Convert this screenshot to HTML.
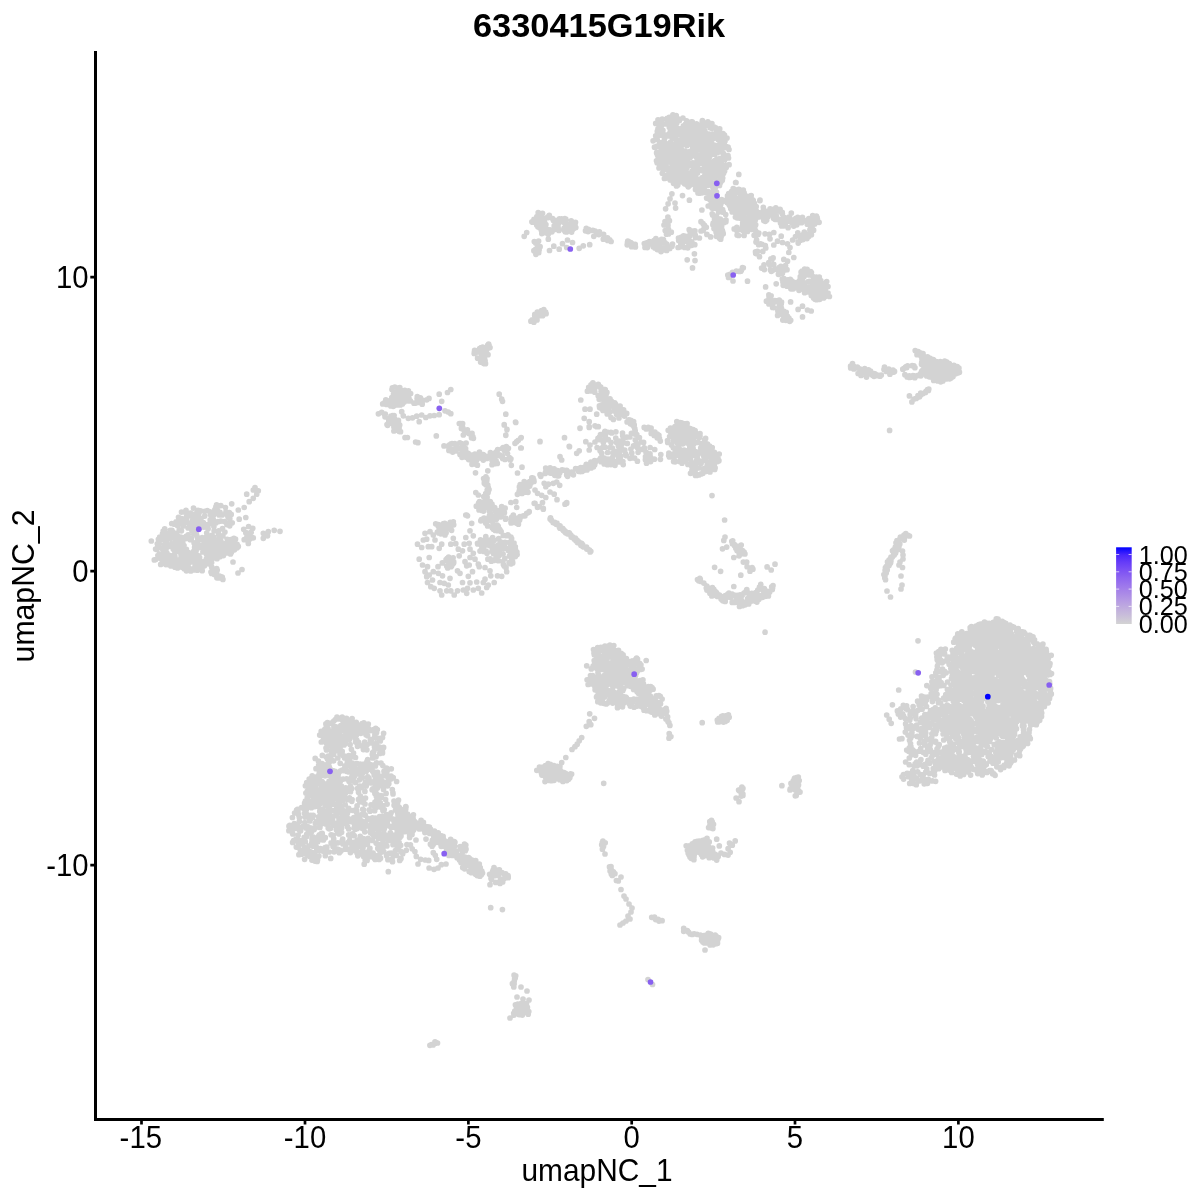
<!DOCTYPE html>
<html><head><meta charset="utf-8"><title>6330415G19Rik</title>
<style>
html,body{margin:0;padding:0;background:#fff;}
svg{display:block;font-family:"Liberation Sans",sans-serif;}
text{filter:grayscale(1);}
.t{font-size:31px;fill:#000;}
.l{font-size:26.7px;fill:#000;}
</style></head><body>
<svg width="1200" height="1200" viewBox="0 0 1200 1200">
<defs><linearGradient id="g" x1="0" y1="1" x2="0" y2="0">
<stop offset="0" stop-color="#D3D3D3"/><stop offset=".1" stop-color="#CAC0D9"/><stop offset=".2" stop-color="#C1AEDE"/><stop offset=".3" stop-color="#B69CE3"/><stop offset=".4" stop-color="#AA89E7"/><stop offset=".5" stop-color="#9D77EC"/><stop offset=".6" stop-color="#8E65F0"/><stop offset=".7" stop-color="#7C51F4"/><stop offset=".8" stop-color="#673DF8"/><stop offset=".9" stop-color="#4926FB"/><stop offset="1" stop-color="#0000FF"/>
</linearGradient></defs>
<rect width="1200" height="1200" fill="#fff"/>
<text transform="translate(599.1 37) scale(1.017 1)" text-anchor="middle" font-size="33.8" font-weight="bold">6330415G19Rik</text>
<path fill="none" stroke="#D3D3D3" stroke-width="5.7" stroke-linecap="round" d="M662.4 156.6h.01M697.6 181.7h.01M673 181.5h.01M708.2 167.8h.01M729 149.5h.01M707.3 184.4h.01M677.4 170.1h.01M666.9 159.8h.01M683.6 174.5h.01M693.2 175.4h.01M656.5 160.8h.01M687.3 166.7h.01M699.1 131.2h.01M665.9 151.3h.01M712.2 173.3h.01M695.7 182h.01M688.4 165.8h.01M718 170.8h.01M703.1 147.2h.01M696.1 146.3h.01M711.7 144.9h.01M688.5 177.5h.01M691.6 141.2h.01M718.6 145h.01M720.1 180.1h.01M686.8 173.8h.01M721.4 162.2h.01M696.1 169.6h.01M706.1 162.6h.01M684.6 127.8h.01M673.9 137.3h.01M678.9 150.7h.01M680.5 162.4h.01M681 135.1h.01M723.4 154.8h.01M721.9 139.1h.01M690.8 129.1h.01M684.6 183.8h.01M689 178.6h.01M687.7 144.3h.01M695.1 129.4h.01M675.9 173.3h.01M710.7 182.9h.01M670 167.8h.01M680.9 167.2h.01M671 153.3h.01M693.3 166.7h.01M673.6 138.5h.01M670.8 117.7h.01M714 173.5h.01M665.8 123.8h.01M676.3 178.6h.01M704.3 165.8h.01M713.7 177.1h.01M678.2 134.2h.01M686 154.4h.01M661.2 150.2h.01M703 123.7h.01M660.9 127h.01M663.2 153.1h.01M663 135.3h.01M715.7 127.9h.01M701.1 147.2h.01M684.3 182.8h.01M724.2 169.9h.01M699.7 179h.01M700.6 169.7h.01M706.2 161.4h.01M729.1 164.7h.01M710 172.2h.01M677.6 118.6h.01M660.4 127.9h.01M674.8 150.8h.01M724.6 171h.01M720.9 146.9h.01M669.9 124.3h.01M716.3 171.5h.01M667.2 135.1h.01M708.2 123.1h.01M659.2 156.7h.01M695.4 185.4h.01M700.3 139h.01M702 151.4h.01M721.6 137.3h.01M712.8 167.1h.01M666.5 175.4h.01M672.7 152.6h.01M721.4 150.8h.01M672.1 126.9h.01M667.3 176.1h.01M697.3 155.9h.01M689.1 181.8h.01M680.3 177.9h.01M717.4 152.7h.01M676.2 115.5h.01M662.2 119h.01M676.5 161.5h.01M712.4 163.1h.01M716.6 159.7h.01M666 162.5h.01M690.5 126.3h.01M701.2 182.8h.01M660.7 159.2h.01M710.8 146.9h.01M672 144.2h.01M694.7 171.5h.01M657.9 133.6h.01M653.1 140.8h.01M690.2 157.4h.01M711.8 149.9h.01M661.2 142.6h.01M675.4 179.8h.01M663 151.5h.01M704.8 156h.01M663.2 124h.01M673.2 116.4h.01M660.3 152.3h.01M679.2 162.9h.01M672.9 114.8h.01M712.6 134.1h.01M683.3 177.5h.01M686 164.2h.01M709 153.2h.01M658 119.9h.01M726.3 165h.01M687.8 160.9h.01M711.1 170.8h.01M717.5 147.6h.01M715 189.3h.01M728.1 147.1h.01M712.7 152.8h.01M686.9 145.4h.01M685.6 124h.01M696.7 170.2h.01M716.6 131.9h.01M669 136h.01M674.8 178h.01M680.7 140h.01M702.7 128.1h.01M712.7 137.6h.01M683.2 162.1h.01M670.6 142.1h.01M700.4 163.1h.01M662.3 173.3h.01M670.6 129.3h.01M693 164.1h.01M708.2 141.1h.01M685.8 129.7h.01M724.6 167.1h.01M657.2 139.5h.01M702.4 120.6h.01M725 141h.01M706 159.4h.01M671.2 162.6h.01M703 156.9h.01M707.4 182.4h.01M715.2 151.2h.01M683.1 138.9h.01M709 155.5h.01M675.9 136.2h.01M728 155.7h.01M692.2 155.7h.01M662.1 147.3h.01M719.2 166.1h.01M710.5 161.9h.01M665.7 152.8h.01M694.6 145h.01M691.6 137.6h.01M704.4 126.9h.01M690.7 152.3h.01M716.6 136.8h.01M709.7 140.9h.01M699.8 192.3h.01M717 158.9h.01M681.1 142.3h.01M722.9 165.9h.01M693 129.3h.01M692.9 137.1h.01M659.9 123h.01M716.5 192h.01M698.2 148.6h.01M705 137h.01M682.8 152.1h.01M682.4 155.8h.01M722.8 170.3h.01M662.9 130.4h.01M656.6 152.9h.01M676 121.3h.01M717.3 181.8h.01M696.5 123.8h.01M702.1 149.1h.01M721.7 145.8h.01M692.2 121.8h.01M713.6 175.4h.01M709.7 148.7h.01M684.1 179.6h.01M664.1 167.4h.01M709.6 156.7h.01M722.5 152.6h.01M688.3 136.6h.01M664.9 143.8h.01M674.9 164.2h.01M722.2 168.6h.01M674 179.5h.01M687 124.7h.01M695.4 176.5h.01M687.9 178.7h.01M698.1 189h.01M715.3 187.4h.01M665.9 135h.01M676.6 163.2h.01M702 192.8h.01M665.6 143.3h.01M717.9 159.6h.01M692.3 177.9h.01M698.2 162.9h.01M683.6 165.2h.01M723.6 173.2h.01M688.8 182.6h.01M673 122.9h.01M718.9 137.7h.01M720.3 164.8h.01M674.7 123h.01M723.6 153.6h.01M659.8 155.2h.01M683.5 167.5h.01M726 146.5h.01M695.9 139.7h.01M666.7 119.2h.01M708.2 191.5h.01M679.4 120.5h.01M710.3 123.8h.01M676.8 122.9h.01M699.5 170.2h.01M711 169h.01M659.7 158.2h.01M683.7 159.4h.01M709.6 193.3h.01M711 142.1h.01M714.3 127.2h.01M687.9 157.3h.01M706.9 146h.01M684 143.6h.01M690.7 136.3h.01M686.2 137.4h.01M719.5 185.5h.01M701.2 190.3h.01M679.5 160.1h.01M686.5 168.4h.01M716 167.1h.01M722.3 140.2h.01M708.7 134.8h.01M692 171.1h.01M717.1 169.7h.01M676.3 169.1h.01M697.6 165.5h.01M686.8 131.4h.01M710.2 152.2h.01M711.8 143.5h.01M701.5 192h.01M714 134.6h.01M707.8 144.8h.01M676.3 154.3h.01M693.8 172.2h.01M702.8 170.8h.01M681.5 170.7h.01M678.3 164.7h.01M667.8 145.4h.01M724.2 142.7h.01M659.6 143.3h.01M690.8 122.1h.01M672.4 173.8h.01M697.9 149.5h.01M673.5 183.3h.01M711.9 123.5h.01M700.6 187.6h.01M703.4 131.1h.01M680.4 166h.01M727 138.1h.01M686.5 181.2h.01M668.9 169.2h.01M705.7 152.2h.01M665.2 146.9h.01M711.8 128.3h.01M656.9 152.1h.01M716.4 182.9h.01M703.6 128.1h.01M718.3 175.1h.01M711.9 172.5h.01M705.7 156.8h.01M677.7 140.3h.01M662.4 154.6h.01M680.3 148.5h.01M720.7 171.1h.01M667.6 156h.01M657.1 146h.01M712.8 187.1h.01M692 181.2h.01M686.3 142.6h.01M691.7 128.8h.01M675.1 138.4h.01M720.8 168.1h.01M685.2 129h.01M658.3 120.9h.01M709.7 124.6h.01M695.7 125.7h.01M677.7 128.3h.01M709.3 134.2h.01M714.7 154.3h.01M694.2 151.6h.01M690.8 132.2h.01M658 128.8h.01M720.8 172.6h.01M675.8 145.9h.01M684.7 178.9h.01M655.7 135.9h.01M706 168h.01M664.5 138.7h.01M673 177.5h.01M678.6 142.7h.01M702.4 187h.01M720.7 166.1h.01M680 181h.01M707 151.1h.01M688.4 174.2h.01M669.2 117.4h.01M666.1 147.9h.01M676.3 143.4h.01M694.1 150h.01M671.8 159h.01M718.4 139.8h.01M674.4 168.9h.01M721.2 181.2h.01M690.3 185h.01M688 134.8h.01M689.7 141h.01M713.6 184.1h.01M661.2 126.2h.01M681.5 152.1h.01M706.1 135.4h.01M719.1 135.9h.01M656 139.3h.01M696.2 131.2h.01M722.7 178h.01M681.1 140.6h.01M654.5 147.2h.01M673.4 145.3h.01M677.2 144.6h.01M701.2 155.1h.01M692.4 151.7h.01M709.1 177.2h.01M720.5 182.4h.01M709.8 125.5h.01M707.9 134h.01M671 122.3h.01M704.4 176.9h.01M703.1 184.7h.01M671.8 152h.01M663.8 158.7h.01M678.2 168.8h.01M670 173.3h.01M710.9 174.6h.01M697.7 135.5h.01M685.7 156.8h.01M692.7 133.4h.01M671.6 143.5h.01M714.8 149.9h.01M694.4 143h.01M684.4 144.3h.01M663.4 169.4h.01M714.9 177.9h.01M668.6 156.6h.01M687 184.9h.01M671.9 137.1h.01M703.8 125.2h.01M719.7 128.9h.01M719.6 134h.01M657.1 162.8h.01M689.5 179.8h.01M688.2 155.1h.01M690.2 151.4h.01M683.4 125.9h.01M674.1 134.9h.01M670.2 179.9h.01M658.9 129.7h.01M675.6 132.7h.01M680.6 155.5h.01M685.4 151.1h.01M684.2 132.6h.01M666.5 169.4h.01M698.8 136.1h.01M658 146.1h.01M701.3 142.4h.01M678.5 119.4h.01M722.1 169.6h.01M668.8 161.1h.01M667.7 151.7h.01M699 160.1h.01M707.5 138.5h.01M681.5 132.8h.01M673.8 127.1h.01M679.5 172.1h.01M678 162.1h.01M710.8 182h.01M708.9 196.8h.01M693.1 130.5h.01M711.1 140.8h.01M688.1 184.4h.01M679.3 181.8h.01M714.9 152.6h.01M724.5 145.3h.01M677.1 158.1h.01M700.1 158.5h.01M728.5 158h.01M718.1 149.5h.01M709.1 183.7h.01M718.3 172.2h.01M722.5 142.7h.01M683.7 140.9h.01M677.1 121.3h.01M713.5 149h.01M697 136.6h.01M679.6 177.3h.01M688.7 163.7h.01M684.8 160.3h.01M724.5 135.1h.01M669.9 177.9h.01M717.7 166.7h.01M693.6 176.4h.01M726.2 167.6h.01M699.8 145.6h.01M697.2 160.1h.01M711.1 192.1h.01M674.2 152.5h.01M673.8 154.3h.01M720.7 135.3h.01M718.3 133.1h.01M674.8 160h.01M704.1 188.3h.01M723 133.6h.01M702.6 145.4h.01M660.1 126.3h.01M713.4 138.4h.01M698.4 155.1h.01M711.5 124.5h.01M691.4 143.8h.01M686.7 127.2h.01M662.9 144.9h.01M707.7 168.5h.01M702.5 189.9h.01M673.2 157.6h.01M691.8 180.3h.01M675.5 184.1h.01M669.3 127.3h.01M697.5 173h.01M714.2 145.2h.01M668.8 154.7h.01M696.6 157.2h.01M707.4 166.3h.01M677.5 119.9h.01M705.9 125.6h.01M700 142.8h.01M655.7 123.4h.01M671.4 178.4h.01M692.1 130.1h.01M666.9 146.8h.01M696.2 143.2h.01M676.5 185.9h.01M715.2 169.9h.01M667 149h.01M659 168h.01M664.4 178.5h.01M704.8 175.6h.01M700.2 129.1h.01M707.9 121.9h.01M686.9 121.8h.01M680.4 145.7h.01M666.8 157.2h.01M698 193h.01M678.4 174.9h.01M718.5 168.4h.01M673.6 166h.01M707.3 122.8h.01M707.1 141h.01M702.6 155.5h.01M720.6 176.4h.01M719.3 162.1h.01M697.6 158h.01M704.8 130.7h.01M686.6 120.8h.01M688.3 186.8h.01M702.3 144.4h.01M661.9 166.3h.01M690 141.9h.01M671 172.3h.01M671.1 177.3h.01M680.8 153.4h.01M677.8 184.9h.01M704.6 184.1h.01M694.9 175.6h.01M669.7 161.8h.01M712.4 154.1h.01M708.3 172.9h.01M719.8 158.5h.01M672.4 127.8h.01M665.9 161.7h.01M672.8 132.9h.01M689.8 164.2h.01M713.4 151h.01M668.2 159.1h.01M707.7 153.8h.01M678.9 133.4h.01M674.2 116.2h.01M710.3 180.4h.01M683.3 163.6h.01M667.9 169.9h.01M708.7 175.7h.01M658.2 157.9h.01M665.3 178.3h.01M681.4 128.5h.01M706.9 173h.01M700.6 134.7h.01M677.9 182h.01M657.4 154.8h.01M714.7 160.5h.01M721 144.9h.01M710.9 137.2h.01M684.9 167.1h.01M667.9 155.2h.01M676.9 132.4h.01M708.4 183.2h.01M671.4 118.7h.01M688.5 126.6h.01M701.9 147.9h.01M694 127h.01M693.9 138h.01M678.1 172.4h.01M714.7 184.4h.01M701 185.4h.01M704.6 192.4h.01M671.8 145.7h.01M670.5 127.2h.01M660.8 135.2h.01M680.9 174.4h.01M706.6 176.8h.01M686.5 179.3h.01M662.2 132.5h.01M699.3 193.2h.01M666.2 163.5h.01M724.7 147.5h.01M722.3 180.3h.01M682.1 136.7h.01M722.6 145h.01M686.9 161.1h.01M671.7 134.5h.01M664 150.4h.01M683.6 160.8h.01M695.5 189.4h.01M695.4 170.8h.01M708 181.2h.01M716.9 130.7h.01M719.1 161.3h.01M705.4 185.9h.01M681.2 157.8h.01M689.5 135.3h.01M677.7 156.5h.01M665.7 164.6h.01M682.6 181.9h.01M705.2 174.6h.01M708.5 164.5h.01M684.5 142.8h.01M690.4 131.2h.01M685.2 156h.01M673.2 167h.01M717.4 165.3h.01M705 165.2h.01M670.8 144.6h.01M700.3 182.8h.01M699.1 190.5h.01M669.8 150.5h.01M708.8 181.7h.01M702.3 177.6h.01M702 191.2h.01M685.3 173.1h.01M669.8 169.9h.01M707.5 158.8h.01M667.2 118.3h.01M692.9 162.8h.01M701.5 134.9h.01M717.8 129.3h.01M684.6 131h.01M721.4 165.7h.01M702.2 139.2h.01M664.3 164.8h.01M673.4 156.4h.01M721.4 179.1h.01M658.2 135.5h.01M681.1 148.6h.01M683.1 128.6h.01M705.7 140h.01M701.9 182.3h.01M713.2 194.7h.01M670.1 132.2h.01M692.8 152.4h.01M700.1 179.8h.01M689.6 165.2h.01M676.3 150h.01M686.8 159.5h.01M689.3 173.3h.01M676.9 119.3h.01M675.7 122.3h.01M699.3 185.3h.01M699.6 125.1h.01M683.4 135h.01M687.8 123.6h.01M717.7 133.9h.01M665.3 157.5h.01M698.2 188.2h.01M658.7 122.5h.01M708.9 174.4h.01M704.9 159.9h.01M671.2 149.3h.01M719.2 169.3h.01M686.7 135.6h.01M716.8 169h.01M724.7 159.7h.01M708.8 185.1h.01M680.5 152.6h.01M725.7 147.6h.01M684.7 141.2h.01M672.6 130.4h.01M685.5 125.9h.01M674.8 129.1h.01M670 171.8h.01M696.9 132.3h.01M677.3 152.1h.01M725.6 158.6h.01M719.7 167.5h.01M696.5 154.4h.01M706.4 154.6h.01M710.2 127.7h.01M712.8 169.7h.01M686.4 183.2h.01M662 162.9h.01M692.5 146.3h.01M672.1 132.6h.01M658 160h.01M709.1 167.5h.01M704.7 181.8h.01M682.6 150.6h.01M702.2 121.5h.01M657.3 131.4h.01M671.2 124.6h.01M692.8 150.2h.01M681.2 178.6h.01M708.8 160.7h.01M701.4 162.4h.01M706.1 192.5h.01M687.2 179.8h.01M674 164.6h.01M682.9 118h.01M676.1 145h.01M716.5 160.5h.01M723.4 221.3h.01M716.1 232.3h.01M712.2 213.8h.01M716.4 216h.01M713.2 207.4h.01M720.5 203.2h.01M714.5 227.9h.01M722.4 212.1h.01M719 208.3h.01M724.2 222.6h.01M712.6 215.1h.01M714.4 202.5h.01M726 220h.01M710.2 198.1h.01M715 198.3h.01M716.5 228.4h.01M712.4 201.7h.01M713.6 201.6h.01M722.6 209.6h.01M722.3 230.4h.01M720.3 209.1h.01M719.9 211.1h.01M712.9 224.7h.01M721.1 236.9h.01M725.7 214.5h.01M721.4 202.4h.01M717.3 223.7h.01M722.3 220.8h.01M714 228.6h.01M716 231.2h.01M717.3 218.1h.01M717.8 227.3h.01M720.9 235.5h.01M709.8 199.6h.01M706.6 198.1h.01M720.3 219.2h.01M722.8 232.1h.01M723.3 212h.01M715 216.9h.01M721.6 226.4h.01M721.5 223.4h.01M717.1 230.2h.01M714.4 206.2h.01M722.1 201.7h.01M721.3 211.6h.01M716.4 236.3h.01M718.2 222.7h.01M718.2 221.9h.01M719.2 233.3h.01M712 208.1h.01M717.7 219.4h.01M711.5 203.2h.01M713.2 223.1h.01M714.6 194.6h.01M714.8 229.1h.01M720.6 205.1h.01M712.8 203.8h.01M719.1 206.7h.01M714.5 219.1h.01M712.7 205.6h.01M715 216h.01M711.3 201.8h.01M719.6 238.3h.01M725.9 221.7h.01M720.7 239.2h.01M721.7 199.7h.01M711 196.9h.01M719.4 201.2h.01M714.3 208.2h.01M723.2 233.7h.01M718.3 225.8h.01M711.7 200.3h.01M718.5 212h.01M718.7 231.1h.01M716.6 202.2h.01M721.5 233.2h.01M708.2 206h.01M744 209.4h.01M728.7 193.7h.01M741.2 199.7h.01M739.8 218.1h.01M735.4 217h.01M754.5 229.5h.01M732.7 200h.01M739.6 209.8h.01M751.6 206.9h.01M729.5 200.2h.01M744.5 198.6h.01M738.8 189.4h.01M748.8 205.5h.01M741.3 197.7h.01M733.2 188.7h.01M734.6 193.7h.01M742.5 209.4h.01M742.7 222.8h.01M739.3 205h.01M742.5 215.1h.01M747.9 227.8h.01M746.6 198.7h.01M733.7 191.8h.01M747.2 218.1h.01M744.9 204h.01M740.1 198.2h.01M735.4 212.7h.01M740.6 203.4h.01M727 199.3h.01M747.5 219.6h.01M753.9 223.7h.01M733.4 195.6h.01M731.7 191.4h.01M732.8 196.6h.01M746.9 197.9h.01M732.2 212h.01M730.7 208.5h.01M753.2 200.3h.01M742.1 206.5h.01M752.4 202h.01M747.3 205.3h.01M740.7 211.6h.01M736.8 208.2h.01M744.1 192.8h.01M742.7 218.3h.01M748.8 196.6h.01M739.3 200h.01M737.6 203h.01M727.5 195.8h.01M752.3 229.5h.01M745.3 227.8h.01M736.7 205.1h.01M755.7 208.9h.01M740.4 206.5h.01M729.2 196h.01M734.2 189.1h.01M752.4 208.8h.01M744.6 227.2h.01M734.7 197h.01M732.6 198.9h.01M729 204.4h.01M737.1 217.8h.01M751.3 200.5h.01M738.2 192.2h.01M754 203.5h.01M747.7 196.7h.01M740.2 194.8h.01M739.8 216h.01M752.9 218.9h.01M735.9 208.7h.01M746.9 225h.01M747.2 209.5h.01M734.1 205h.01M750.8 204.9h.01M752.4 204.6h.01M749 208h.01M746.3 197.3h.01M727.6 201h.01M753.3 225.6h.01M743.3 190.2h.01M739 212.9h.01M733.4 205.8h.01M736.9 190.2h.01M728.8 201h.01M754.8 228.3h.01M749.9 198h.01M752.7 224.1h.01M735.5 192.2h.01M729.4 205.2h.01M739 202.6h.01M746.3 201.2h.01M746 224.3h.01M751.8 225.4h.01M734.5 199h.01M729 198.1h.01M750.7 221.8h.01M744.4 217.9h.01M743.3 210.9h.01M727.1 202.4h.01M742.8 197.8h.01M730.8 206.9h.01M738.3 198.7h.01M732.7 201.8h.01M743.2 207.8h.01M735.1 199.6h.01M731.4 205.8h.01M744 212.6h.01M737.3 211.4h.01M737.9 190h.01M753.5 218.2h.01M734.1 192.5h.01M734.9 201.3h.01M738.6 235.5h.01M736.8 230.6h.01M734.2 228.9h.01M743.4 230.7h.01M744.4 231.6h.01M736.8 227.4h.01M739.1 229.7h.01M744.1 235.4h.01M746.1 228.6h.01M743.3 229.8h.01M743.2 228.4h.01M737.1 235.1h.01M738.8 174.4h.01M735.6 182.5h.01M760 200h.01M627.8 241.1h.01M629.8 243h.01M635.2 244.3h.01M633.3 246.3h.01M635.4 246.9h.01M629.2 241.8h.01M633.2 244.5h.01M630.8 242.7h.01M627.5 242.4h.01M630 244.3h.01M631.6 246.7h.01M632.4 243.8h.01M627.2 244.8h.01M666.7 244.1h.01M666.9 248.7h.01M653.8 244.4h.01M653.2 246.8h.01M666.7 250.5h.01M663.4 248.2h.01M660.2 243.4h.01M645.1 245.6h.01M661.6 249.8h.01M652.1 242.8h.01M656.9 240h.01M665.3 247.8h.01M649.2 244h.01M654 240.7h.01M659.1 246.5h.01M655.7 242.1h.01M669.8 248.4h.01M647.3 247.6h.01M660 248.8h.01M664.9 242.6h.01M649.4 241.6h.01M672 246.2h.01M667.1 246.2h.01M654.9 248h.01M661.5 239.3h.01M661 251.6h.01M658.1 244.3h.01M663.1 242.3h.01M646.8 242.8h.01M655.9 238.5h.01M657.3 249.6h.01M644.3 243.6h.01M672.5 244.1h.01M645 247.4h.01M663.8 250h.01M663.4 239.6h.01M668 225.4h.01M667.9 217h.01M665.2 230.6h.01M665 221.5h.01M669.4 220.7h.01M668.5 229.4h.01M664 225h.01M668.5 233.9h.01M671.3 232.2h.01M666.5 234.2h.01M665.6 208.8h.01M668.1 203.8h.01M670 198.8h.01M671.9 193.8h.01M675 203.1h.01M675.6 208.1h.01M682.5 195.6h.01M689.4 200.2h.01M701.9 210h.01M694.4 253.8h.01M687.2 259.8h.01M695 260.6h.01M692.5 267.9h.01M706.9 234.4h.01M710.6 236.9h.01M736 182.5h.01M759.8 200.6h.01M678.1 247.5h.01M691.7 245.3h.01M699.4 238h.01M690.2 233.3h.01M689.8 235.9h.01M695.5 237.6h.01M684.2 241.5h.01M692.9 231.2h.01M691.7 241.8h.01M680.8 244.7h.01M689.2 229.7h.01M681.4 237.1h.01M683.5 235.9h.01M694.8 244.7h.01M688.9 245.1h.01M678.5 238.1h.01M695.2 235.1h.01M688.7 239.6h.01M682.7 243.1h.01M689.5 242.3h.01M678.7 240.5h.01M684.6 247.5h.01M679.8 247h.01M694.9 230.9h.01M687.8 247.8h.01M685.6 236.4h.01M704.5 225.3h.01M704.2 227.1h.01M703.2 230.3h.01M701 231h.01M706.3 227.3h.01M701 221.7h.01M703 223.5h.01M809.9 229.9h.01M804.9 234.9h.01M798.6 218.9h.01M789 217.1h.01M784.5 217.5h.01M776.9 218.3h.01M763.4 215.9h.01M775.3 210.1h.01M809.9 223.2h.01M808.8 218.7h.01M799.5 235.9h.01M791.7 222.3h.01M769.8 212.9h.01M788.1 227.7h.01M784.1 225.8h.01M799.6 219.6h.01M774.9 219.3h.01M802.9 239.6h.01M791.1 219.7h.01M785.9 219.3h.01M780.5 223.1h.01M797.8 232.8h.01M782.2 212.3h.01M768.3 212.8h.01M801.6 239.8h.01M803.4 234.4h.01M780.1 209.3h.01M800.7 218.3h.01M809.4 224.7h.01M776.3 216.1h.01M780 220.5h.01M771.9 214.7h.01M802.3 219.1h.01M817.1 217.6h.01M760.3 216.4h.01M791.3 213.1h.01M801.6 235.7h.01M765.5 211.2h.01M767.8 212h.01M761 214.6h.01M810.7 224.3h.01M798.2 243.1h.01M800.1 221.4h.01M801.4 221.6h.01M805.5 221h.01M807 238.6h.01M787.2 221.4h.01M797.6 222h.01M799.1 222.4h.01M813.6 230.2h.01M801.5 222.7h.01M798.2 241.9h.01M808.3 221.2h.01M802.4 217.3h.01M796.1 222.5h.01M813.5 223.2h.01M789.6 217.6h.01M819.1 222.3h.01M807.5 220.2h.01M783.4 221.4h.01M773.5 218.3h.01M777.2 219.3h.01M775.1 213h.01M781.6 221.1h.01M758.4 212.7h.01M811.3 220.6h.01M784.3 222.1h.01M795.5 236.6h.01M800.6 240.2h.01M763.3 207.3h.01M813.8 221.2h.01M764.6 211.1h.01M816.4 216.1h.01M797.7 217.3h.01M791.9 223.1h.01M775.9 211.6h.01M811.4 234.7h.01M804.3 232.2h.01M811.2 219.5h.01M759.5 216.8h.01M765.3 221.3h.01M784.6 218.5h.01M807.3 224.2h.01M815.4 219.6h.01M766.7 220h.01M813.1 220.2h.01M809.8 233.1h.01M774 213.7h.01M816.2 221.8h.01M775.8 207.8h.01M808.9 236.2h.01M793.7 226.1h.01M814.3 219.7h.01M785.6 223.2h.01M812.7 215.7h.01M812 227.1h.01M763.8 220.5h.01M780.7 219.4h.01M805.7 235.9h.01M767.8 216.8h.01M761.8 214.1h.01M815 218.5h.01M795.8 218.4h.01M782.7 220.6h.01M771.1 209.1h.01M782.4 214.1h.01M796.8 224.8h.01M780.5 211.7h.01M813.4 218.9h.01M771.7 213.5h.01M773.8 215.5h.01M790.8 220.7h.01M817.4 219.3h.01M803.5 238.1h.01M792.6 240h.01M781.6 226h.01M787.3 218.4h.01M770.1 208.8h.01M814.7 223.9h.01M763 211.3h.01M790.1 219.5h.01M794.4 223.4h.01M766 216.3h.01M812.6 218.5h.01M802.6 236.8h.01M743.1 195h.01M752.9 214h.01M753 219.9h.01M754.7 210.4h.01M750.7 200.7h.01M741.4 190.5h.01M747.4 212.4h.01M749 204.3h.01M751.7 207h.01M756.1 210.3h.01M746.6 218.1h.01M747.5 231.4h.01M756.2 206.6h.01M746.8 224.7h.01M741.6 195h.01M750.7 214.2h.01M750.7 222.5h.01M746.1 226.1h.01M744.6 227.2h.01M753.3 226h.01M753.4 211.1h.01M744.9 195.3h.01M742.5 225.9h.01M754.4 214.3h.01M755.2 220.2h.01M740.2 213.1h.01M755.7 224.8h.01M749.6 214h.01M741.2 196h.01M747.2 223.1h.01M743.1 222.9h.01M751.1 227.3h.01M746.4 207.1h.01M741.1 212h.01M754.5 211.8h.01M749.8 228.9h.01M754.4 203.4h.01M745.6 199h.01M752.7 211.5h.01M751.2 195.5h.01M754.4 226.6h.01M747.9 202.9h.01M742.3 213h.01M748.2 201.9h.01M749.7 218.4h.01M746.9 203.1h.01M756.2 218h.01M745.7 196.6h.01M747.2 229.9h.01M744.1 204.6h.01M745.6 197.9h.01M752.8 206h.01M740.1 199.3h.01M752 217.1h.01M752.2 223.2h.01M752.2 204.6h.01M751.9 205.9h.01M753.3 202.6h.01M752.6 199.9h.01M741.3 191.6h.01M751.2 203.7h.01M748.2 227h.01M753.9 229.5h.01M743.5 206.2h.01M756.6 212.1h.01M760 200.6h.01M765 233.8h.01M769.4 234.4h.01M773.8 232.5h.01M781.2 236.2h.01M770 238.8h.01M773.8 245h.01M777.5 241.2h.01M782.5 242.5h.01M787.5 243.8h.01M790 247.5h.01M788.8 252.5h.01M793.8 257.5h.01M783.8 259.4h.01M787.5 261.2h.01M742.5 267.5h.01M740 271.2h.01M776.2 283.8h.01M765.6 286.9h.01M747.5 281.2h.01M755.5 251.8h.01M762.8 251.4h.01M756.9 234.7h.01M758.1 234.6h.01M757.5 251.4h.01M756 242.1h.01M760.7 243.9h.01M754.1 235.3h.01M758.8 233.1h.01M754.5 227.9h.01M755.7 253.6h.01M762 244.3h.01M759.5 256.7h.01M756.6 240.1h.01M765.8 248h.01M758.6 244.7h.01M755.7 231.1h.01M765.3 245.6h.01M776.8 269.6h.01M778.4 274.3h.01M782.4 273.3h.01M779.1 267.6h.01M761.6 268.1h.01M780.8 266.3h.01M770.5 269.9h.01M771.3 271.3h.01M780.9 272h.01M770.9 258.9h.01M779.8 269h.01M768.8 262.6h.01M764 264.9h.01M764.4 269.6h.01M775.1 269h.01M778 269.2h.01M773.7 264.4h.01M773.1 257.9h.01M787 269.7h.01M771.9 259h.01M780.5 270h.01M785 270h.01M772.4 270.5h.01M785.5 265.6h.01M769.8 265h.01M782.9 270.8h.01M790.5 282.7h.01M796.1 287.5h.01M782.9 282.1h.01M791.6 283.7h.01M783.9 278.6h.01M790.3 287h.01M790.3 279.3h.01M785 281.6h.01M787 286.2h.01M790.9 288.8h.01M792 281h.01M787.8 279.9h.01M794.1 282.4h.01M796.6 285h.01M782.3 278.9h.01M789.7 284.7h.01M783.2 285.3h.01M792.6 285.1h.01M793.3 288.8h.01M815.5 281.7h.01M820.8 291.1h.01M811.4 272.6h.01M803.2 282.3h.01M802.7 286h.01M818.6 282.6h.01M817.1 297h.01M808 291.9h.01M817.7 279.5h.01M813.7 278h.01M799 290.3h.01M814.4 290.9h.01M808.4 288.5h.01M828 286.5h.01M815.3 287.9h.01M803 277.5h.01M822.2 286.3h.01M811.2 274.3h.01M801.6 284.6h.01M815.1 299.2h.01M813 276.5h.01M810.7 271.7h.01M812.1 282.7h.01M817 296h.01M798 287h.01M809.6 289h.01M802.5 278.2h.01M815.6 296.1h.01M822.8 285.6h.01M803.2 283.9h.01M829.4 296.5h.01M805.2 286.6h.01M808 289.3h.01M816.5 299.7h.01M816.3 277.1h.01M805.1 288.4h.01M798.8 285.6h.01M822.7 284.3h.01M826.2 287.4h.01M808.9 287.4h.01M824.9 295.8h.01M819.6 279.8h.01M820.8 284.5h.01M814.5 295.4h.01M804.7 289.2h.01M801.1 272.2h.01M820.9 286.6h.01M808.2 274.8h.01M809.6 274.8h.01M823.6 297.9h.01M818.2 291.1h.01M804.1 285.5h.01M808.7 272h.01M824.6 290.3h.01M799.7 280.5h.01M797.5 284.5h.01M799.5 283.7h.01M825.2 286.4h.01M827.2 293.4h.01M825.4 290.4h.01M809.4 281.4h.01M800.3 276.7h.01M804.6 292.7h.01M819.7 299.3h.01M819.4 292.9h.01M801.4 274.7h.01M802.1 271h.01M812.9 285.8h.01M819.3 277.2h.01M815.2 283.7h.01M821.8 283h.01M811.9 291.7h.01M815.9 280.6h.01M820 287.8h.01M815.9 297.2h.01M812.1 286.4h.01M811.1 292.7h.01M800.2 278.9h.01M799.7 289.4h.01M822.4 289.2h.01M811.3 295.6h.01M808.2 281.7h.01M820.8 280.6h.01M824.7 296.7h.01M812.9 293.7h.01M813.2 289.3h.01M826.6 295.8h.01M798.4 281.8h.01M815.2 278.1h.01M802 274.2h.01M820.3 289h.01M804.6 269.1h.01M828 293h.01M803.3 284.7h.01M804 276.4h.01M806.5 272.7h.01M805.1 290.9h.01M822.3 295.6h.01M807.1 269.3h.01M825.4 291.6h.01M815.3 298.2h.01M825.3 293.8h.01M812 294h.01M816 284.1h.01M805.5 269.6h.01M826.7 281.6h.01M813.6 297.9h.01M821.8 293.8h.01M788.9 318h.01M786.2 312.3h.01M773.6 307.6h.01M781.4 308h.01M777.9 310.9h.01M786.9 317.7h.01M788.1 320.2h.01M772.6 307.4h.01M779.1 306.9h.01M781.2 303.9h.01M787.5 316.4h.01M785.5 316.3h.01M785.8 320.3h.01M778.5 302.3h.01M777.6 315.4h.01M768.9 294.9h.01M783.5 313.7h.01M781.5 302.2h.01M766.4 301.2h.01M775 301.6h.01M789.7 321.3h.01M770.4 297.6h.01M784 311.3h.01M778.2 300.5h.01M782.4 310.7h.01M779.2 300h.01M769 296.6h.01M790.7 320.3h.01M778.1 311.8h.01M785.9 314.7h.01M785.4 318.7h.01M772.9 303.4h.01M771.2 302.9h.01M770.5 302.4h.01M782.7 315h.01M774.8 300.6h.01M771.1 295.8h.01M782.8 320.1h.01M768.9 304h.01M790.6 301.9h.01M798.1 309.4h.01M802.5 306.2h.01M807.5 310h.01M811.2 311h.01M802.5 316.9h.01M741.3 270.5h.01M731.6 274h.01M732.5 272.4h.01M740.8 271.2h.01M729.7 276.2h.01M736.3 271.2h.01M739.4 271.5h.01M728.5 277.4h.01M743.3 267.8h.01M729.2 274.7h.01M728.5 276.6h.01M727.8 275.1h.01M733 281h.01M747.5 281h.01M537.9 216.4h.01M557.7 226.6h.01M549.3 231.3h.01M567.5 225.2h.01M539.3 218.8h.01M537.3 220.2h.01M568.9 226.3h.01M566.5 231.9h.01M544.8 218.7h.01M555.9 220.5h.01M565.3 231.7h.01M567.8 228.2h.01M532.5 222.2h.01M537.9 226.7h.01M541.8 233.6h.01M544.9 230h.01M572.7 224.3h.01M575 224.7h.01M543.1 223.7h.01M541.5 230.8h.01M556.8 220.9h.01M542.2 224h.01M541.8 218.1h.01M555.9 226.6h.01M546.7 229h.01M548.2 234.3h.01M559.4 218.9h.01M535.9 218.5h.01M539.6 227.8h.01M569.4 230.8h.01M555.4 223.5h.01M536.7 222.7h.01M558.9 230.4h.01M543.8 221.5h.01M564.5 230.4h.01M568.7 229.1h.01M575.8 227.5h.01M570.7 229.5h.01M549.8 229.9h.01M551.9 231.8h.01M542.5 213.3h.01M547.9 216.8h.01M542.7 218.7h.01M549.3 215.4h.01M555.1 229.3h.01M540.9 217.2h.01M571.3 228.5h.01M553 219.6h.01M574 228.2h.01M544.5 232.6h.01M541 219.8h.01M572.5 223h.01M571.6 232.1h.01M566.7 223.9h.01M553.1 229.9h.01M535.4 222.3h.01M552.6 218.5h.01M558.7 223.2h.01M564.6 223.1h.01M548.3 217.6h.01M561.5 218.9h.01M558 224.6h.01M553.8 229.6h.01M536.9 216.6h.01M534 219.4h.01M531.9 221.8h.01M545.9 224.5h.01M543.8 226.7h.01M544.8 231.4h.01M543.7 231.9h.01M542.7 232.2h.01M538.2 212.7h.01M543.4 227.9h.01M572.4 229.7h.01M561.9 221.5h.01M565.8 219.2h.01M554.2 225.9h.01M563.8 222.1h.01M536.7 225.1h.01M544.7 222.9h.01M558.1 227.5h.01M572.6 225.3h.01M564 228.4h.01M571.2 220.9h.01M564.8 218.7h.01M540.9 223.2h.01M575.5 222.3h.01M553.5 220.6h.01M597.1 232h.01M604.2 237.1h.01M585.5 230.8h.01M595.2 231.1h.01M598.8 234.6h.01M609.7 239.9h.01M599.4 231.8h.01M603.6 234.4h.01M588.5 229.3h.01M586.3 228.3h.01M590.3 230.5h.01M611.1 241.5h.01M607.5 237.9h.01M607.7 240.4h.01M588.1 231.6h.01M592.8 230.4h.01M536.4 251.4h.01M538.7 252.7h.01M535.7 243.1h.01M533.9 250.7h.01M540.1 246.7h.01M539.1 249.9h.01M537.5 245.5h.01M535.6 249.3h.01M535.9 254.3h.01M538.6 241h.01M534.3 241.6h.01M526.7 232.5h.01M524.2 236.3h.01M548.3 239.2h.01M553.8 246.2h.01M549.5 250.5h.01M559.2 249.2h.01M562.5 243.7h.01M567.5 240h.01M572.5 242.5h.01M566.7 247.5h.01M579.2 248.3h.01M583.3 245.8h.01M589.7 244.7h.01M593.8 236.3h.01M603.3 239.2h.01M535 318.6h.01M534.8 314.3h.01M533.9 322.2h.01M538.3 313.1h.01M542.6 315.7h.01M541.5 310.6h.01M534.7 315.6h.01M536.2 316.5h.01M539.4 315.7h.01M543.4 314.5h.01M545.6 312.1h.01M546.1 313.7h.01M532.2 319.9h.01M530.9 321.2h.01M541.5 313.1h.01M537.3 312.1h.01M536.3 318.8h.01M537 320h.01M544.4 311.5h.01M543.8 309.7h.01M474.2 353.5h.01M485.3 349.1h.01M476.5 350.9h.01M484 352.8h.01M479.6 348.7h.01M482.9 351.3h.01M483.6 363.2h.01M490 347.6h.01M484.5 363.7h.01M481.9 349.9h.01M484.1 361.1h.01M481.2 353.3h.01M489 345h.01M482 357.4h.01M485.1 360.9h.01M478.9 351.8h.01M477.6 358.2h.01M482.7 347.1h.01M484.6 358.8h.01M481.1 347.6h.01M485.5 363.7h.01M478.3 351h.01M474.6 350.3h.01M488 354.7h.01M480.6 362.1h.01M483.7 354.6h.01M484.1 362.1h.01M487.3 354h.01M486.9 349.5h.01M475.7 352.6h.01M482.8 352.3h.01M474.4 352.1h.01M485.7 351.3h.01M486.1 348.3h.01M483.3 359.6h.01M487.8 345.2h.01M488.6 344h.01M397.6 399.9h.01M386.5 404.5h.01M404.4 393.4h.01M422.7 400.4h.01M417.3 396.6h.01M406.1 392.3h.01M429 398.4h.01M388.6 401.5h.01M404.6 398.1h.01M404.8 390.3h.01M392 389.5h.01M392.4 387.9h.01M409 398.6h.01M410.6 393.6h.01M406.7 397.1h.01M400.9 390.2h.01M420.4 397.9h.01M394.8 401.8h.01M422.2 404.2h.01M408 400h.01M408.4 390.8h.01M404.2 402h.01M394.1 393.3h.01M398.1 401.7h.01M394.9 400.2h.01M389 403.6h.01M396.8 399.6h.01M383.9 403h.01M382.7 403.9h.01M400.3 404.9h.01M393.1 401.6h.01M395.6 392.5h.01M387.2 400.6h.01M406 393.6h.01M395.3 399.1h.01M419.1 402.4h.01M393.4 402.5h.01M397.7 394.9h.01M396.5 400.3h.01M415.7 403.1h.01M401.8 391.7h.01M398 388.6h.01M397.5 388h.01M420.9 399.2h.01M393.2 406.3h.01M393.5 394.3h.01M391.8 399.8h.01M400.3 401.9h.01M401.2 396.4h.01M397.9 404.9h.01M394.3 405.4h.01M385.8 399.9h.01M402.4 404h.01M408.8 401h.01M396.9 397.1h.01M414 403.2h.01M398.2 391.7h.01M404.9 391.9h.01M402.3 395h.01M398.9 394h.01M402.7 400.2h.01M417.1 398.6h.01M410.3 400.8h.01M395.7 401.8h.01M399.8 387.5h.01M394.8 387h.01M390.8 405.9h.01M426.7 399.8h.01M393.5 399.4h.01M391.8 397.7h.01M394.2 395.4h.01M417.4 401.7h.01M394.6 418.8h.01M391 422h.01M393.1 421.2h.01M388.7 422.2h.01M399.3 431.5h.01M390.4 420.1h.01M392.4 415.6h.01M415.6 442h.01M417.9 442.7h.01M398.4 422.2h.01M384.8 414.9h.01M389.1 418.7h.01M393.7 423h.01M387.6 425.3h.01M390.9 416.2h.01M397.3 421.6h.01M393.9 431h.01M393.9 426.9h.01M390.6 423.2h.01M391.7 416.3h.01M392.3 417.8h.01M385 416.8h.01M399.7 425h.01M387 424.6h.01M388.7 419.5h.01M395.5 425.8h.01M405 437.6h.01M381.7 412.3h.01M398 424.5h.01M407.4 437.5h.01M385.3 414.1h.01M397.6 430.3h.01M378.4 413.8h.01M398.9 426.5h.01M400.5 431.7h.01M394.1 415.6h.01M397.2 420.3h.01M399.1 428h.01M398.4 420.4h.01M401.7 411.7h.01M403.3 415.8h.01M408.3 418.3h.01M412.5 417.8h.01M416.7 416.2h.01M421.7 415h.01M425.8 417.5h.01M430 415.8h.01M434.2 415.5h.01M439.2 414.7h.01M419.2 421.7h.01M439.2 394.2h.01M447.5 392.5h.01M450.8 389.5h.01M441.7 401.3h.01M445 410.8h.01M448.3 412h.01M450.8 413.7h.01M436.3 435.8h.01M471.5 437.8h.01M459.3 423.5h.01M469 433.4h.01M461.4 428.4h.01M466.5 432.5h.01M462.3 425.7h.01M462.8 427.9h.01M460.9 423.5h.01M472.8 436.5h.01M472 433.3h.01M462.6 423.5h.01M463.6 429.4h.01M471.3 435.6h.01M467.4 429.9h.01M473.4 438.3h.01M464.6 431.5h.01M463.3 435h.01M499.2 394.2h.01M501.7 399.2h.01M502.5 401.3h.01M505.8 414.2h.01M515.5 422h.01M504.2 425h.01M507 429.3h.01M505.8 435h.01M520.8 438h.01M516.7 441.7h.01M520.8 448h.01M540 441.3h.01M564.5 437.7h.01M569.2 446.3h.01M460 454.6h.01M483.3 454.7h.01M447.8 446h.01M475.1 461h.01M471.9 456.6h.01M457.9 449h.01M467 456.4h.01M495.1 453.1h.01M456.2 447.9h.01M478.7 454.5h.01M496.2 455.5h.01M449.7 449.6h.01M483.3 460.1h.01M476.2 460.5h.01M449.6 444.9h.01M448.9 450.4h.01M483.9 458.6h.01M470.8 455.2h.01M502.7 458.5h.01M456.4 447h.01M450.4 450.7h.01M452 443.7h.01M486.8 458.5h.01M507.6 453.5h.01M499.6 454.8h.01M509.4 457.7h.01M502.4 456.2h.01M480.9 458.1h.01M492.1 460.5h.01M472 464.3h.01M462.4 451.7h.01M454.8 443.7h.01M496.1 460.9h.01M476.8 459.7h.01M502.2 448.5h.01M494.8 463.7h.01M504.6 450.8h.01M463.5 446h.01M460.8 448.3h.01M497.1 451.1h.01M451.1 443.8h.01M510.9 458.8h.01M475.2 464.1h.01M482.8 455.4h.01M497.7 449.6h.01M486.6 456.3h.01M496 452.2h.01M452.7 452.1h.01M444 445.9h.01M477.4 465.2h.01M494.9 455.4h.01M452.3 449.3h.01M497.3 463.4h.01M467.8 455.9h.01M462.3 453.7h.01M506.3 446.7h.01M461.6 443.7h.01M504.9 459.5h.01M510.2 459.9h.01M469 455.6h.01M489.3 456.5h.01M464.7 456.3h.01M459.8 442.8h.01M462 457.3h.01M500.4 456h.01M483.2 456.9h.01M473.1 462.1h.01M463.6 457h.01M465.6 448.7h.01M478.4 457.7h.01M506.6 451.6h.01M493.3 458.9h.01M474.9 454.1h.01M503.1 447.7h.01M455.7 450.9h.01M479.5 452h.01M491.4 456.8h.01M468.8 458h.01M468.7 459.6h.01M467 457.4h.01M485.1 456.9h.01M508.4 448.3h.01M472.8 454.9h.01M466 451.8h.01M476.8 458.2h.01M492.9 455.9h.01M466.1 443h.01M498.2 454.8h.01M490.4 452.6h.01M468.2 453.3h.01M515 443.3h.01M518.3 440.3h.01M521.2 437.5h.01M521.2 448h.01M511.3 465.3h.01M492 464.7h.01M487.8 470.8h.01M475.5 472.8h.01M436.3 436h.01M515.8 422.5h.01M540 441.7h.01M504.2 424.7h.01M507 429.7h.01M505.8 435.3h.01M475.8 492.5h.01M478.3 495h.01M466.7 515h.01M471.7 523.3h.01M480.8 520.8h.01M501.7 506.7h.01M505 508.3h.01M510.8 502.5h.01M515.8 501.7h.01M516.7 507.5h.01M513.3 515h.01M520 518.3h.01M525 515.8h.01M528.3 512.5h.01M517.5 473h.01M522 467.2h.01M524.2 481.7h.01M487.8 485.2h.01M484.4 481.2h.01M489 489.5h.01M485.5 498.7h.01M485.7 493.5h.01M484.9 479.8h.01M488.1 492.4h.01M485.5 495.4h.01M487 478.6h.01M485.5 497h.01M487.2 490.1h.01M483.6 478.5h.01M487.1 497.2h.01M488.3 487.8h.01M485.9 484.8h.01M486.8 480.4h.01M484.3 483.2h.01M485.9 476.8h.01M486.5 482.3h.01M483.7 496.6h.01M531.8 477.9h.01M526.6 482.8h.01M533.1 478.2h.01M523.8 485.6h.01M533.8 480h.01M526.9 489.4h.01M518.2 493.6h.01M534 481.5h.01M527 487.1h.01M519.4 486.9h.01M520.2 484.6h.01M531 483.1h.01M519.6 487.7h.01M529.6 481.6h.01M524.3 489.1h.01M525.2 492.1h.01M522 493.4h.01M521.2 491.1h.01M519.2 491.2h.01M528 492.3h.01M529.7 486.1h.01M524.7 485h.01M517.4 494.3h.01M540 474.5h.01M554.8 475.3h.01M580.7 467.7h.01M583.4 470.4h.01M602 457.7h.01M607.1 463.2h.01M554.9 473.4h.01M578.5 471.3h.01M592.2 465.5h.01M610.5 461.7h.01M584.9 466.8h.01M583.5 468.1h.01M593.2 463.5h.01M572.8 473.1h.01M551.5 471.5h.01M605.5 461.7h.01M575.6 468.7h.01M581.9 468.6h.01M566.7 474.9h.01M611.6 463.9h.01M573.4 474.8h.01M595.2 462.6h.01M600.9 461.7h.01M590.9 462.2h.01M558.7 475.8h.01M550.1 467.8h.01M566.7 470.3h.01M585.5 469h.01M591.1 468h.01M562.1 469.9h.01M550.3 473.1h.01M590.9 466.4h.01M605.8 463.1h.01M540.8 476.3h.01M557.5 470.5h.01M607.9 459.1h.01M548.3 470.4h.01M600.8 460.2h.01M604.2 464h.01M578.5 468.5h.01M560.4 471h.01M571.7 472h.01M559.8 472.7h.01M557.4 475.8h.01M608.1 460.5h.01M545.7 468.1h.01M594.6 460.7h.01M564.4 470.3h.01M545.6 472.1h.01M554.1 468.8h.01M604.3 458.2h.01M607.4 464.7h.01M553.3 473.5h.01M579.4 470.2h.01M569.5 472.4h.01M569.5 473.8h.01M587 470h.01M549 471.9h.01M586.3 464.3h.01M581.9 471.5h.01M593.5 466.8h.01M592 464.2h.01M554.5 471.2h.01M600.7 458h.01M545.2 473.4h.01M606.6 460.2h.01M594.7 464.8h.01M586 465.9h.01M580.4 471.6h.01M598.9 460h.01M567.6 476.3h.01M610.3 464.1h.01M588.6 465.1h.01M604.3 461h.01M571 473h.01M560 456.7h.01M561.7 460h.01M569.5 446.7h.01M564.5 437.5h.01M579.2 450.8h.01M576.7 453.3h.01M585.8 441.7h.01M590 445h.01M589.2 450h.01M580 428h.01M589.2 426.7h.01M596.7 426.7h.01M605 431.3h.01M611.7 433h.01M600 436.7h.01M608.3 439.7h.01M603.3 442.5h.01M602.5 447.5h.01M610 447.5h.01M616.7 452.5h.01M601.7 453.3h.01M618.3 445.8h.01M544.2 483.3h.01M548.3 484.2h.01M553.3 483.3h.01M556.7 482h.01M559.7 485.3h.01M545.8 486.7h.01M535 490h.01M537.5 493.3h.01M541.7 495.3h.01M545.8 497.5h.01M550 492h.01M554.2 494.2h.01M557 499.7h.01M535 503.3h.01M539.2 506.7h.01M543.3 508.3h.01M542.5 502.5h.01M566.7 502.5h.01M565 504.2h.01M490.4 508h.01M496.3 519.3h.01M491.9 504h.01M488.6 520.6h.01M484.4 502.6h.01M502.5 511.4h.01M498.3 510.6h.01M506 518.4h.01M518.4 524.2h.01M481.4 505.3h.01M486.2 505.5h.01M489.3 516h.01M483 519.6h.01M488.1 505.5h.01M489.7 506.7h.01M513.5 522.4h.01M497.6 515h.01M510.9 521.9h.01M483.5 511.1h.01M500.3 517h.01M493.6 525.6h.01M497.3 528.8h.01M479.5 501.5h.01M488.5 502h.01M489.4 511.6h.01M478.6 503.1h.01M485.9 506.7h.01M511.7 521.5h.01M494.6 519.6h.01M486.5 521.4h.01M482.3 502.4h.01M491.6 520.7h.01M481.9 510.5h.01M517.7 520.3h.01M493.4 507.9h.01M480.4 507.1h.01M490.4 516h.01M497.7 512.3h.01M493.5 529.2h.01M480.7 505.9h.01M511.4 520.2h.01M479 510h.01M511.8 517.2h.01M490.2 512.4h.01M501.7 515.4h.01M492.2 527.7h.01M485.7 522.9h.01M517 523.3h.01M497.2 525.1h.01M488.8 508.5h.01M503 510.2h.01M505.5 519.2h.01M484.1 518.2h.01M519.6 520.1h.01M487.3 519.5h.01M497.4 526.9h.01M476.3 506.2h.01M499.3 510.5h.01M505.1 508.2h.01M498.3 526.4h.01M495.8 512.1h.01M494.6 515.9h.01M481.4 519.5h.01M498.1 513.5h.01M492.3 516.6h.01M490.2 501.6h.01M504.4 512.7h.01M482.1 509.1h.01M493.1 524.2h.01M487.6 525.9h.01M490.6 508.9h.01M494.7 507.5h.01M511 523h.01M487.6 521.1h.01M495.7 518h.01M516.7 518.3h.01M520 516.7h.01M523.3 515.8h.01M526.7 513.3h.01M529.2 511.7h.01M504.8 558.6h.01M515.2 550.6h.01M481.1 545h.01M493.8 560.5h.01M480.9 550.3h.01M486.3 542h.01M498.2 545h.01M509.4 556.1h.01M491.3 561.2h.01M484.3 542.7h.01M488.5 545.1h.01M514.9 552h.01M481.7 545.6h.01M510.4 554h.01M509.1 562.5h.01M510.7 563.9h.01M487.6 544.9h.01M512.5 561.5h.01M498.5 547.9h.01M516.9 552.1h.01M480.5 539.8h.01M511.2 557.7h.01M502.9 561.6h.01M496.9 559.8h.01M511.6 561.7h.01M515.3 556.6h.01M509.3 542.4h.01M490.8 539.9h.01M507.9 534.8h.01M493.4 553.5h.01M511.6 538.7h.01M488.2 540h.01M490.2 558.9h.01M500.1 541.8h.01M510.8 543.7h.01M504.2 566.1h.01M492.9 544.7h.01M506.4 548.6h.01M514 543.1h.01M490.1 545.7h.01M512.5 544.4h.01M499.2 551.4h.01M485.8 536.7h.01M488.5 543.9h.01M512.7 562.9h.01M512.5 548.5h.01M513.2 546h.01M485 543.8h.01M503.3 548.4h.01M502.3 542.7h.01M515.5 549.8h.01M482.6 549.3h.01M487.9 559.2h.01M495.6 554.2h.01M512.6 550.2h.01M487.5 543.5h.01M480 551.1h.01M508.4 550.6h.01M482 547.5h.01M498.3 560.7h.01M506 567.7h.01M510.9 537.2h.01M503.1 554.1h.01M486.1 551.1h.01M510.8 542h.01M483.9 544.4h.01M513.9 549.9h.01M515.3 546.8h.01M493.4 550.9h.01M481.4 540.4h.01M502.7 545.9h.01M492.4 548.7h.01M511.7 546.3h.01M498.7 538.7h.01M497 548.9h.01M491.9 551.3h.01M483.8 551.5h.01M495.9 557.9h.01M510.7 556.2h.01M477.7 544h.01M503.4 564.5h.01M504.2 544.9h.01M496.7 554.3h.01M517.1 554.5h.01M499.1 555.6h.01M492.6 537.5h.01M487 553.3h.01M483.7 549.3h.01M513.5 548.8h.01M505 542.4h.01M510.3 545.2h.01M506.5 535.7h.01M494.2 540.3h.01M500.2 530.4h.01M495.3 530.4h.01M499.6 529.3h.01M503.3 535.4h.01M501.1 531.5h.01M497.6 530.7h.01M448.5 528.1h.01M437.4 532.1h.01M438.8 533h.01M451.9 524.6h.01M438.5 531.4h.01M444.9 527.7h.01M451.1 523.2h.01M452.6 522.8h.01M440.8 533.8h.01M453.7 524.8h.01M438.3 526.2h.01M453.3 521.8h.01M438.4 524.7h.01M435.7 523.8h.01M450.3 522.4h.01M446.1 527.1h.01M452 523.4h.01M444.3 529.6h.01M441 529.1h.01M443.4 530.6h.01M445.7 532h.01M443.5 523.6h.01M441.8 526.7h.01M445.1 526h.01M445 534.9h.01M447.5 528.5h.01M444.9 528.6h.01M450.5 527.6h.01M439.5 527h.01M444.7 523.4h.01M448.4 524.3h.01M446.1 532.8h.01M451.6 530.3h.01M439.6 532.2h.01M442.5 524.5h.01M417.5 544.2h.01M421.7 547.5h.01M423.3 540h.01M425 533.3h.01M430 531.7h.01M433.3 535h.01M435 540h.01M426.7 539.2h.01M428.3 546.7h.01M431.7 546.7h.01M439.2 548.3h.01M441.7 544.2h.01M419.2 559.2h.01M422.5 565h.01M427.5 566.7h.01M425 571.7h.01M429.2 575h.01M433.3 571.7h.01M438.3 573.3h.01M442.5 575.8h.01M426.7 576.7h.01M432.5 580h.01M427.5 582.5h.01M430.8 586.7h.01M434.2 588.3h.01M440 582.5h.01M444.2 583.3h.01M448.3 585h.01M440 590.8h.01M441.7 595h.01M446.7 590.8h.01M450.8 590.8h.01M454.2 595h.01M457.5 590.8h.01M463.3 590h.01M466.7 593.3h.01M467.5 588.3h.01M473.3 590h.01M478.3 588.3h.01M481.7 593h.01M486.7 587.5h.01M488.3 585h.01M494.2 582.5h.01M483.3 582.5h.01M485 579.2h.01M490.8 575.8h.01M497.5 575.8h.01M501.7 576.3h.01M506.7 571.7h.01M446.1 559.6h.01M448.1 566.9h.01M448.5 561.2h.01M450.9 566.7h.01M453.1 557.8h.01M453.7 562.8h.01M446.7 560.3h.01M449.8 565.4h.01M447.3 558.4h.01M446.7 565.9h.01M442.3 562.9h.01M450.2 560.2h.01M453 563.8h.01M452.3 561.7h.01M447.7 567.9h.01M451.6 566h.01M452.4 563h.01M448.6 557.1h.01M453.7 561.9h.01M429.2 557.5h.01M438 566.7h.01M453.3 538.3h.01M450.8 544.2h.01M455.8 543.7h.01M458.3 549.2h.01M462.5 550.8h.01M459.2 555.8h.01M464.2 544.2h.01M465.8 537.5h.01M470 530.8h.01M473.3 535.8h.01M469.2 543.3h.01M470 549.2h.01M473.3 553.3h.01M470 557.5h.01M475 559.2h.01M465 561.7h.01M466.7 565.8h.01M469.2 565h.01M478.3 564.2h.01M479.2 566.7h.01M485 567.5h.01M490 570.8h.01M472.5 571.7h.01M457.5 570.8h.01M460 573.3h.01M468.3 576.3h.01M450 578.3h.01M462.5 582.5h.01M470 582.8h.01M476.7 582h.01M477.5 543.3h.01M465.8 515h.01M467.5 515.8h.01M471.7 523.3h.01M567.5 533.8h.01M560 528.2h.01M582.6 544.6h.01M579.9 543.3h.01M564.5 530.8h.01M556.9 523h.01M590.1 551.9h.01M550.5 517.9h.01M562.6 528.3h.01M570.7 534.9h.01M588.1 549.3h.01M563.6 529.5h.01M560 525.8h.01M577 540.2h.01M565.6 532.8h.01M580.9 545.2h.01M576 540.8h.01M581.3 544h.01M586.6 547.9h.01M562.1 528.9h.01M574.2 538.9h.01M575.3 538h.01M583.7 547h.01M589.5 550.1h.01M559.5 527.5h.01M554.8 522.4h.01M590.8 551.3h.01M571.2 535.8h.01M564.6 531.5h.01M573 537.1h.01M565.1 531h.01M569.2 532.9h.01M577.5 542.6h.01M571.2 537.1h.01M586.5 547.2h.01M563.4 530.4h.01M581.6 543.3h.01M578.8 541.8h.01M581.7 545.4h.01M555.4 523.5h.01M586.8 549.1h.01M568.4 532.8h.01M556.3 524.3h.01M589.9 551.3h.01M582.6 546.2h.01M553.1 522.6h.01M560.6 528h.01M550.8 519.2h.01M555.3 522.9h.01M576 540h.01M551.4 520.2h.01M550.1 518.9h.01M582.6 545.4h.01M573.6 537.6h.01M565.5 532.1h.01M534.2 503.3h.01M537.5 507.5h.01M543.3 509.2h.01M542.5 502.5h.01M566.7 503.3h.01M601.1 389h.01M635.2 430.8h.01M613.4 419.5h.01M591 384.9h.01M607.2 413.9h.01M588.7 387.3h.01M615.5 404.1h.01M604.3 389.7h.01M592.9 382.9h.01M605 399.8h.01M627.1 421.9h.01M607.9 411.6h.01M603.1 395.9h.01M594.6 389.5h.01M591 391h.01M609.1 407.4h.01M617.9 410.7h.01M614.2 410.9h.01M611 417.6h.01M602.8 408.4h.01M619 418h.01M609.7 412.1h.01M587.4 391.2h.01M611.4 404.5h.01M624.5 416.1h.01M606.1 394.4h.01M603.9 404.6h.01M593.2 386.8h.01M591.7 385.5h.01M606.9 392.4h.01M620.1 406.1h.01M605.2 389.6h.01M630.1 422.3h.01M633.6 421.7h.01M630.4 423.8h.01M603.4 406h.01M607.2 404.9h.01M609.8 405.5h.01M623.6 409.9h.01M622.7 414.7h.01M603.7 399.9h.01M620.8 411.3h.01M591.7 387.7h.01M601 398.4h.01M605.7 397.5h.01M601.8 404.8h.01M635 434.1h.01M614.5 407.6h.01M604.2 403.4h.01M602.1 393.3h.01M611.6 403.7h.01M614.7 402.9h.01M634.8 428.7h.01M593.3 383.8h.01M601.5 394.2h.01M609.8 401h.01M623.3 410.7h.01M633.9 426.4h.01M598.2 395.8h.01M603 410.5h.01M597.7 385.3h.01M634.4 432.7h.01M626.7 413.4h.01M604.1 401.4h.01M599.5 386.4h.01M601.1 391.6h.01M634.2 424.9h.01M598.3 384.3h.01M632.7 425h.01M630.8 420.3h.01M633.4 423.6h.01M611.3 401h.01M628.3 421.7h.01M620.7 414.8h.01M616.8 411.5h.01M619.8 410.6h.01M601.8 408.8h.01M601.4 406.4h.01M612.3 404.2h.01M600.7 387h.01M610 398.9h.01M599.2 399.3h.01M605.2 407.7h.01M616.6 414.6h.01M612.1 405.3h.01M628.9 419.9h.01M594.8 392.2h.01M599.4 405.9h.01M599.6 407.4h.01M606.3 409.6h.01M618 406.9h.01M580.8 400h.01M585 409.2h.01M590 409.2h.01M584.2 418.3h.01M589.2 421.7h.01M580 428.3h.01M589.2 427.5h.01M595 425.8h.01M598.3 426.7h.01M596.7 414.2h.01M676.8 421.6h.01M695.5 475.4h.01M680.9 442.2h.01M682.8 459.4h.01M692 469.8h.01M701.1 463.2h.01M712 449.9h.01M705.9 451.8h.01M694.8 466.6h.01M714.2 465.2h.01M690.5 459.2h.01M691.6 466.1h.01M682.8 443.8h.01M705.6 471.5h.01M672.7 431.8h.01M681.5 426.1h.01M667.5 440.6h.01M707.2 465.4h.01M674.6 436.8h.01M695.1 430.6h.01M682.7 442.2h.01M684.9 425.2h.01M681.6 422.9h.01M696.7 475.5h.01M691.5 472.4h.01M697.2 457.2h.01M718.9 460.7h.01M681.8 434.4h.01M691.3 433h.01M680.1 449.5h.01M684.1 450h.01M714.7 469.5h.01M700 433.6h.01M688.8 453.4h.01M709.6 446h.01M707.5 463.4h.01M685.2 451.6h.01M674.9 448.9h.01M716.6 458.6h.01M715.1 467.9h.01M717.9 458.3h.01M708 447h.01M673.3 440.8h.01M704.9 451.7h.01M676.6 454.5h.01M693.2 429.7h.01M717.4 455.6h.01M677.1 424.2h.01M717.2 457.1h.01M703.4 455.5h.01M692.8 465.1h.01M676.5 455.4h.01M686.4 458.1h.01M686.6 432.7h.01M704.7 453h.01M713.8 463.8h.01M673.3 447.8h.01M707.1 457.2h.01M685.1 433.3h.01M691.7 443.7h.01M705.6 444h.01M668.7 455.6h.01M678.3 447.1h.01M694.6 468.6h.01M711.8 456h.01M684 454.3h.01M681.8 423.8h.01M709.9 463.7h.01M677.2 442.9h.01M706.9 447h.01M701.6 444.8h.01M710.3 465.5h.01M693 453.6h.01M698.9 475h.01M707.4 462.6h.01M699.3 467.8h.01M682.9 429.2h.01M680.2 434.8h.01M685.7 435.9h.01M673.8 453.9h.01M698.8 437.7h.01M668.9 453.1h.01M676.5 431.1h.01M684.8 441.3h.01M689.7 446.7h.01M700 436.1h.01M696.1 451.8h.01M695.7 469.3h.01M714.4 452.3h.01M682 463.2h.01M670.5 428.1h.01M673.4 429.4h.01M681.2 429.9h.01M689.2 432.9h.01M702.9 473.3h.01M679.9 432.1h.01M710 471.9h.01M679.8 437.6h.01M692.2 448.4h.01M693.1 448.6h.01M687.1 423.5h.01M712.5 462.9h.01M712.2 447.5h.01M689.1 454.3h.01M713.9 457.2h.01M692.2 429.5h.01M708.8 466.4h.01M700.7 448h.01M689.6 455.7h.01M677.9 438h.01M717.5 461.6h.01M693.1 445.1h.01M701.1 443.5h.01M680.2 424.7h.01M669.4 457h.01M687.9 464.5h.01M705.6 438.4h.01M672 432.2h.01M678.7 453.8h.01M707.7 464.8h.01M710.8 450h.01M680.1 456.4h.01M688.5 443.5h.01M700 461.1h.01M695.6 436.3h.01M694 443.6h.01M693.3 439.9h.01M707.5 469.5h.01M704.8 460.3h.01M679.6 461.4h.01M700.2 452.8h.01M719.2 454.1h.01M677.6 439.9h.01M677.6 455h.01M686.1 442.7h.01M685.1 430.1h.01M693.1 441.7h.01M704.7 440h.01M675 426.7h.01M674.6 460.5h.01M680 439.1h.01M680.8 453.2h.01M690.3 428.7h.01M671.5 444.9h.01M690.5 473.3h.01M678.8 447.8h.01M703.6 471.1h.01M676.9 435.6h.01M678.9 433.4h.01M689.4 434.1h.01M711.7 460.2h.01M703.9 444.8h.01M694.7 469.5h.01M669.6 436.5h.01M683.7 423.7h.01M711.1 454.8h.01M670.7 432.3h.01M691.9 462.5h.01M709.4 462.5h.01M680 422.5h.01M694.6 473.4h.01M713.3 454.1h.01M703.9 468.6h.01M673.6 461.6h.01M713 467.6h.01M706.8 454.3h.01M680.3 430.9h.01M678.2 442.8h.01M703.2 472.3h.01M672.2 456.6h.01M693.4 451.5h.01M699.7 437.3h.01M677.3 451.6h.01M670.6 454.3h.01M696.3 474h.01M701.1 473.9h.01M690.1 439.5h.01M674.8 439.9h.01M668.2 430.3h.01M674.5 428.8h.01M678.7 454.8h.01M692.8 455.3h.01M701.9 461.2h.01M675.1 461.8h.01M705.1 449.4h.01M692.1 438.7h.01M687.5 434h.01M677.7 433.7h.01M696.4 462.7h.01M679.6 424.1h.01M684.2 436.7h.01M683.1 456.3h.01M675.9 440.8h.01M696.6 460.1h.01M667.7 442.5h.01M704.8 454.9h.01M702.4 444.5h.01M675.1 431.7h.01M695.7 433.1h.01M682.2 424.7h.01M707.5 444h.01M687.7 437.9h.01M685.8 461.1h.01M688.9 429.8h.01M688 427.8h.01M714.5 461.9h.01M677 425.9h.01M696.3 467.7h.01M690.3 433.3h.01M672.2 435.6h.01M685.5 457.5h.01M672.3 434.2h.01M681.9 450.5h.01M688.7 450.1h.01M698 442.4h.01M704.9 456.7h.01M646.2 428.9h.01M660.3 441.1h.01M654.9 432h.01M651.2 433.5h.01M657.3 434.2h.01M658.9 435.3h.01M654.2 435.4h.01M648.3 427.3h.01M659.4 438.3h.01M657.2 437.8h.01M644.2 427.4h.01M651.1 428.1h.01M649.2 428.8h.01M595 442h.01M646 452.2h.01M630 458.3h.01M612.3 457.8h.01M605.3 435.7h.01M627.3 443.4h.01M606.8 439.7h.01M639.4 437.6h.01M644.3 447.9h.01M612.3 460.8h.01M610.9 464.6h.01M634.6 458.1h.01M643.6 442.4h.01M600.5 434.6h.01M607.1 432h.01M623.1 442.4h.01M618.5 458.4h.01M615.8 438.2h.01M617.4 454.1h.01M620.1 459.8h.01M626.4 455.7h.01M620.8 456.3h.01M637.8 445.5h.01M641.1 442h.01M631.8 453.1h.01M616.5 461.7h.01M600.1 450.7h.01M623.2 464.6h.01M646.5 463.2h.01M616.6 442.6h.01M654.4 459.2h.01M612.9 453.1h.01M626.9 437.1h.01M645.5 456.7h.01M605 447.2h.01M622.9 461.5h.01M650 453.9h.01M635.3 439.9h.01M619.9 441.1h.01M625.6 453.8h.01M598 438.4h.01M604.2 440.1h.01M650.1 447.5h.01M645.4 459.7h.01M597.1 447.5h.01M642.1 449.4h.01M615 465.3h.01M636.5 443.8h.01M613.3 455.3h.01M623.7 438.1h.01M602.3 460.9h.01M631.4 433.3h.01M619 461.9h.01M636.8 434.5h.01M619.1 445.9h.01M620 451.5h.01M612.3 448.1h.01M611 442.4h.01M660.4 459.3h.01M621.9 449.4h.01M630.9 449h.01M654.7 449.5h.01M660.8 454.6h.01M617 451.1h.01M615.9 431.8h.01M599.4 437h.01M621.7 444.5h.01M599.6 439.7h.01M637.4 447.6h.01M632 457.9h.01M650.6 457.4h.01M637.4 461.2h.01M607.6 452.5h.01M604.5 432.4h.01M629.9 437h.01M638.1 452.3h.01M633.5 445.9h.01M610.9 432.4h.01M622.5 433h.01M606.9 460.6h.01M650.6 461.6h.01M624.8 450.1h.01M601.8 458.6h.01M622.7 435.8h.01M712 495.6h.01M724.6 520h.01M187.2 559.6h.01M223.4 555.6h.01M171 556.3h.01M196.5 565.9h.01M178 541.1h.01M194.7 570h.01M183.9 566.4h.01M173.7 558.5h.01M210.8 563.1h.01M168.3 558.1h.01M164.1 537.8h.01M159.7 558.1h.01M203 562.3h.01M166.7 563h.01M233.9 538.4h.01M197.2 541.5h.01M162.9 558.7h.01M179.4 560.6h.01M215.1 545.6h.01M209 555.8h.01M199.2 545.4h.01M159.2 543.6h.01M167.9 539.2h.01M197.3 570.2h.01M208.6 552h.01M198.7 555.9h.01M219.7 548h.01M206.8 563.5h.01M181.4 544.3h.01M228.7 546.8h.01M199.6 557.7h.01M191.4 561.9h.01M162.5 533.9h.01M237.1 547.8h.01M158.4 539.3h.01M177.4 542.2h.01M228.6 542.4h.01M195.7 564.6h.01M194.6 550.1h.01M193.6 551.4h.01M177.7 544.3h.01M229.9 539.9h.01M165.9 564.6h.01M166 549.2h.01M195.3 554.4h.01M213.4 555.4h.01M181.1 555.8h.01M202.4 539.7h.01M186.4 570.8h.01M194.1 543h.01M210.9 545.2h.01M209.8 560.8h.01M214.8 542.6h.01M218.7 539.2h.01M183.5 562.9h.01M195.4 550.8h.01M151.3 541h.01M188.1 534.9h.01M222.9 545.6h.01M208.6 542.6h.01M207.5 558.1h.01M173.6 536.4h.01M157.2 548.2h.01M219.1 542.2h.01M227.2 539.3h.01M173.7 545.7h.01M175.5 545.3h.01M206.5 554.5h.01M184.2 568.7h.01M169 544.9h.01M174.5 538.6h.01M180.4 548.7h.01M170 538.8h.01M218.6 544.9h.01M224.6 548.9h.01M234.9 548.7h.01M207.5 547.7h.01M197.9 538.7h.01M156.8 549.4h.01M192.3 556.3h.01M172.7 532.1h.01M166.9 553h.01M198.1 540h.01M175 567.2h.01M212.7 538.1h.01M168.2 556.7h.01M179.1 566.2h.01M174.9 556.6h.01M197 564.6h.01M180.1 541.7h.01M174 563.3h.01M193.3 552.1h.01M211.8 554.4h.01M185.6 556.1h.01M160.4 538.4h.01M179.8 540.9h.01M205.2 548.5h.01M205.3 564.1h.01M158.6 546.4h.01M207.6 546.2h.01M221 543.8h.01M185.4 552h.01M161 555.3h.01M219.3 556.1h.01M188.9 567.8h.01M214.4 545h.01M160.7 564.4h.01M155.6 549.1h.01M186.7 558.2h.01M199.4 568.9h.01M188.3 555.7h.01M173.2 549.1h.01M164.7 528.9h.01M220.1 541.9h.01M162.6 560.3h.01M189.5 556.5h.01M226.4 553h.01M157.3 543.8h.01M214.3 546.1h.01M233.9 542.7h.01M183.9 537.7h.01M204.3 546.4h.01M225.5 543.6h.01M177.5 568h.01M191.3 538.6h.01M175.8 539.5h.01M184.5 557.4h.01M185.7 538.6h.01M195.7 560.2h.01M155.6 559.5h.01M215 548.7h.01M195.7 561.1h.01M176.9 565.6h.01M186.4 549.4h.01M219.8 556.7h.01M170.2 559h.01M213 557.2h.01M180.7 558.9h.01M187.4 537.2h.01M221 545.7h.01M209 538.8h.01M203.9 561.5h.01M168 533.3h.01M157.9 555.6h.01M161.4 559h.01M193.7 568.5h.01M163.4 563.3h.01M201.4 569.6h.01M226.7 550.6h.01M234.4 549.8h.01M223.2 553.7h.01M163.2 533.3h.01M180.8 537h.01M196 556.2h.01M188.1 537.7h.01M206.8 560.8h.01M198.7 567.3h.01M173.7 559.5h.01M182.8 543.1h.01M180 552.2h.01M202.2 570.7h.01M198.2 547.8h.01M165.5 555h.01M193.6 534h.01M173.1 547.4h.01M211.6 562.5h.01M170.3 530.3h.01M163.2 531.1h.01M235.5 539.2h.01M203.3 550.9h.01M164.2 555.6h.01M162.5 553.4h.01M196.3 549.9h.01M200 545.3h.01M173.8 549.6h.01M224.6 552h.01M207 549.6h.01M181.5 546.8h.01M185.6 553.2h.01M235.7 545h.01M197.9 561.4h.01M167.7 555.1h.01M200 563.6h.01M214.2 557.9h.01M204.4 565.7h.01M232.2 542h.01M227.6 550.8h.01M161.4 557.7h.01M163.5 557.7h.01M176.7 549.6h.01M215.1 540.1h.01M230.6 545.1h.01M159.7 537h.01M194.1 553.2h.01M178.4 565.3h.01M174.6 554.1h.01M215.6 556.5h.01M206.3 559h.01M168.5 546.5h.01M212.3 546.2h.01M184 545.6h.01M192.4 558.1h.01M194.6 547.4h.01M181.5 567.1h.01M171.9 530.3h.01M163 539.2h.01M215.2 541.7h.01M238.3 546.4h.01M195.5 546.4h.01M208.9 563.8h.01M206.4 543.3h.01M187.8 559.1h.01M182.3 561.3h.01M162.2 548.5h.01M209.5 557.1h.01M170.4 546h.01M214.6 555h.01M220.5 556.1h.01M201.3 538.1h.01M209.4 536.6h.01M158.3 545.2h.01M170.2 561.2h.01M213 553.8h.01M211.1 538h.01M163.6 560.3h.01M219.8 551.2h.01M167.6 546.1h.01M172.4 560.8h.01M202.2 567.6h.01M218.2 548h.01M201.6 565.1h.01M196.1 548.3h.01M202.9 551.9h.01M166.2 533.6h.01M210.2 545.7h.01M171.6 534.8h.01M176.5 534.4h.01M204.2 541.6h.01M227.6 544.7h.01M177.7 536.2h.01M191.5 569.9h.01M230.5 553.9h.01M216.4 552.6h.01M188.5 552.6h.01M170.2 555.6h.01M206.2 537.2h.01M180.7 545.4h.01M195.9 553.7h.01M185.9 561h.01M181.6 551.5h.01M177.4 560.1h.01M188.3 563.7h.01M164.3 546h.01M160.5 557.9h.01M223.3 546.6h.01M231.7 547.7h.01M179.2 559.8h.01M230.8 543h.01M213.8 542.8h.01M168.9 564.7h.01M237.1 544.4h.01M159.3 554h.01M213.5 540.6h.01M164.5 544.4h.01M196.9 536.2h.01M209.2 547.1h.01M208.2 538.9h.01M203.2 549h.01M231.7 539.4h.01M195 566.5h.01M154.3 559.9h.01M209.7 540.5h.01M183.8 547.8h.01M174 556.4h.01M209.2 545.2h.01M170.7 531.5h.01M211.5 541h.01M232 540.5h.01M176.8 533.1h.01M186.1 565.5h.01M187.1 538.5h.01M176.5 566.7h.01M170.9 565.9h.01M217 558.7h.01M207.1 553.3h.01M190.8 571h.01M208.7 554h.01M231.4 552.3h.01M228.5 548.5h.01M170.1 533.7h.01M182.4 553.7h.01M224.4 546.4h.01M232.6 539.2h.01M166.4 540.6h.01M230.7 541.1h.01M167.9 536.8h.01M186.2 536.3h.01M172.3 543.8h.01M211 550.1h.01M218.5 556.6h.01M220.9 554.6h.01M220.9 541.1h.01M202.2 537.7h.01M190.3 539.7h.01M204.9 549.3h.01M209.2 542h.01M213.2 519.4h.01M204.5 511.3h.01M199.3 524.9h.01M214.9 509.5h.01M196 522.2h.01M188.5 523.2h.01M226.9 514.2h.01M197.2 516.2h.01M225.4 507.5h.01M185.6 521.6h.01M190.4 513h.01M211.8 535.4h.01M200.6 510.9h.01M188.1 528h.01M208.4 536h.01M217.9 521.7h.01M216.6 504.9h.01M197.8 521h.01M183.2 525.9h.01M229.7 525.8h.01M183.6 519.9h.01M231.2 514.4h.01M215.6 513.1h.01M181.7 518.5h.01M215.9 506.9h.01M199.6 527.9h.01M181 523.9h.01M193.5 508.1h.01M210.4 514.5h.01M176.1 521.8h.01M203.3 522.6h.01M190.7 526.8h.01M184.3 512h.01M222.9 535.9h.01M220.8 505.6h.01M186.5 516.9h.01M181.4 530.8h.01M210.2 519.8h.01M224.4 521.5h.01M226.9 524.6h.01M224.9 532h.01M201 518.6h.01M229.1 515h.01M198 510.4h.01M226 511.9h.01M220 512.4h.01M193.5 514.3h.01M178.5 517.3h.01M207.3 510.6h.01M213.9 526.6h.01M228 516.9h.01M171.7 523.5h.01M204.7 516.1h.01M208.1 528.8h.01M186.3 519.1h.01M188.1 513.6h.01M222.1 514.9h.01M218.7 530.8h.01M173.8 524.1h.01M212.9 522.6h.01M186 510.3h.01M193.1 524.8h.01M191.9 530.6h.01M179.4 520.7h.01M181.5 512.1h.01M213.5 536.8h.01M212.6 513.1h.01M190.8 516.1h.01M228.7 522.9h.01M206.7 533.1h.01M179.3 529.8h.01M206.3 527h.01M196.8 524.5h.01M213.5 515.3h.01M217 509.4h.01M208.5 524.5h.01M220.8 521.1h.01M177.5 525.5h.01M210.3 522h.01M203.8 527.1h.01M218.8 534.7h.01M196.4 532.5h.01M232.2 522.8h.01M222.5 528.6h.01M229.3 512.5h.01M196.7 513.2h.01M214.1 530.9h.01M210 511.8h.01M195.8 529.4h.01M229.8 518.8h.01M206.4 524.8h.01M198.7 514.4h.01M192.3 520.5h.01M219.1 515h.01M215.7 523.1h.01M194.6 518.8h.01M231.7 503.8h.01M238.3 510h.01M244.2 507.5h.01M246.7 494.2h.01M249.2 501.7h.01M253.3 498.3h.01M256.7 494.2h.01M258.3 490.8h.01M255 487.5h.01M253.3 490h.01M239.2 519.2h.01M245.8 517.5h.01M263.3 533.3h.01M268.3 531.7h.01M274.2 530.3h.01M280 531.3h.01M263.3 538.3h.01M267.5 535.8h.01M233 562h.01M238 573h.01M242 569.5h.01M247.2 539.2h.01M245.8 532.7h.01M248.3 543.4h.01M244.2 539.7h.01M247.1 536.2h.01M251 537h.01M249.7 538.9h.01M253.3 537.9h.01M248.2 533.5h.01M248.6 526.5h.01M252.8 528.3h.01M251.2 532.2h.01M243.7 529.3h.01M216.9 577.8h.01M211 572h.01M216.8 571.2h.01M214.4 574.4h.01M212.4 573.2h.01M212.2 568.2h.01M213.4 569.1h.01M217.2 570.1h.01M216.4 570h.01M222.2 577h.01M211.6 573.5h.01M218.6 578h.01M221.4 577.3h.01M211.7 567.2h.01M220.9 576.6h.01M222.9 579.4h.01M216.7 568.7h.01M219.6 576.2h.01M329.4 806.9h.01M384.4 835.5h.01M351.8 801.3h.01M359.3 825.3h.01M340.6 821.6h.01M378.5 832.4h.01M376.7 855.9h.01M353.5 850.1h.01M350.4 757.5h.01M393.9 854.8h.01M298.9 854.7h.01M330.5 761.3h.01M378.8 801.2h.01M345.3 739h.01M326.5 805h.01M342.9 844h.01M315.2 758.4h.01M337.3 849.1h.01M358.6 742.4h.01M388.6 817.8h.01M319.9 827.4h.01M365.1 731.5h.01M388.8 781.3h.01M355.4 763.9h.01M346.7 720.4h.01M340.4 828h.01M375.7 772.3h.01M354.7 843.9h.01M356.4 850.3h.01M323.8 811.2h.01M339 820.4h.01M350.4 735.3h.01M327.2 772.6h.01M376.1 843h.01M304.9 822.5h.01M355.6 742h.01M378.5 838.4h.01M399.5 807.5h.01M346.7 815.5h.01M371.6 743h.01M340.6 770.9h.01M362.3 838.4h.01M364.9 791.4h.01M317.9 800.5h.01M361.6 764.9h.01M362.3 768.9h.01M355.2 850.8h.01M337.7 775.2h.01M338.2 751.1h.01M326.4 800.9h.01M372.3 754.4h.01M360.2 836.4h.01M345.4 720.7h.01M368.3 724h.01M356.7 774h.01M341.6 832.3h.01M355.7 849h.01M344.9 765.9h.01M312.3 778.3h.01M329.1 775.2h.01M310.3 829.1h.01M344.8 756.1h.01M321.3 833.7h.01M344.4 820.7h.01M357.8 855.8h.01M319.7 820h.01M363.5 809.9h.01M294.3 823.5h.01M369.3 809.9h.01M319.8 811.4h.01M327.3 764.3h.01M330.7 858.4h.01M325.2 793h.01M377.8 844.6h.01M387.2 770.8h.01M376.6 762.9h.01M377.8 848.4h.01M386.2 823.6h.01M377.6 829.5h.01M315 861.1h.01M389.6 818.8h.01M309.8 821h.01M331.1 834.8h.01M383.1 840.7h.01M392.3 789.5h.01M328.8 791.5h.01M312.2 840.5h.01M316.8 849.4h.01M343.2 755.6h.01M405.8 828.6h.01M384 771.3h.01M385.8 845.6h.01M334.6 797.8h.01M328.1 735h.01M328.4 743.5h.01M301.6 844h.01M342.8 817h.01M325.2 792h.01M396.6 781.5h.01M289 826.2h.01M340.4 826.9h.01M318.3 805h.01M384.2 828.9h.01M367.7 759.6h.01M324.4 731.1h.01M351.8 788.5h.01M316 768.7h.01M338.9 810.4h.01M359.8 786.1h.01M379.5 806.8h.01M373.4 729.7h.01M357.5 746.3h.01M347.1 771.4h.01M334.1 726.6h.01M411.9 829.8h.01M349.8 835.6h.01M385.9 785.6h.01M342.2 751.4h.01M288.9 830.7h.01M382.5 737.6h.01M360.2 764.1h.01M321.1 835.4h.01M291.3 828.7h.01M328.1 756.2h.01M326.9 847.2h.01M341.1 737.4h.01M355.2 737.9h.01M312.8 836.9h.01M328.2 828h.01M346.5 718.4h.01M377.3 794.5h.01M351.2 835.3h.01M393.1 819.1h.01M304.2 837.4h.01M325.1 847.6h.01M339.9 850h.01M387.8 835.4h.01M330.6 759h.01M325.9 852.5h.01M371.1 831.5h.01M329.3 804.2h.01M351.7 721.5h.01M367.9 727.4h.01M314.3 843.6h.01M316.2 793.6h.01M310.3 856.8h.01M359.4 779.8h.01M354.6 844.8h.01M375.6 786.4h.01M374.9 730.3h.01M340.2 763.3h.01M325.7 851.1h.01M321.1 783.6h.01M395.4 850.7h.01M371.4 767.1h.01M377.3 834.2h.01M363.9 828.3h.01M379.5 747h.01M383.5 789.4h.01M345.2 804.9h.01M354.6 842.1h.01M298.4 814.6h.01M363.2 723.6h.01M314.7 782.1h.01M386.7 773.1h.01M349.6 840.4h.01M325.3 855.7h.01M393 793.9h.01M348.1 726.9h.01M333.8 825.1h.01M376.4 818.5h.01M358.8 772.1h.01M358.7 789.6h.01M299.3 817.6h.01M333.5 760.9h.01M354.4 824.1h.01M331.9 810.5h.01M334.4 844.3h.01M377.1 774.6h.01M322.1 763.6h.01M357.5 724.9h.01M392.7 835.1h.01M366 734.7h.01M395.9 838.2h.01M394.3 822.4h.01M304.9 817.1h.01M327.5 759.1h.01M315 789.8h.01M381.4 836h.01M317.7 838.5h.01M361.2 776.6h.01M336.1 798.5h.01M360.2 839.3h.01M329.1 730.6h.01M335.1 746.2h.01M324.8 796.9h.01M328.1 788.6h.01M380.1 845.1h.01M360.3 840.1h.01M374.4 835.2h.01M383.8 832.8h.01M323.5 734.9h.01M397.6 812.9h.01M365.6 858.4h.01M327.4 722.6h.01M383 805.6h.01M366.2 785.9h.01M313.5 783h.01M380.3 741h.01M347.3 821.2h.01M395.2 854.8h.01M372.1 789.8h.01M308 828.4h.01M363 847.8h.01M351.3 779.7h.01M398 816h.01M316.2 846.9h.01M333 778.6h.01M333.8 721h.01M353.5 753.2h.01M383.7 851.7h.01M376.8 800.1h.01M394.1 805.2h.01M374.6 822.3h.01M373.1 853h.01M367 761.4h.01M318.2 836.6h.01M307 836.3h.01M370.4 782.3h.01M362.4 773.4h.01M311.8 842.8h.01M356.1 809.5h.01M298.5 846.9h.01M351.5 777.4h.01M329.1 852h.01M319.4 850.6h.01M378 820.4h.01M318.9 856h.01M372.5 771h.01M317.1 802.6h.01M374.6 807h.01M326.5 749.9h.01M386.3 782h.01M352.6 833.8h.01M388.7 825.8h.01M320.6 821.3h.01M345.5 792.9h.01M391.3 768.8h.01M393.2 777.6h.01M386.6 774.3h.01M331.8 735h.01M367.8 768.6h.01M322.3 839.8h.01M366.7 732.5h.01M377.4 778.8h.01M336 726.9h.01M349 781.3h.01M369.9 848.4h.01M362.1 799.8h.01M328.8 772.4h.01M313 805.7h.01M360.1 819.5h.01M390.3 832.8h.01M337.6 795.1h.01M338.4 727.9h.01M382.4 751.2h.01M333.9 751.8h.01M339 778.6h.01M311.7 831.6h.01M343.9 814.4h.01M346.5 765.9h.01M363.2 851.6h.01M319.5 823.9h.01M375.4 784.5h.01M315.1 828.1h.01M335.4 788.9h.01M359.1 852.9h.01M344.6 720.3h.01M363.7 728.2h.01M380.8 820.5h.01M346.6 734.6h.01M330.2 822.5h.01M356.3 735.2h.01M346.5 849.2h.01M296.2 840.9h.01M364.1 814.1h.01M343.8 821.6h.01M408.7 818.8h.01M385.9 838.1h.01M375.7 792.2h.01M355.5 782.6h.01M345 729.9h.01M313 860.2h.01M358.5 799.4h.01M332.4 774.6h.01M396.6 808.1h.01M317.3 798.6h.01M368.3 769.3h.01M336.4 829.8h.01M298 812.2h.01M303 826.4h.01M339.6 826.6h.01M370.3 764.5h.01M348.7 834.9h.01M373.8 751.7h.01M307.2 807.3h.01M367 852.4h.01M303.5 808.3h.01M313.1 846.2h.01M334.2 823h.01M363.9 748.1h.01M351.4 749.3h.01M356.6 812.5h.01M296 839.2h.01M365.5 765.5h.01M372.5 840.4h.01M411.2 828.5h.01M402.1 823.7h.01M370 811.2h.01M339.5 729.8h.01M337.9 758h.01M405.7 809.3h.01M358.9 744.1h.01M321 764.9h.01M306.2 806.3h.01M357.6 788.4h.01M332.4 754.8h.01M332.6 816.7h.01M321.8 792.9h.01M340.9 851h.01M329.2 828.8h.01M348.8 755.5h.01M348.8 772h.01M305.3 841.9h.01M362.5 828.4h.01M384.1 820.3h.01M345.1 849.2h.01M341.6 827.9h.01M323.4 840h.01M326.3 757.1h.01M320.3 782.7h.01M329.3 790.2h.01M355.3 829.3h.01M300.4 843.9h.01M364 729.3h.01M310.7 806.8h.01M363.7 802.8h.01M377 781.2h.01M341 812.4h.01M381.2 785.6h.01M320.4 848.5h.01M310.3 804.4h.01M328.4 813h.01M321 799.5h.01M320 817h.01M344.6 757.9h.01M337.8 842.8h.01M382.7 838.9h.01M330.6 828.2h.01M362.7 764.3h.01M311.5 793.1h.01M356.3 818.2h.01M377.3 729.5h.01M306 828h.01M336.7 806.7h.01M306.2 810h.01M348.8 818.8h.01M320.2 776.6h.01M382.9 826.6h.01M335.2 771.4h.01M368.2 838.4h.01M289.7 825.4h.01M362.3 770.2h.01M391.2 827.6h.01M376.2 745.8h.01M313.7 797.3h.01M372.5 831.5h.01M387.1 804.1h.01M321.9 812.3h.01M325.1 775.8h.01M302.4 843.9h.01M319.4 834.8h.01M379.2 847.4h.01M306.7 834.4h.01M301.5 807.6h.01M380.1 751.2h.01M375 802h.01M392.9 792.8h.01M319.1 774h.01M402 822.4h.01M403 821.5h.01M331.6 750.6h.01M298.1 835.2h.01M338.8 794.9h.01M387.6 785.8h.01M363.6 856.5h.01M326 748h.01M301.3 851.9h.01M300.3 850.2h.01M375.1 818.2h.01M373.8 836.4h.01M352.1 718.6h.01M395.4 819.5h.01M349.5 797.9h.01M375.9 827.6h.01M326.6 742.4h.01M327.5 737h.01M391.2 778.8h.01M338.2 718.5h.01M377.1 835.4h.01M354.6 733.9h.01M363.8 722.8h.01M381 828.2h.01M324.5 789.3h.01M365.2 860.8h.01M394.9 827.3h.01M372.8 788.8h.01M375.6 807.8h.01M358 841.5h.01M383.6 733.3h.01M350.1 744.6h.01M356.7 810.9h.01M397.5 824.1h.01M300.6 830.8h.01M345.7 845.7h.01M366.9 749.8h.01M401.3 821.5h.01M400.8 814.3h.01M387.9 859.7h.01M314.1 829.4h.01M333.2 747.3h.01M306.3 815h.01M367.8 761.7h.01M375.4 766h.01M323 816.4h.01M323.8 771.6h.01M322.2 833.4h.01M330.9 745.9h.01M399.1 842.7h.01M413.4 829h.01M353.1 810.5h.01M337.1 825.8h.01M364 838.9h.01M308.1 832.6h.01M338.7 812.9h.01M398.4 806.7h.01M393 844.7h.01M409.4 834h.01M368.1 782.6h.01M307.3 850.9h.01M383.8 824.2h.01M315.5 786.2h.01M398.8 841.9h.01M352.1 799.6h.01M352 845.4h.01M308.1 807h.01M311.3 828h.01M351.1 842.5h.01M323 766.4h.01M328 811.1h.01M330.2 784.1h.01M301 853.5h.01M391.1 812.8h.01M333 736.1h.01M376.2 805.3h.01M343.4 740.1h.01M371.2 853.3h.01M389.2 853.3h.01M339.9 753.5h.01M343.5 819.1h.01M343.2 779.1h.01M361.8 847h.01M361.7 787.5h.01M315.3 823.3h.01M331.7 742.5h.01M344.8 725.2h.01M312.6 817.6h.01M358.2 846.2h.01M297.5 809.4h.01M324 774.5h.01M362.7 809.3h.01M357.9 725.7h.01M347.5 813.1h.01M313 789.7h.01M375.9 836h.01M386.6 817.8h.01M366.4 765.2h.01M305.7 853.8h.01M336.8 775h.01M320.8 771h.01M296.3 828.3h.01M307.7 783.5h.01M320 809.8h.01M379.5 779.4h.01M360.5 824.9h.01M367.9 776.9h.01M310.7 789.4h.01M378.8 823.4h.01M318.4 761.1h.01M348.8 810.4h.01M376.5 743.1h.01M367 825.8h.01M366.9 842h.01M292.6 842.4h.01M374.4 737.7h.01M345.4 797.8h.01M344.1 745h.01M393.1 853.9h.01M317.5 860h.01M308.9 851.3h.01M372.5 817.9h.01M358.3 816.1h.01M334.3 733.7h.01M379.8 753.5h.01M397.7 802.2h.01M314.4 845.5h.01M364.6 824.2h.01M379.3 850h.01M318.6 765.4h.01M355.9 826.5h.01M377.5 748.3h.01M350.5 786.2h.01M344.1 810.8h.01M325.1 783.9h.01M364.7 742.2h.01M358.7 730.6h.01M329.3 767.1h.01M371.7 769.8h.01M376 756.8h.01M397.2 830.4h.01M388.2 777.2h.01M353.8 817.5h.01M330.9 723.2h.01M367.2 777.6h.01M328 800.1h.01M337.9 810.1h.01M326.1 819.2h.01M367.7 818.4h.01M367.6 735.7h.01M320.7 803.2h.01M333.2 835.3h.01M331.1 842.9h.01M372.7 752.7h.01M375.4 778.9h.01M354.2 835.7h.01M386.6 768.1h.01M381.3 823.9h.01M326.2 770.3h.01M382.8 765.6h.01M395.5 810.1h.01M348.7 808.3h.01M376.3 796.2h.01M404.2 831.7h.01M356 769h.01M315.9 784.9h.01M341.4 790.4h.01M308.1 826.8h.01M357.2 763.7h.01M372.8 757.9h.01M337.5 730.3h.01M341.4 786h.01M325.7 802.1h.01M331.7 788.4h.01M366.6 844.5h.01M354 820.7h.01M321 793.6h.01M390.5 814.1h.01M293.6 840.5h.01M319.3 793.5h.01M351.4 819.9h.01M346.1 789.2h.01M364.7 843h.01M343.6 823.3h.01M374.2 775h.01M404.9 825.2h.01M362.7 821.3h.01M362.1 723.6h.01M325.3 837.7h.01M377.6 772.4h.01M313.4 852.9h.01M388.8 783.8h.01M346.5 757h.01M299.4 821.4h.01M397.6 810.5h.01M401.7 820.5h.01M321.5 766.5h.01M364.2 785h.01M323.1 790.3h.01M358.7 852h.01M388.7 840.6h.01M321.2 791.2h.01M361.5 842.7h.01M332.8 742.7h.01M317.4 840.6h.01M299.5 829.9h.01M381.5 821.9h.01M382.9 810.6h.01M332.9 733.8h.01M391.1 776.2h.01M382.1 776.2h.01M365.2 782.8h.01M353.9 725.9h.01M357.9 821h.01M365 804h.01M335 794.5h.01M316.4 789.4h.01M375.2 859.4h.01M375.5 788.6h.01M354 723.4h.01M378.6 738.3h.01M352.7 768.2h.01M303.9 807.2h.01M321 839.4h.01M390.4 777.5h.01M370.3 855.7h.01M357.2 828.6h.01M370.9 824.8h.01M386.9 846h.01M338.3 773.9h.01M399.6 845h.01M312.1 804.2h.01M351.7 767.4h.01M375.3 789.4h.01M350.5 791.7h.01M304.9 840.7h.01M372.3 782.2h.01M333.5 745h.01M413.6 820.8h.01M407.5 831.1h.01M292.4 833h.01M381.8 807.1h.01M292.7 826.5h.01M309.2 779h.01M364.8 831.8h.01M304.6 859.3h.01M373.3 819.7h.01M374.9 734.7h.01M392.6 839.8h.01M362.3 777.9h.01M350.2 731.8h.01M340.1 851.4h.01M371 783h.01M360.4 796.1h.01M322.3 755.4h.01M382.5 753h.01M361.7 851.7h.01M350.4 852.6h.01M338.6 748h.01M340.4 789.7h.01M311.9 803h.01M365.2 763.9h.01M331.8 776.9h.01M378.8 820.7h.01M394 801.1h.01M347.9 799.7h.01M385.1 839h.01M397.9 835.3h.01M389.2 839.6h.01M385.6 799.6h.01M308.7 855.7h.01M365.3 823.3h.01M342.2 717h.01M304.4 813h.01M340.1 749.1h.01M338.3 739.3h.01M293.4 828.4h.01M305.4 785.8h.01M381.9 816.3h.01M310.6 851.8h.01M298 846.1h.01M363.6 725.6h.01M317.2 783h.01M314.8 806.6h.01M374.1 857.4h.01M340.8 725.7h.01M314.9 854.1h.01M297.6 826h.01M325 769.1h.01M325.9 824h.01M374.2 825.7h.01M366.2 771.4h.01M401.2 824.2h.01M369 778.3h.01M374.9 793.6h.01M317.7 841.7h.01M373.3 772h.01M325.7 804.9h.01M335.1 815.7h.01M297.1 811h.01M357.2 840.4h.01M374.9 820.8h.01M337.1 805.6h.01M370.8 730.6h.01M339.2 834h.01M322.4 800.2h.01M335.1 744.5h.01M359.8 801.8h.01M333 846.6h.01M380.3 852.7h.01M327 724.1h.01M343.1 794.8h.01M409.6 837.5h.01M393.7 820.2h.01M349.6 766h.01M369.3 765.3h.01M357.8 822.1h.01M354.4 776.2h.01M347.7 760.4h.01M353.6 781h.01M333.6 770.9h.01M333.5 793.9h.01M309.4 845.8h.01M326.3 726.6h.01M398.5 800.1h.01M357.1 805.9h.01M334.2 740.7h.01M369.3 850.1h.01M316.6 778.6h.01M345.7 787.9h.01M337.4 808.7h.01M372 833.4h.01M319.5 779.8h.01M333.6 754.6h.01M311.9 860.1h.01M322.2 793.7h.01M390.2 826.3h.01M292.4 817.5h.01M339.4 812.4h.01M319.3 771h.01M332.3 790.5h.01M331.6 752.8h.01M344.7 770.7h.01M337.6 833.1h.01M313.5 798.6h.01M371 804.8h.01M327.7 729.9h.01M395.7 834.8h.01M317.2 861.5h.01M373.3 821.3h.01M296.6 810.2h.01M381.1 795.6h.01M369.6 768.2h.01M299.9 840.5h.01M372.3 767.2h.01M381.6 797.1h.01M356.9 852.7h.01M328 728.4h.01M365.9 842.2h.01M338.2 830.2h.01M337.9 785.7h.01M339.3 852.7h.01M348.7 829h.01M345.4 817.2h.01M359.9 853.8h.01M349.1 731.5h.01M301.4 854.2h.01M370.5 830h.01M328.6 764.4h.01M386.6 814.5h.01M385.2 824.4h.01M370.4 832.5h.01M380.5 805.1h.01M307.2 791.4h.01M352.9 777.4h.01M323.1 768.9h.01M338.2 802.3h.01M405 816.8h.01M375.5 824.5h.01M367.5 767.1h.01M354.5 728h.01M292.8 833.9h.01M360.8 733.3h.01M325.5 816.6h.01M339 818.5h.01M324.4 784.5h.01M309.1 789.5h.01M342.7 839.2h.01M344.1 736.7h.01M380.2 802.6h.01M390.2 818.2h.01M321.2 823.9h.01M348.5 736.6h.01M379.5 816.5h.01M376.6 732.4h.01M356.2 722.3h.01M400.5 832.2h.01M372.6 730.2h.01M330.9 769.9h.01M378.7 782.4h.01M364.3 745.5h.01M379.6 804.8h.01M356.4 851.6h.01M367.8 819.7h.01M399.3 815.8h.01M365.5 798h.01M340.5 743.9h.01M368.6 855.6h.01M331.3 820.1h.01M342.2 770h.01M359.8 768.8h.01M294.5 828.2h.01M305.3 850.6h.01M332.4 819.3h.01M359.5 727.4h.01M371.4 826.8h.01M367.5 843.4h.01M322.5 791h.01M340.2 832.9h.01M347.5 826.7h.01M387.2 822h.01M324.4 768.4h.01M350.4 849.2h.01M374.9 857.1h.01M384.5 836.5h.01M334.3 783.8h.01M358.5 792.2h.01M327.6 769.5h.01M366.7 770.2h.01M325.9 849.5h.01M309.6 832.8h.01M409.3 823.9h.01M334.1 728.7h.01M384 826.6h.01M346.6 778.8h.01M334.1 851.8h.01M327.7 823.4h.01M370.4 739.7h.01M333.3 804.4h.01M361.7 814.7h.01M386.1 770h.01M324.4 764.8h.01M356.8 740.2h.01M384.2 809.6h.01M314.4 857.1h.01M340.4 780.9h.01M351 821.6h.01M374.5 858.6h.01M329.1 781.2h.01M373.3 765.1h.01M333.1 750.3h.01M347.8 842.6h.01M312 839.7h.01M354.8 729.7h.01M322.1 781.6h.01M329.9 741.9h.01M355.1 731.3h.01M367.2 744.4h.01M387.1 838.7h.01M377.4 787.9h.01M362.1 745.9h.01M334.6 810.5h.01M355.5 757.5h.01M401 835.9h.01M309.8 785.4h.01M363.4 749.6h.01M362.9 731.5h.01M342.3 840.4h.01M321.7 810.6h.01M382.3 781.4h.01M324.7 815.3h.01M322.8 851.1h.01M374.5 747h.01M332.3 800.5h.01M381 763.1h.01M372.6 823.1h.01M337.5 803.9h.01M358.1 824.6h.01M366.6 745.1h.01M313.2 815.3h.01M296.3 847.1h.01M320.1 768.5h.01M347.3 762.4h.01M367.1 860.5h.01M312.7 792.4h.01M342.9 721h.01M386.1 793.4h.01M386.4 776h.01M345.9 723.9h.01M341.8 752.4h.01M315.8 777.1h.01M304.8 847.5h.01M306.5 801.3h.01M371.4 739.8h.01M350.1 722.3h.01M306.9 850.1h.01M313.5 787.7h.01M294.6 813h.01M366.4 858.8h.01M354.2 827.9h.01M351.8 762.8h.01M375.7 728.3h.01M365.2 815.2h.01M333.7 838.9h.01M363.2 822.7h.01M383.6 747.4h.01M408.7 817.3h.01M312.2 775.8h.01M352.3 773.3h.01M336.5 777.7h.01M325.4 803.4h.01M360 827h.01M349.6 739.3h.01M337 717h.01M374.7 810.7h.01M307.3 797.6h.01M318.3 796.2h.01M312.3 795.9h.01M308.7 795.3h.01M322.4 809.8h.01M337.8 788.4h.01M331.8 817.9h.01M338.1 785.1h.01M317.4 777.8h.01M334 792.6h.01M316.7 821.6h.01M310.1 783.6h.01M329.2 784.5h.01M330.2 786.6h.01M318.5 816.8h.01M305.9 793.1h.01M313 797.9h.01M326.8 817.6h.01M316.7 803.6h.01M320.3 801.2h.01M325.6 805.6h.01M337.7 812.2h.01M326.8 793.1h.01M322.5 782.3h.01M339.6 802.1h.01M328.5 797.3h.01M305.4 801.2h.01M332.5 819.9h.01M329.5 793h.01M309.1 786.6h.01M321.4 787.1h.01M326.7 784.5h.01M329.2 791.5h.01M320.8 811h.01M312.6 816.6h.01M343 793.8h.01M325.1 812.7h.01M311.4 807.7h.01M336.6 785.8h.01M332.3 785.2h.01M328 784.9h.01M319.2 818h.01M335.3 804.5h.01M307.8 793.1h.01M317.1 799.4h.01M317.2 806.1h.01M328.8 787.9h.01M329.8 815.4h.01M317.1 783.5h.01M309.4 804.6h.01M311.2 785.4h.01M312.1 806.2h.01M304.6 803.2h.01M308.6 817.4h.01M343 797.5h.01M313.8 796.4h.01M306.8 814.3h.01M306.1 808.7h.01M326.1 818.4h.01M323.5 797.4h.01M342.8 800.6h.01M317.8 795.5h.01M324.7 789.1h.01M330.5 810.7h.01M317.5 798.3h.01M335.2 780.8h.01M341.2 795.4h.01M314.1 788.9h.01M337.8 793.3h.01M320.8 789.7h.01M341.5 806.4h.01M306.7 782.7h.01M318.4 783.5h.01M326.4 800h.01M322 809h.01M322.2 816.9h.01M339.6 811.9h.01M336 815.4h.01M311.2 818.4h.01M319.3 782.5h.01M314 793.7h.01M327.3 806.2h.01M321.3 822.5h.01M330.9 782.2h.01M334.3 810.6h.01M311.1 793.1h.01M323.8 789.8h.01M310.8 801.5h.01M340.7 799.1h.01M310.7 815.4h.01M329.2 782.9h.01M320.4 815.6h.01M324.5 821.8h.01M337.5 791.4h.01M315.5 792.9h.01M332.3 797.9h.01M322.4 787.5h.01M333.5 793.6h.01M318.3 801.8h.01M312.7 792.6h.01M342.8 718h.01M338.5 718.5h.01M330.5 736.6h.01M325.9 723.9h.01M340.2 735.5h.01M343.9 736.7h.01M335.5 746.1h.01M345.7 736.8h.01M328.6 744.6h.01M332.6 735.8h.01M327.3 724.4h.01M338.1 748.4h.01M341.4 725.9h.01M338.2 737.7h.01M338.4 727.2h.01M323.1 740.4h.01M337.7 729.8h.01M326.4 736.2h.01M337.6 747h.01M345.5 743.2h.01M341.4 731.1h.01M326.2 743.1h.01M335.4 719.6h.01M333.9 727.1h.01M337.2 742h.01M324.9 735.7h.01M330.8 732.8h.01M321.2 731.4h.01M329.8 735.6h.01M334.7 729.4h.01M340.7 742.4h.01M321.3 742h.01M334.3 742.5h.01M345.5 732h.01M319.7 735.1h.01M348.1 738h.01M326.6 732.9h.01M325.2 738.7h.01M323.6 737.8h.01M327.7 729.8h.01M326.2 738.2h.01M329.2 744.1h.01M336.9 732.3h.01M324.8 729.3h.01M351.1 729.6h.01M326.6 729.9h.01M334.6 738.9h.01M350.3 726.4h.01M338.8 742.5h.01M329 731.9h.01M349.6 737.4h.01M336 733.9h.01M339.4 719h.01M339.9 740.9h.01M341.1 743.3h.01M347.6 737.2h.01M334.7 743.3h.01M346.7 720.2h.01M452.4 844.2h.01M500.8 879.1h.01M425.2 830.9h.01M508.2 876.6h.01M464.6 868.8h.01M464.5 844h.01M429.7 831.8h.01M401.5 830.4h.01M480.7 871.9h.01M410.8 821.9h.01M414.7 821.6h.01M479.3 864.1h.01M504.7 874.4h.01M445 844.3h.01M429.4 827.1h.01M491.2 875.9h.01M454.3 844.8h.01M460.3 860.5h.01M493.2 870.2h.01M411.2 825.4h.01M400.9 821.7h.01M466 849.2h.01M461.6 854.7h.01M475.6 874.3h.01M460.2 846.5h.01M443.7 842.8h.01M491 878.4h.01M462.6 851.7h.01M502 872.6h.01M508 875.5h.01M426 826.7h.01M433.2 844.4h.01M460.7 849h.01M413.1 818.6h.01M451.4 848.1h.01M492.7 871.3h.01M430.5 829h.01M479.7 874h.01M423.2 827.6h.01M416.7 826.5h.01M437 835.6h.01M408.4 822.4h.01M409 829.5h.01M435 837.6h.01M446.5 851h.01M412 834.6h.01M464.9 857.2h.01M450.6 839.3h.01M471.8 868.8h.01M454.2 842.9h.01M476.2 863.5h.01M454.9 842.3h.01M470 866.3h.01M421.1 820.3h.01M463 856.9h.01M465.9 862.3h.01M502.7 881.9h.01M439.6 835.6h.01M436.2 842.3h.01M475.7 860.6h.01M449.2 841.4h.01M445.9 846.9h.01M429.7 833.4h.01M491.5 879.4h.01M492.4 873.4h.01M404.5 823.7h.01M400.2 828.7h.01M409.9 830h.01M494 867.7h.01M409 825.4h.01M497.7 870.2h.01M401.9 816h.01M450.8 848.6h.01M424.9 832.6h.01M465.8 845h.01M421.3 823h.01M443.2 838.3h.01M414 826.3h.01M404.1 826.1h.01M434.5 831.2h.01M474 868.9h.01M463.3 865.3h.01M451.8 846.7h.01M472.6 860.3h.01M500 883.5h.01M498.4 882.2h.01M499.8 873.3h.01M441.4 844.8h.01M431.6 832.7h.01M470.1 863.4h.01M411.5 816.3h.01M502.5 879.3h.01M459.5 860.1h.01M446.8 844.1h.01M400.1 820.2h.01M430.4 844.2h.01M401.4 809.7h.01M406.4 829.6h.01M473.2 866.8h.01M451.3 840.5h.01M433.8 836.7h.01M454.6 851.8h.01M402.5 829.8h.01M439.2 838.4h.01M467 865.4h.01M408.4 828.9h.01M422.5 823.6h.01M478.3 865.4h.01M407.7 817.5h.01M454.7 846h.01M494.2 870.6h.01M471.1 866.9h.01M419.3 829h.01M464.7 858.6h.01M461 862.5h.01M403.3 812.2h.01M407.5 814.2h.01M424.9 828.4h.01M493.9 871.9h.01M473.1 868.9h.01M443.1 836.3h.01M491.2 876.8h.01M412.3 819.7h.01M482.5 873.1h.01M473.1 872.2h.01M463.8 863.1h.01M469.2 871.6h.01M461.5 848h.01M402.9 831h.01M465.3 850.7h.01M439.9 842.9h.01M410.3 833.5h.01M481.3 874.8h.01M469.7 858.5h.01M497.8 872.6h.01M489.6 874.3h.01M452.7 855.4h.01M504.1 878.6h.01M452.3 850.4h.01M472.9 861.3h.01M454.3 841.7h.01M448 852.5h.01M508.2 877.7h.01M432.3 840.4h.01M465.6 863.5h.01M456.2 853.8h.01M473.8 865.9h.01M416.8 823.2h.01M413.4 814.8h.01M473.1 863.1h.01M494.7 875.7h.01M423.5 829.3h.01M462.8 846.7h.01M444.5 846.2h.01M468.7 860.8h.01M411.2 823.3h.01M456.6 851h.01M432.1 846.2h.01M463.2 859.4h.01M448.9 855.4h.01M497.9 875.6h.01M473 870.9h.01M502.9 880h.01M412.7 822.7h.01M401.8 827.4h.01M411.5 818.7h.01M477.2 875.6h.01M453 846.2h.01M479.9 876.2h.01M462.7 867.6h.01M495.6 882.4h.01M499.4 869.9h.01M408 824.9h.01M445.3 843.4h.01M479.8 869.7h.01M478.3 872.5h.01M463.4 847.5h.01M405.5 819.8h.01M405 821.1h.01M420.8 825.7h.01M478.3 870.8h.01M433.2 842.7h.01M472.4 872.7h.01M441.6 835.9h.01M468.6 857.5h.01M471.4 872.7h.01M401.8 820.4h.01M495 869.6h.01M412.8 831h.01M450.6 845.1h.01M423.4 822.3h.01M457.1 857.8h.01M422.5 825.3h.01M427.7 826.9h.01M413.7 829.8h.01M444.2 840.3h.01M411.2 826.4h.01M480.2 867.6h.01M410 821.8h.01M401.1 818.3h.01M438.2 832.9h.01M402 818.8h.01M441.2 846.3h.01M476.5 873.2h.01M449 849.2h.01M453 847.3h.01M481.8 871.1h.01M435.3 833.6h.01M505.7 873.8h.01M406 807.1h.01M426 839.1h.01M414.9 851.6h.01M416.3 856.4h.01M420.7 859.3h.01M418 864h.01M425.3 860h.01M428.7 860.4h.01M429.1 868h.01M434 869.3h.01M438 868h.01M441.3 864.7h.01M446 864h.01M433.3 852.7h.01M435.3 855.3h.01M436.7 859.3h.01M416 840h.01M490 884.7h.01M490.7 907.7h.01M502.4 909.6h.01M400 837.3h.01M400.7 845.3h.01M400 860h.01M364.2 864.2h.01M388.3 871.7h.01M399.7 860.5h.01M392.5 861.7h.01M379.2 859.5h.01M370 856.7h.01M405.8 806.7h.01M628.2 701h.01M635.6 681.3h.01M625.3 682h.01M613 648.7h.01M624.7 661.1h.01M613 681.2h.01M621.7 704.1h.01M617.6 704.3h.01M622.8 676.1h.01M623.5 677.1h.01M612.3 695.6h.01M610.7 669.9h.01M594 677.2h.01M652.4 708.9h.01M597.4 656h.01M639.8 666.4h.01M594.6 663.2h.01M601.1 681.1h.01M636.8 669.6h.01M615.9 693.1h.01M642.1 688.2h.01M599.1 692.2h.01M609.2 656.3h.01M635.5 659.7h.01M665.9 719.1h.01M601.6 660.1h.01M609.2 672.3h.01M613.1 646.6h.01M653.6 707.5h.01M610 663.4h.01M616.2 675.2h.01M628.6 665h.01M590.3 678.4h.01M632.9 660.9h.01M638.7 664.2h.01M661.4 716.1h.01M597.7 677h.01M652.5 710.6h.01M593.1 666.2h.01M617.3 651.9h.01M621.4 661.6h.01M620.5 672h.01M634.5 687.4h.01M662.8 711.6h.01M590.5 675.5h.01M595.1 689.8h.01M639.9 694h.01M611 663.8h.01M596.1 664.5h.01M604.7 675.1h.01M634.4 689.6h.01M599.1 690.1h.01M601.1 700.1h.01M591.3 668.9h.01M623.3 696.6h.01M611.9 655.4h.01M611.5 649.1h.01M616.7 674.5h.01M668.1 721.8h.01M648.3 701.5h.01M609.6 669.5h.01M649.3 691.1h.01M600.8 647.3h.01M616.7 678.8h.01M645 705.2h.01M632.2 670h.01M605.3 678.3h.01M629.2 681.8h.01M604.7 686.8h.01M618.5 697.8h.01M604.2 652.5h.01M640.7 682.4h.01M629.6 683.9h.01M667.8 720.9h.01M648.9 704.7h.01M623.3 668h.01M627.3 685.6h.01M666 713.4h.01M601.7 680.4h.01M632.7 673.9h.01M636.7 699.3h.01M669.5 734.8h.01M608.8 657.1h.01M607 685.1h.01M612 682.2h.01M616.6 670.2h.01M658.2 707.3h.01M622.9 690.4h.01M589.7 679.3h.01M625.7 665.5h.01M622.5 706.8h.01M608.3 654.3h.01M610.8 677.3h.01M608.3 693.2h.01M595.6 677.7h.01M669 738.2h.01M651.1 710.1h.01M596.4 649.5h.01M641.6 699.9h.01M621.5 656.7h.01M627.8 664.4h.01M650.7 686.7h.01M596.5 657.6h.01M600.3 664.3h.01M634.5 665.1h.01M600.1 699.8h.01M599.5 681.6h.01M637.5 659.2h.01M594.2 660.5h.01M620.2 691.5h.01M638.7 693.6h.01M628.7 662.5h.01M643.4 683.8h.01M613.3 695.9h.01M641.3 687.1h.01M604.5 692.9h.01M647 697.9h.01M603.9 648.4h.01M616.4 680.6h.01M611.5 666.2h.01M592.8 682h.01M601.8 700.6h.01M644.5 688.9h.01M612.4 693h.01M596 679.4h.01M623.6 688.8h.01M619.2 695h.01M648.2 697.3h.01M603.7 680.5h.01M642.5 700.6h.01M655.7 711.4h.01M599.9 698.1h.01M632.5 664.1h.01M613.9 702.3h.01M596.5 697.1h.01M632.1 685.6h.01M607 646.5h.01M627.1 670.3h.01M639.9 680.5h.01M662.1 699h.01M610.8 691.1h.01M610.4 699.8h.01M607.7 666.3h.01M625.2 699.1h.01M620.8 684.1h.01M616.8 656.7h.01M609.8 647.2h.01M635.6 675.6h.01M620.9 705.5h.01M618.9 662h.01M604.5 696.9h.01M601.2 668.7h.01M602.5 702.7h.01M597.7 687.7h.01M608 662.9h.01M618 685.1h.01M620.4 695.1h.01M641.2 688.4h.01M598.7 666.3h.01M611.8 694.8h.01M620.4 666.6h.01M635.6 684.8h.01M644 710.2h.01M632.6 699.8h.01M670.9 736.6h.01M617.5 650.7h.01M654.7 703.1h.01M603.6 664.2h.01M634.1 660.6h.01M633.5 676.3h.01M626.2 681.2h.01M637.5 704.7h.01M632.7 701.7h.01M637.1 706.1h.01M602.9 686.1h.01M628.7 702.9h.01M601 658.5h.01M610 698.8h.01M617.1 685.8h.01M633.6 689.4h.01M640.9 689.8h.01M626.4 658.7h.01M630.6 673.2h.01M603.6 677.8h.01M598.5 657.3h.01M669.9 725.4h.01M590.5 683.2h.01M659 707.5h.01M600.6 682.2h.01M615.3 657.7h.01M598 672.7h.01M641.1 699.1h.01M623.1 682.2h.01M618.1 699.6h.01M640.8 685.9h.01M598.5 662.4h.01M606.5 681.4h.01M661.6 713.2h.01M629.5 675.6h.01M635.7 682.7h.01M600.9 648.7h.01M648 688h.01M660.5 711.6h.01M613.2 660.7h.01M611.8 674h.01M618.1 700.7h.01M612.4 656.2h.01M597.9 651.4h.01M641 697h.01M646.4 692.5h.01M598 678.1h.01M647 694.5h.01M633.8 699.2h.01M649.8 700.1h.01M612.4 669.5h.01M649.7 711.1h.01M654.8 714.9h.01M608.6 667.5h.01M641.4 706.4h.01M642.9 679.9h.01M619.9 688.1h.01M630.4 686.3h.01M601.3 678.7h.01M601.6 682.7h.01M603.9 657.6h.01M656.3 695.8h.01M608.7 694.1h.01M650.8 708.5h.01M604.4 659.1h.01M614.5 662.8h.01M606.6 657.9h.01M609.4 694.4h.01M637.3 687.5h.01M603.3 659.2h.01M668.9 722.6h.01M613.9 667.3h.01M606 651.3h.01M592.6 675.7h.01M660.2 696.3h.01M642.1 669h.01M614.9 696.8h.01M618.6 666.9h.01M602 650.7h.01M641.2 669.3h.01M654.5 707.3h.01M596 688.6h.01M609.5 692.4h.01M618.8 660.3h.01M658.9 695.5h.01M595.4 653.2h.01M597 668.8h.01M640.9 664.8h.01M609.4 650.4h.01M599.1 675.6h.01M638.9 691.6h.01M591.3 683.9h.01M617.5 707.7h.01M631.8 669.1h.01M614.2 665h.01M620.3 680.6h.01M628.7 674.4h.01M645 696.4h.01M646.5 703.3h.01M663 710.2h.01M622.5 699.7h.01M604.9 646.1h.01M597.8 701.7h.01M623.5 675.5h.01M588.1 684.5h.01M663.8 711.6h.01M631.1 661.3h.01M631.6 662h.01M658.1 702.7h.01M642.2 691.9h.01M669.2 733.5h.01M609.8 683.8h.01M634.1 707.2h.01M650.9 701.4h.01M618.8 679.3h.01M602.5 684.6h.01M620.7 655.8h.01M599.8 691.2h.01M593.5 649.5h.01M652.3 712.2h.01M636.6 672.8h.01M630 674.4h.01M594 653.2h.01M653.8 711.7h.01M664.9 713.1h.01M625.7 697h.01M601.5 692.7h.01M653.4 699.9h.01M593.5 680.9h.01M643.9 686.4h.01M619.1 692h.01M667.6 716.9h.01M618.5 650.4h.01M598.9 651.6h.01M606.2 670.8h.01M645.1 686.9h.01M596 663h.01M597.7 647.7h.01M596.7 668.1h.01M611 646.3h.01M639.9 702.3h.01M627.3 674.4h.01M614.5 652.6h.01M609.1 678.5h.01M607.8 677h.01M644.3 707.9h.01M631.5 680.3h.01M598.8 659.1h.01M639.1 703.4h.01M594.3 651.1h.01M648.5 704h.01M666.7 711.2h.01M626.3 697.7h.01M646.3 693.9h.01M604.9 664h.01M653.1 689.2h.01M648.4 686.7h.01M611.5 690.5h.01M629.2 703.5h.01M609 665.7h.01M657.7 713.6h.01M605.5 684.7h.01M639.6 663.4h.01M646.6 710.7h.01M606.8 674.7h.01M609.9 645h.01M594.3 654.7h.01M637.4 671.1h.01M600.1 685.8h.01M649.1 702.9h.01M620.9 662.4h.01M626 679.4h.01M647.1 689.2h.01M612.3 699.1h.01M606.8 682.4h.01M617.5 669.7h.01M597.3 690.5h.01M651 703.7h.01M603.4 650h.01M651.4 712h.01M609.2 701h.01M603.9 666.2h.01M617.5 681.3h.01M642.7 685.6h.01M615.3 664.7h.01M597.8 684.5h.01M618.8 703h.01M650.7 689.7h.01M600.7 656.5h.01M595 687.2h.01M595.3 681.6h.01M633 670.6h.01M599.7 693.1h.01M600.6 702.8h.01M634.9 677.9h.01M637.7 682.2h.01M638.3 685.2h.01M623 688.2h.01M606.3 691h.01M625.3 672h.01M629.9 699.9h.01M624.9 664.5h.01M617.7 667.8h.01M596.9 662.5h.01M612.9 687h.01M630.3 706.1h.01M588.7 681.4h.01M597.1 682.1h.01M623.1 654.9h.01M655.9 697.1h.01M601.5 695h.01M587.1 679.8h.01M615.8 683.5h.01M643.2 699.4h.01M617.9 662.8h.01M627.6 683.1h.01M628.4 676.5h.01M611.8 667.7h.01M606.2 703.9h.01M602.7 669.5h.01M602.4 699.2h.01M603.7 703.3h.01M602 661.7h.01M594.2 680.1h.01M652 687.7h.01M626.1 674.4h.01M597.2 695.8h.01M596.5 666.3h.01M628.9 680.6h.01M593.6 667.4h.01M617.2 664.7h.01M648.8 700.5h.01M617.7 656.8h.01M611.1 675.6h.01M610.3 668.9h.01M660.5 703.8h.01M644.2 706.8h.01M607.5 703h.01M637.1 691.7h.01M631.7 683.9h.01M636.6 658.1h.01M643.3 707.7h.01M613.6 678.2h.01M637.9 689.5h.01M650.3 696h.01M657 702h.01M633.8 688.2h.01M606.2 689.9h.01M623.3 703.5h.01M603.3 668.4h.01M601 665h.01M598.6 677.1h.01M599.2 660.2h.01M621.2 653.4h.01M621.6 682h.01M633 668.8h.01M610.3 654.7h.01M666.1 708.3h.01M622.3 668.7h.01M643.6 689.5h.01M650.2 710.1h.01M654.1 704.7h.01M612.7 703.1h.01M621.2 675.5h.01M619.3 678.4h.01M608.3 690.5h.01M621 704.5h.01M607 673.2h.01M614.3 692.9h.01M601.6 690.2h.01M614 673.9h.01M612.8 691.1h.01M655.4 708.2h.01M586.7 665.8h.01M646.2 660.5h.01M613.8 645.5h.01M589.7 713.8h.01M594.5 718.3h.01M589.2 721.7h.01M590.8 724.7h.01M586.3 726.3h.01M581.7 737.5h.01M579.2 740.8h.01M577.2 744.2h.01M575 746.7h.01M572 749.5h.01M565.8 757.5h.01M561.7 762.5h.01M554.2 776.4h.01M555.1 772.7h.01M564.1 778.4h.01M571.6 774.1h.01M548 767.9h.01M541.4 771.8h.01M562.9 781.5h.01M568.5 775h.01M551.4 769.2h.01M543 767.1h.01M541.7 774h.01M552.4 767.8h.01M553.9 765.7h.01M557.6 775.5h.01M558.3 768.6h.01M559.9 766.5h.01M561.9 776.8h.01M542.5 771h.01M547.4 778.2h.01M557.8 771h.01M549.6 780.5h.01M546.3 767.7h.01M552.1 767h.01M544.2 774.2h.01M545.4 776.7h.01M555.1 771.3h.01M561.2 771.5h.01M554.4 779.5h.01M556.1 774.7h.01M557.2 766.3h.01M539.5 767.2h.01M550.4 779.9h.01M552.1 775.1h.01M541.4 773h.01M544.9 766.7h.01M570.6 773.8h.01M559.5 776.9h.01M546.4 770.1h.01M551.2 780.7h.01M550.5 769.8h.01M547.2 770.6h.01M553.8 777.6h.01M545.4 773.4h.01M564.1 772.6h.01M545.4 765.5h.01M545.8 775.6h.01M552.1 778.9h.01M548.8 773.3h.01M564.6 777h.01M569.8 777.8h.01M566 779.9h.01M559.7 779.7h.01M561.4 780h.01M546.5 768.8h.01M550.6 768h.01M536.8 770.3h.01M553.1 770.8h.01M548.3 774.2h.01M545.1 768.4h.01M549.1 766.7h.01M550 767.5h.01M542.3 768.1h.01M570.4 775.5h.01M566.2 779.1h.01M565.5 773.3h.01M554.1 780.3h.01M550.5 773.8h.01M541.9 775.1h.01M560.1 770.2h.01M569.7 776.9h.01M559.1 768.3h.01M540.5 767.7h.01M568.5 779.3h.01M549.2 764.2h.01M564.9 774.2h.01M544.2 772.1h.01M544 770.1h.01M550.4 764.3h.01M550.6 765.5h.01M545 781.6h.01M564.6 775h.01M548.1 763.6h.01M564.4 780.5h.01M566.8 780.6h.01M568.4 777.7h.01M539.6 769.6h.01M562.4 775.7h.01M554.3 766.6h.01M556.2 769.6h.01M396.8 845.8h.01M391.1 853.1h.01M386.6 855.7h.01M396.7 855.5h.01M397.8 849.1h.01M380.3 844.6h.01M410.4 844.9h.01M400.8 851.3h.01M380.5 858.2h.01M402.7 853.8h.01M382.8 849.7h.01M406.3 850.3h.01M394.7 841.4h.01M384.1 844.1h.01M406.9 844.6h.01M412.2 848.8h.01M401 858.6h.01M392.1 858.8h.01M603.7 783.3h.01M702.2 722.7h.01M765 632.2h.01M723.5 722.1h.01M722.9 715.9h.01M721.6 716.4h.01M728.4 714.8h.01M723.3 717.1h.01M719.1 718.3h.01M722.6 718.3h.01M727.2 720.2h.01M727.6 715.7h.01M719.9 718.5h.01M729.2 717.3h.01M725.6 716.1h.01M725.3 721.5h.01M717.3 720.1h.01M719.4 721.8h.01M717.7 721.9h.01M726.3 715.5h.01M724.3 718.3h.01M724.2 716.6h.01M741.6 788h.01M741.9 787.1h.01M742.4 793.3h.01M741.2 796.1h.01M742.9 794.1h.01M742.9 788.4h.01M739.4 790.7h.01M742.9 795.5h.01M741.4 793.8h.01M738.6 790h.01M736.1 798h.01M739 801.7h.01M781.9 785.7h.01M716.7 839.2h.01M719.3 845.9h.01M791 783.4h.01M792.6 787.5h.01M797.6 781.4h.01M790.3 788.9h.01M792.3 784.1h.01M798.3 777h.01M797 793.1h.01M795.1 789.7h.01M796.9 779.7h.01M796.2 786.3h.01M795.3 795.8h.01M793.2 781h.01M796.8 781.9h.01M796.2 795.6h.01M797.8 783.3h.01M797.3 791h.01M800 792.1h.01M793.7 789h.01M794 784.8h.01M790 789.9h.01M795.9 779.7h.01M795.1 787h.01M799.2 780.6h.01M797.8 786.5h.01M794.7 778h.01M798.7 790.9h.01M793.7 782.8h.01M795.4 787.9h.01M792.7 785.2h.01M797.2 777.4h.01M795.8 782.8h.01M794.2 779.1h.01M798.5 784.9h.01M795 781.2h.01M798.3 779.8h.01M711.6 828.1h.01M711.5 820.3h.01M709.8 821.7h.01M713.5 824.3h.01M708.6 827.6h.01M710.3 823.7h.01M710 824.9h.01M712.1 821.6h.01M712.1 823.7h.01M712.4 822.8h.01M710.7 822.9h.01M712.9 828.6h.01M711.5 825.3h.01M709.7 857.1h.01M708.9 856h.01M694.8 842.9h.01M700.1 849.3h.01M697.1 841.4h.01M696.8 843.2h.01M696.6 850.5h.01M704.1 845.4h.01M712.6 848.1h.01M694.2 854.8h.01M691.2 858.3h.01M708.1 853.5h.01M702.6 856.8h.01M691.4 847h.01M691.1 852.7h.01M690 857h.01M689.1 854.9h.01M704.4 852.4h.01M705.7 855.4h.01M693.9 859.7h.01M708 843.9h.01M694.7 845.2h.01M692.5 850.4h.01M692.2 846.7h.01M702.8 840.4h.01M687.4 850.3h.01M692.3 843.9h.01M691.2 846.2h.01M703.8 856h.01M686.2 845.8h.01M705.1 848.6h.01M707.6 845.9h.01M690 845.9h.01M698 844.3h.01M706.5 841.9h.01M688.6 847.8h.01M695.6 846.7h.01M694.1 853.3h.01M708.2 847.9h.01M710.2 851.3h.01M695.1 841.8h.01M712.1 853.3h.01M706.6 850.2h.01M689.2 850.8h.01M711.4 855.6h.01M706 842.9h.01M690.7 854.6h.01M709.2 841.9h.01M706.9 849.4h.01M703.1 841.7h.01M702 849.8h.01M688.2 853.2h.01M701.4 854.6h.01M699.2 841h.01M694 856.9h.01M712.9 852.2h.01M704.7 839.8h.01M710 854.4h.01M694.5 850.1h.01M697.7 845.4h.01M703.9 840.1h.01M699 852.3h.01M701.9 852.5h.01M710.7 848.2h.01M702.5 851.6h.01M707 838.4h.01M688.3 846.1h.01M705 853.6h.01M689.5 847.5h.01M709.2 857.7h.01M689.9 848.8h.01M710.7 852.2h.01M699.1 846.1h.01M715.3 854.4h.01M721 853h.01M724.5 854.4h.01M728.1 855.1h.01M730.2 852.3h.01M728.1 848.7h.01M732.3 845.2h.01M729.5 843.1h.01M735.2 840.9h.01M716.7 860.1h.01M713.9 857.9h.01M718.2 856.5h.01M601.7 844.8h.01M602.3 842.7h.01M602.4 849.2h.01M605.2 842.8h.01M602.9 841.2h.01M603.5 846.4h.01M605 854h.01M616.4 880.5h.01M612.2 871.2h.01M613.4 871.8h.01M612.3 875.4h.01M610.1 871.1h.01M609.5 866.9h.01M611.1 868.9h.01M618.3 881h.01M611.3 873.9h.01M611 866.6h.01M613.5 873.8h.01M614.9 873.7h.01M621 889.5h.01M624 896h.01M626 899h.01M629 904h.01M632 908h.01M631 912h.01M628 916h.01M630 919h.01M626 921h.01M623 923h.01M620 925h.01M621 877h.01M654.5 917.1h.01M662.1 920.7h.01M658.2 919.3h.01M651.7 917.3h.01M659 921.1h.01M655.7 919.6h.01M684.7 930.1h.01M688.5 932h.01M687.3 930.6h.01M694.2 933.9h.01M692.1 934.4h.01M697 934.3h.01M683.7 928.4h.01M690.2 934h.01M683.7 931.3h.01M705.8 941.7h.01M713.2 944.8h.01M710.1 936.1h.01M717.9 939.6h.01M704.4 943h.01M710.1 944.9h.01M715.5 940.7h.01M704.6 939.1h.01M716.3 936.4h.01M701.7 937.5h.01M706.4 938.4h.01M708.3 933.4h.01M715.2 935.1h.01M701.6 940.2h.01M704 935.7h.01M710.6 934.1h.01M717.5 943.2h.01M712.1 937h.01M717.4 940.9h.01M713.9 936h.01M716 943.7h.01M711.4 942.5h.01M713.2 940.8h.01M700.4 935.1h.01M707.5 943h.01M702.9 942h.01M708.9 939.4h.01M718.6 937.7h.01M706.5 935.2h.01M714.6 939.1h.01M705 950h.01M648 979.5h.01M652.5 984.5h.01M514.1 975.2h.01M514.1 984h.01M513.8 987h.01M512.4 983.7h.01M514.6 979.2h.01M514.2 981.3h.01M515.2 977.9h.01M515.7 975.8h.01M521 987h.01M527 991h.01M517 997h.01M523 999h.01M529 1000h.01M517.8 1004.1h.01M515.4 1004.8h.01M517.1 1011.8h.01M524.2 1010.2h.01M528.2 1014.2h.01M514.8 1011.1h.01M528.8 1011.6h.01M520.5 1009.1h.01M514 1015.2h.01M522.3 1015.1h.01M523.6 1006.2h.01M525.3 1007.4h.01M517.9 1013.5h.01M527.4 1007.4h.01M518.5 1006.6h.01M522.7 1004.2h.01M519 1005h.01M516.4 1007h.01M517 1009.1h.01M519.3 1014.7h.01M522.3 1010.5h.01M521 1003.6h.01M526.5 1003.6h.01M523 1013.3h.01M522.2 1008.6h.01M513.7 1013.3h.01M523.8 1011.8h.01M526 1011.4h.01M510 1018h.01M435.4 1043.2h.01M429.9 1045.3h.01M433.1 1044.9h.01M435 1041.8h.01M431.4 1044.6h.01M437.5 1043h.01M979.8 701.5h.01M949.6 692.1h.01M1029.1 708.3h.01M987 711.1h.01M1020.3 631.7h.01M1024.8 716.8h.01M942.2 720.2h.01M970.6 775.1h.01M1038 712.6h.01M990.6 626.9h.01M1028.9 684.9h.01M1024.7 641h.01M1046.3 689.1h.01M1039.3 645.1h.01M1029 732.7h.01M952.9 695.6h.01M962.5 637.3h.01M1016.8 665.8h.01M1007.3 693h.01M979.5 726.4h.01M959.2 714.5h.01M988.6 735.6h.01M979.2 681.2h.01M949.1 664.3h.01M976.7 696.3h.01M970.3 629.4h.01M1046.7 656.3h.01M979.6 670h.01M1014.1 656.3h.01M1021.9 743.9h.01M1009 698.1h.01M945 770.4h.01M1038.4 706.4h.01M983.2 761.1h.01M1049.2 673.1h.01M943.4 765.3h.01M939.2 763.2h.01M1045.6 651.5h.01M1028.3 689.3h.01M1011.5 647.4h.01M1028.6 674.9h.01M965.9 693.5h.01M942 729.3h.01M1035.3 672.6h.01M1012.9 661.4h.01M971.8 741h.01M982.2 681.8h.01M1027.6 743.5h.01M986.2 636.2h.01M1006 693.1h.01M954.2 761h.01M972.7 658.3h.01M968.5 653.1h.01M958.5 661.7h.01M1037.2 708h.01M965.3 716.1h.01M985.8 647.3h.01M1026.1 645.3h.01M994.2 744.6h.01M954.8 713.7h.01M973.4 711h.01M953.2 718.6h.01M962.4 689.9h.01M952.1 721.2h.01M1000.2 641.5h.01M978.1 654.4h.01M1021.6 683.3h.01M970.8 740.5h.01M965.4 705.4h.01M1036.3 649h.01M961 696.6h.01M944.4 766.2h.01M1000.8 630.8h.01M1028 641.2h.01M983 657h.01M985.3 717.8h.01M962 770.3h.01M981.1 767.5h.01M958.1 769h.01M948.4 698.4h.01M1010.1 633.9h.01M956 697.8h.01M947.6 762.8h.01M971.6 703.8h.01M944.6 697.7h.01M966.6 660.5h.01M956.9 716.1h.01M977.2 771.4h.01M986.8 677.7h.01M936 754.4h.01M1004.1 622.5h.01M963.8 639h.01M952.8 762h.01M973.1 702.3h.01M1003.9 672.8h.01M977.6 764.8h.01M988.9 671.5h.01M1000.8 746.2h.01M986.8 683.6h.01M1042 659.6h.01M968.3 647.8h.01M995.2 688.2h.01M952.8 734.4h.01M956.7 705.6h.01M1006.1 672.3h.01M967 765.3h.01M966.9 731.5h.01M975.1 712.1h.01M993.4 631.1h.01M1019 718.8h.01M981.2 628.6h.01M952.8 671.7h.01M1016.6 696h.01M1001.3 684h.01M965.5 656.1h.01M941.4 714.5h.01M1022.7 640.3h.01M986.5 734.3h.01M980.1 707.3h.01M1026.1 702.5h.01M976.3 657.9h.01M973.1 744.6h.01M1038.8 653h.01M1001.7 713.8h.01M997.2 749h.01M943.4 722.4h.01M954.4 766.1h.01M956.7 648.4h.01M958.1 672.3h.01M979.8 668h.01M1015.3 725.4h.01M960.2 776h.01M1012.6 653.5h.01M946.5 721h.01M999.2 641h.01M1017.8 713.8h.01M958.7 676.8h.01M994.7 651.5h.01M1043.4 648.8h.01M1048.5 674.1h.01M990 761.1h.01M983.3 691.9h.01M1010.7 654.7h.01M1006.2 630.8h.01M967.9 652.4h.01M1048.2 699.2h.01M955.8 707.9h.01M965.6 674.4h.01M978.7 703.5h.01M998 619.1h.01M980 633.7h.01M962.5 649.2h.01M965.4 637.7h.01M982.2 632.2h.01M993.6 666.2h.01M956.4 774.1h.01M973.4 636.1h.01M1001 666.1h.01M944.6 748.2h.01M1022 639.4h.01M1039.8 647.4h.01M1004.6 695.5h.01M981 632.5h.01M996.8 658h.01M988.2 756.6h.01M948.6 756.3h.01M1032.4 670.6h.01M1009.7 744.5h.01M1041.4 684h.01M941.7 766.1h.01M1027.7 666.8h.01M1027.3 707h.01M1001.6 767.2h.01M1011.5 670h.01M982 729h.01M980.2 760.3h.01M970.3 642.6h.01M1002.2 757.4h.01M1029.4 736.8h.01M963.9 706.5h.01M1033.6 657.6h.01M980.7 747h.01M966.9 701.7h.01M1016.7 693h.01M973 761.2h.01M955.1 669h.01M953.8 653.7h.01M1044.3 686.5h.01M1013.9 657.6h.01M991.8 678.1h.01M1014.9 716.6h.01M1049 664h.01M1006.2 695.3h.01M966.2 722.4h.01M959.1 766.7h.01M1006.2 639.1h.01M1011.2 644.6h.01M1003.6 634.1h.01M938.2 746.8h.01M956.7 670.3h.01M987.7 728.2h.01M953.8 765.4h.01M986.6 688h.01M1028 664.7h.01M1043.5 686.1h.01M966.8 766.2h.01M970.1 750.4h.01M951.2 725.2h.01M980.9 718.3h.01M1044.7 655.8h.01M1011.9 761.2h.01M952.4 690.9h.01M1007.4 727.5h.01M957.2 721.5h.01M989.5 728.6h.01M977.3 674h.01M993.9 694.4h.01M981.7 669.9h.01M1017.6 720.6h.01M953.6 756.5h.01M970.5 705.6h.01M948.8 752.8h.01M1006 683.2h.01M1014.3 710.7h.01M1008.3 707.2h.01M999.1 713.3h.01M1018.8 675.5h.01M970.8 747.1h.01M1024 655.5h.01M1010.8 702.3h.01M983.6 726.4h.01M966.1 726.7h.01M1026.9 663.2h.01M973.8 652.5h.01M985.8 660.3h.01M1049.9 696h.01M976 659.6h.01M1015.9 704.9h.01M997.1 743.6h.01M993.3 661.1h.01M986.3 764.6h.01M1034.5 675h.01M949.4 719h.01M1032.5 691.2h.01M1022.7 668.1h.01M1022.6 642.6h.01M1046.6 669h.01M1016.5 674.1h.01M1022.4 711.9h.01M952.1 676h.01M1034.7 692.6h.01M978.7 688.3h.01M1001.2 625.5h.01M1026.4 672.6h.01M1010.3 630.3h.01M1017.2 744.2h.01M985.1 763.5h.01M962 660.7h.01M947.6 752.2h.01M1006.7 634.5h.01M971.6 666.1h.01M965.2 685.8h.01M956.8 714.1h.01M960.2 634.8h.01M1019.2 672.7h.01M938.8 760.8h.01M1005.3 644h.01M1000.4 719.4h.01M980 680.2h.01M973.8 639.2h.01M989.4 738.9h.01M1016.5 660.5h.01M986.6 625.2h.01M1007.2 729.4h.01M995.5 626.4h.01M996.5 637.8h.01M960.1 639.9h.01M1033.6 698.9h.01M958.4 731.4h.01M1004.2 666.9h.01M953.5 721.6h.01M958.7 737.7h.01M1046.8 657.8h.01M940.5 753h.01M999.3 674.4h.01M989.7 646.3h.01M944.1 755.3h.01M998.3 697.9h.01M1028.8 636.2h.01M980.1 698.1h.01M1030.8 705.7h.01M966.6 663.2h.01M955.7 701.5h.01M1035.5 696.1h.01M967.3 689.1h.01M956.2 767.1h.01M969.9 766.4h.01M997.5 625.7h.01M991.6 649.9h.01M985.9 745.2h.01M1030.2 708.6h.01M995.4 760h.01M1019.2 670.2h.01M1036.3 724.7h.01M981.7 625h.01M940.4 760.8h.01M1022.3 683.8h.01M1033.4 716.1h.01M941.3 752.1h.01M965.2 657.3h.01M945.8 694.7h.01M1013.9 731.8h.01M950.7 760.7h.01M1014.6 734.3h.01M1022.8 664.7h.01M979.1 671.5h.01M1037.9 714.3h.01M1009.1 765.8h.01M988.1 643.3h.01M970.7 700.9h.01M972.5 632.7h.01M1033.2 724h.01M1001.6 687.9h.01M1000.1 672.8h.01M1029.1 716.6h.01M936.4 728h.01M1025.8 709.6h.01M1007.7 752.1h.01M974.1 769.5h.01M1000.7 728.6h.01M1005.7 652h.01M1043.2 691.1h.01M1019.3 639.5h.01M991.7 643.6h.01M1024.8 697.1h.01M977.3 659.8h.01M973.4 700.2h.01M1029.3 687.2h.01M1016.9 721.5h.01M975.5 740.9h.01M983.6 714.8h.01M1015 727.3h.01M935.6 733.7h.01M977.3 644.3h.01M1028.6 663.4h.01M977.1 654.5h.01M980.6 726.9h.01M947.5 722.1h.01M1035.2 649.5h.01M1011.5 724.7h.01M1045.4 689.6h.01M949.6 753.4h.01M1021.4 635.5h.01M958 727.2h.01M1017.4 643.4h.01M970.1 719.7h.01M1006.9 697.2h.01M1024 697.3h.01M1045.9 664.6h.01M959.7 652.3h.01M981.2 673.8h.01M937.8 725.1h.01M965.5 734.6h.01M952.9 764.1h.01M1025.4 713.1h.01M945.4 723.5h.01M988.7 733.4h.01M941.8 723h.01M964.6 764.3h.01M964.1 762.1h.01M956.4 649.7h.01M1008 683.8h.01M959.2 680.5h.01M970 764.3h.01M994.9 724.9h.01M968.8 768.2h.01M976.1 757.9h.01M981.9 711h.01M1011.6 671.4h.01M1030.4 698.5h.01M978.1 727.2h.01M1007.1 661.1h.01M1022.6 722.1h.01M971.9 723.1h.01M979.3 736.6h.01M961 726.9h.01M1015.9 676.2h.01M992.5 702.5h.01M1007.3 689.6h.01M998.7 692h.01M951.9 665.4h.01M1007 658.8h.01M1029.9 656.5h.01M960.9 691.2h.01M999.9 733.2h.01M997.1 682.2h.01M1024 650.2h.01M1033.6 642.1h.01M952.1 670.4h.01M978.4 698.3h.01M986.5 752.4h.01M977.1 739.1h.01M1010.2 667.6h.01M969.7 761.9h.01M1014.2 675.2h.01M1009.2 662.6h.01M1018.3 720.1h.01M945.1 753.3h.01M949.8 723.5h.01M1008.2 678.6h.01M996.8 628.7h.01M974.4 714.1h.01M945.2 732.3h.01M939.2 710.4h.01M1020 744.1h.01M991.4 648.3h.01M1042.8 676.9h.01M1033 712.5h.01M1041.9 671.3h.01M960.5 687.5h.01M1027.8 652.9h.01M956.8 727h.01M1020.9 691.3h.01M1021.7 641.4h.01M1001.7 712.2h.01M973.5 756.5h.01M974.7 655.5h.01M1031.6 687.1h.01M990.8 700.3h.01M975.9 664.7h.01M1021 660.4h.01M1019 744.1h.01M980.5 650.9h.01M972.6 750.1h.01M957.8 728.8h.01M950.7 742.6h.01M1017.8 684.8h.01M966.6 735.8h.01M957.6 725h.01M976.7 637.3h.01M1039.3 717h.01M956 678.8h.01M988.4 666.8h.01M988.9 680.9h.01M956.5 758.1h.01M1028.8 666h.01M977.3 721.1h.01M980.1 751.2h.01M941.5 762.6h.01M1011.3 748.3h.01M977.1 667.7h.01M983.9 626.3h.01M951 685.1h.01M1031.4 722.3h.01M995.1 644.9h.01M1037.6 680.1h.01M1027 656.5h.01M1023.6 733.1h.01M963 692.5h.01M1032.1 724.3h.01M1011.3 732.1h.01M953.3 701.3h.01M996.6 733.2h.01M1031.5 699.6h.01M981 701.7h.01M968.1 728.7h.01M1019.4 689.2h.01M953.5 663.7h.01M946 733.6h.01M1035.6 663.4h.01M956.5 664.8h.01M979.5 724.4h.01M1030.3 683.6h.01M1030.2 675.5h.01M954.1 767.9h.01M996.1 634.6h.01M936.1 765.9h.01M980.5 762.5h.01M967.3 743h.01M958.4 665.1h.01M947.1 705.2h.01M1004.2 673.7h.01M959.5 765.1h.01M1033.4 648.6h.01M1017.8 697.5h.01M1007 761.8h.01M946.6 763.3h.01M950.5 768.9h.01M1035.4 680h.01M988.9 646.4h.01M1039 714.2h.01M995.4 722.8h.01M998 682.1h.01M971.2 768.9h.01M955.4 729.6h.01M1016.7 699.1h.01M971.2 709.7h.01M977 770.6h.01M1043.4 689.8h.01M1024.5 704.1h.01M967.9 648.7h.01M1010.4 665.8h.01M992.1 686h.01M1005.6 684.2h.01M971.6 684.5h.01M932.7 755.3h.01M968.3 772.1h.01M987.8 635.9h.01M953 768.4h.01M1035.7 712.3h.01M1001.7 676.9h.01M948.8 697.5h.01M1016.5 728.8h.01M977.5 741.5h.01M958 742.7h.01M1017.7 661.2h.01M1032.4 709.9h.01M983.7 724.1h.01M1042.1 691.4h.01M990.9 692.6h.01M1035.6 713.3h.01M1008.5 643.7h.01M993.3 668.3h.01M1011.6 678.8h.01M979.4 708.6h.01M1037 682.3h.01M1016.5 708.5h.01M997.5 672.8h.01M998.4 668.3h.01M976.7 731.3h.01M952.8 706.7h.01M949.9 711.6h.01M954 700.8h.01M1025.9 650h.01M969.9 676.7h.01M971.7 767.7h.01M987.9 730.2h.01M997.9 639.9h.01M972 635.7h.01M1051.3 693.9h.01M991.4 717.3h.01M958.9 773h.01M943.5 708.8h.01M950.7 716.7h.01M947.8 696.1h.01M1001.1 699.5h.01M961.9 695.5h.01M1049.6 665.6h.01M1000.6 769.6h.01M1032.2 689h.01M1004.2 765.4h.01M975.2 656.7h.01M1019.4 634.6h.01M961.7 746.5h.01M1033.9 712.9h.01M1023.3 720.1h.01M974.3 684h.01M964.6 755.9h.01M957.7 636.7h.01M957.3 761.9h.01M996.4 761.8h.01M1008.1 651.6h.01M953.7 642.2h.01M1024.6 671h.01M952.6 693h.01M966.5 744.6h.01M1035.4 724.5h.01M963.6 774.5h.01M939.2 744.7h.01M1013.1 750h.01M1045.2 688.4h.01M1016.7 755h.01M1013.8 695.5h.01M998.8 700.2h.01M940.6 703h.01M998.3 716.2h.01M966.3 752.4h.01M1033.4 684.2h.01M1005.3 635.3h.01M983.6 762.2h.01M960 691.7h.01M1041.4 709.1h.01M962.7 678.7h.01M993.9 645.7h.01M1014.3 720.6h.01M990.7 756.2h.01M992.8 692.5h.01M961.6 697.9h.01M987.2 694.9h.01M945 718.3h.01M992.7 718.2h.01M1011.9 689h.01M954.8 655.6h.01M999.7 661.6h.01M1027.5 653.8h.01M965.6 702.2h.01M1017.4 746.1h.01M1006.5 689.2h.01M969.6 744.2h.01M963.5 680.9h.01M951.5 678.5h.01M1014.9 730.9h.01M979.2 656.9h.01M1038.4 715.4h.01M1042.3 658.2h.01M946.9 737.9h.01M1000.2 717.2h.01M961.4 684.8h.01M997.9 730.7h.01M988.9 628.7h.01M1002.7 726.7h.01M977 704.9h.01M989.9 695.3h.01M953.8 673.5h.01M999.9 643.9h.01M992.7 733.7h.01M965.1 695.9h.01M1004.6 676.2h.01M947.5 658.1h.01M1037 722.4h.01M955.3 724h.01M1033.9 704.2h.01M1022.4 725.9h.01M988.1 661.9h.01M1024.8 633.3h.01M973.2 679.6h.01M979.3 731.1h.01M949.8 706.5h.01M937 749h.01M1007.6 714.2h.01M933.3 752.6h.01M993.4 728.6h.01M1036.5 719h.01M971.8 643.2h.01M935.6 763.7h.01M1038.8 670.5h.01M952 719.2h.01M1026.8 685.3h.01M986.1 763.8h.01M975.2 761.3h.01M1006.6 754.3h.01M995.1 714.2h.01M1021.6 645.5h.01M1037.5 719.8h.01M1000.8 680.8h.01M993.9 773.8h.01M1008.3 728.1h.01M1019.4 653.2h.01M1021.5 741.8h.01M990.3 715h.01M942.2 760h.01M1033.7 711.4h.01M1007.6 761.2h.01M1023.2 745.9h.01M1040.3 677.7h.01M997.1 724.8h.01M988 681.9h.01M989.3 684.6h.01M951.6 772.4h.01M942.8 757.4h.01M963.5 743.8h.01M991.4 749.5h.01M1001.7 628.9h.01M1022.3 737.6h.01M1008 626.4h.01M1021.1 707h.01M1036.1 684.3h.01M987.1 635h.01M996.8 766.8h.01M958.7 663.5h.01M969 763.3h.01M1008.5 667.3h.01M985.2 623.8h.01M1039.3 671.6h.01M938.4 763.8h.01M944.9 716.5h.01M984.2 659.6h.01M950.8 710.6h.01M997.4 689.3h.01M1012.4 647.8h.01M962.6 730h.01M976.5 629.7h.01M1010.6 755.5h.01M1004.6 653.8h.01M1026.7 648.6h.01M994 711.2h.01M1044.3 678.6h.01M1000.3 639.4h.01M954.5 659h.01M996.5 755.6h.01M962 741.6h.01M974.9 677.6h.01M1015.7 722.7h.01M1043.2 650.4h.01M1014.8 729.9h.01M963.5 708.9h.01M1015.8 669.4h.01M993.4 725.1h.01M953.1 668.8h.01M992.8 679.2h.01M989.9 681.7h.01M1000.4 696.7h.01M1001.9 725.9h.01M973.8 687.1h.01M965.3 647.9h.01M1014.3 672.8h.01M1010.6 680h.01M968.1 734.6h.01M994.8 686.2h.01M1037.1 656.8h.01M959.2 751.8h.01M980.7 636.5h.01M989.3 647.9h.01M968.3 643.2h.01M1020.1 633.5h.01M965.7 684h.01M1024.8 703.1h.01M1025.8 739h.01M940.9 767.1h.01M1037.1 685.2h.01M996.4 654.6h.01M1030.3 738.7h.01M945.5 699.4h.01M992.8 759.5h.01M1003.5 651.5h.01M989.6 770.5h.01M968.8 695.3h.01M965.4 733.6h.01M961.2 718.4h.01M964.3 648.8h.01M970.7 658.2h.01M938.4 702.7h.01M1048.5 672.4h.01M975.9 752.7h.01M1001.8 749.9h.01M1028.1 715.4h.01M1009 642h.01M969.7 696.7h.01M969 693.1h.01M979.9 764.6h.01M1004.2 648h.01M1003.9 767.4h.01M955.8 738.8h.01M1014.6 712.5h.01M935.5 742.1h.01M982.8 627.6h.01M994.7 642.6h.01M938.5 700.2h.01M991.1 770.6h.01M1029.7 652.7h.01M996 653.7h.01M965.6 769.1h.01M1005.9 640.4h.01M973.9 682.4h.01M945.8 749.7h.01M993 763.2h.01M1026.1 736.2h.01M1003.1 636.5h.01M964.5 670.2h.01M968.7 679h.01M1004 747.6h.01M1015.6 647.1h.01M1022.3 655.9h.01M1009.9 759.5h.01M1003.6 756.6h.01M1014.8 659.8h.01M997.6 724.1h.01M956.2 726.4h.01M987.4 692.8h.01M1012.1 650.7h.01M1033.3 708.3h.01M976.1 749h.01M987.3 696.2h.01M989.6 711.5h.01M948.4 732.2h.01M1000.4 714.5h.01M957.5 733.5h.01M970.5 743.6h.01M1008.9 758.8h.01M1041.2 650.4h.01M958.7 660.1h.01M1038.6 707.3h.01M982.1 693.4h.01M938.3 765.5h.01M983.7 677.7h.01M979.3 763h.01M984.6 634h.01M937.6 764.7h.01M975.7 747.8h.01M986 739.8h.01M985.7 715.4h.01M1033.5 664.8h.01M1045.9 663.1h.01M946.3 727.6h.01M960.9 744.3h.01M1038.1 685.6h.01M1018 676.1h.01M1003.2 742.6h.01M958.4 690.5h.01M1013.7 711.7h.01M987.8 651.2h.01M1007 718.5h.01M969.5 711.7h.01M984.1 751.3h.01M1032.4 681.9h.01M974.3 665.2h.01M986.4 637.9h.01M1044 660.4h.01M989 654.1h.01M985.1 721.4h.01M940.4 723.8h.01M1039.7 720.2h.01M1022.3 746.8h.01M987.9 689.9h.01M971.2 688.2h.01M983.2 667h.01M992 675.3h.01M949.9 764h.01M990.1 673h.01M960.5 695.5h.01M1043.5 680.8h.01M977.1 641.3h.01M1026.3 640.7h.01M979.5 694h.01M972.7 693.2h.01M1018.3 743.7h.01M978.8 649.2h.01M974.1 671.6h.01M943.7 740h.01M961.3 765.6h.01M1028.8 699.9h.01M994.4 628.3h.01M939.7 761.7h.01M933.7 741.7h.01M1043.8 693.6h.01M953.3 696.4h.01M987.6 683.5h.01M1035.5 661.4h.01M1046.7 658.8h.01M997.9 746h.01M953 698.8h.01M991.9 686.8h.01M975.2 701.6h.01M1037.8 675.1h.01M1008.8 694.7h.01M954.2 713.1h.01M979.5 625.1h.01M1033.7 723.1h.01M972.3 737.3h.01M1012.4 743.4h.01M994.3 656.5h.01M992.5 657h.01M947.1 755.5h.01M1001.5 682.9h.01M960.3 725.4h.01M1002.6 628.1h.01M980 690.5h.01M968.5 740.8h.01M1030.9 659h.01M980.9 772.8h.01M1040.6 659.7h.01M963 641.3h.01M1034.1 681.3h.01M1003 704.5h.01M973.2 706.2h.01M966.3 710.6h.01M1011.7 646h.01M1019 700.1h.01M1033 690.1h.01M963.5 647.6h.01M977.6 760.1h.01M965.6 679.4h.01M966.3 741.7h.01M978.8 757.1h.01M1030.6 725h.01M971.5 724.3h.01M1017.4 658.7h.01M987.4 746.6h.01M989.2 753.1h.01M1016.7 742h.01M990.6 738.4h.01M1002.8 736.5h.01M1037.2 717.7h.01M992.5 672.2h.01M1003 709.4h.01M972.3 678.7h.01M1038.5 679.3h.01M1037.4 705h.01M1017.9 689.6h.01M1023.2 711h.01M967.3 737.9h.01M940.5 709.1h.01M1035.2 667.6h.01M961.8 631.9h.01M1046.1 654.9h.01M1007.5 739.4h.01M989.4 730.4h.01M1025.2 693.4h.01M1032.5 703.1h.01M1028 638.6h.01M997.1 656.5h.01M964.9 771.3h.01M985.8 737h.01M973.2 665.5h.01M980.8 710h.01M952.2 650.3h.01M967.4 654.6h.01M1001.8 660h.01M1023.4 734.6h.01M1032 658.1h.01M981.4 744.6h.01M988.1 711.5h.01M1018.7 656.5h.01M981.2 720.1h.01M1031.1 673.4h.01M1019.3 712.6h.01M969 760.7h.01M1043.5 675.3h.01M962.4 711.2h.01M1005.7 666.1h.01M972.6 668.5h.01M985.3 713h.01M1011.9 672.3h.01M958.5 748.1h.01M1015.8 659.5h.01M972.9 641.1h.01M981.9 770.3h.01M999.7 664.4h.01M1020.1 736.8h.01M978.4 666.8h.01M1006.9 709.8h.01M990.9 711.6h.01M975.6 645.6h.01M982.3 724.1h.01M981.5 668.7h.01M958.7 694.8h.01M1023 705.8h.01M983.4 694h.01M1004.7 677.5h.01M1044.4 699.7h.01M958.4 681.4h.01M977 737.1h.01M1005.8 700.6h.01M957.4 712.3h.01M987.8 663.6h.01M1011.6 634.4h.01M1041.1 664.5h.01M963.8 718.1h.01M1000.6 752.3h.01M979.7 692.1h.01M1037.4 666.8h.01M1031.8 716.4h.01M982.5 638.5h.01M1040.8 665.4h.01M983.8 764.2h.01M1004.9 722.1h.01M1006.4 712.3h.01M1047.7 674.9h.01M990 637.2h.01M1020.7 679h.01M1015.6 726.5h.01M945.6 707.9h.01M1004.9 623.2h.01M997.8 714.6h.01M1039.6 682.2h.01M981.8 754.5h.01M995.1 760.8h.01M954.3 682h.01M939.8 725.2h.01M962.6 648.1h.01M983 698.6h.01M992.6 773.8h.01M1011.6 693.1h.01M972 743.4h.01M959.5 637.8h.01M983.2 668.8h.01M1027.2 658.5h.01M993.7 736.4h.01M999.6 634.2h.01M973.9 730.9h.01M1019.8 746.4h.01M1019.8 719.4h.01M1041.5 716.4h.01M948.7 657.1h.01M940.8 712.5h.01M1001.7 671.5h.01M1027.9 637.5h.01M1014.9 639.8h.01M996.3 633.3h.01M995.7 752.2h.01M1039.5 656.8h.01M970.9 636.6h.01M1000.2 684.8h.01M955.1 685.2h.01M1001.9 735.5h.01M1048.1 658.9h.01M989.7 741.4h.01M1006.9 672.8h.01M984.2 766.4h.01M1011.7 744h.01M1017 647.8h.01M963.3 656.5h.01M1005.9 664.7h.01M998.7 729.5h.01M962.1 684h.01M1014.7 674.4h.01M983.5 732h.01M1041.7 656h.01M1021.7 714.5h.01M967.6 759.5h.01M984.1 742.2h.01M1017.8 687.1h.01M973 745.5h.01M959.5 720.2h.01M961.4 659.7h.01M988.7 719h.01M1024.2 686.7h.01M951.8 769.6h.01M976.1 635.6h.01M958.8 750h.01M952.9 736.3h.01M1008.3 690.6h.01M952.6 711.1h.01M1022.8 697.3h.01M963.1 732h.01M981 668h.01M996.6 711.7h.01M964.7 684.1h.01M967.1 768.6h.01M1009.4 737.3h.01M993.4 757.5h.01M1011.1 743.1h.01M1028.9 719.8h.01M967.1 717.9h.01M970.4 765.6h.01M968.3 722.5h.01M953.3 744.4h.01M1006.2 733.3h.01M963.1 667.8h.01M989.1 623.4h.01M1005.1 682.5h.01M968.4 634.8h.01M963.7 724.2h.01M1024.7 663.5h.01M950.3 696.7h.01M988.4 694.8h.01M994.2 718h.01M1014.7 670.1h.01M1010.7 638.1h.01M1005.2 717.3h.01M992 632.6h.01M1041.5 706.8h.01M983.7 721.2h.01M1015.1 708.2h.01M982.2 775h.01M976.9 687.6h.01M952.4 723.5h.01M1013.3 674.5h.01M945.3 714.9h.01M990.9 708.1h.01M982.8 624.6h.01M956 686.1h.01M1034.4 719.4h.01M942.8 706.3h.01M1006.7 656.5h.01M970.5 687.2h.01M943.6 752.7h.01M968.6 732h.01M1016.5 631.2h.01M975.2 668.6h.01M1006.9 747.8h.01M1019.7 755.7h.01M981.8 675.5h.01M991.8 655.1h.01M944.5 762.7h.01M968.5 708.9h.01M970.8 664h.01M1009.4 721.2h.01M1005.6 678.2h.01M1002.6 670.8h.01M987.2 647.8h.01M986.4 667h.01M1016 701.6h.01M947.9 660.5h.01M983.8 670.8h.01M1019.2 645.4h.01M998.5 759.2h.01M1007.7 644.5h.01M950.8 668.2h.01M955.2 650.5h.01M994.5 701h.01M1012.6 740h.01M946.2 712.5h.01M1038.1 655.8h.01M985.7 658.1h.01M1036.7 662.1h.01M964.5 737.6h.01M983.4 647.7h.01M956 765.1h.01M962.4 646.4h.01M977.7 773.6h.01M953.5 749.3h.01M975 653.7h.01M936.3 730.9h.01M1000.5 726.6h.01M963.6 772.8h.01M1040.2 697.6h.01M968.1 699.1h.01M955.8 663.2h.01M1038 687.1h.01M1020.1 745.6h.01M977.5 722.6h.01M1010.6 728.7h.01M1040.4 676.8h.01M1023.5 699.7h.01M987.9 712.3h.01M950.8 690h.01M966.6 715.3h.01M1046.2 680.7h.01M978.3 765.6h.01M980.4 676.2h.01M1012.6 707.3h.01M1035.1 673.4h.01M962.6 680.7h.01M967.2 720.1h.01M966.5 633.6h.01M979.3 761.4h.01M981.8 636.3h.01M962.2 639h.01M951.1 671.2h.01M999.6 723.4h.01M954 734.2h.01M1050.3 674.4h.01M963.3 682.2h.01M937.4 760.5h.01M998.7 726.4h.01M1023 633.3h.01M978.1 686h.01M978.3 754.9h.01M1022.5 650h.01M995.2 669.7h.01M974.2 702.7h.01M1033.3 688h.01M952.2 730h.01M989.7 710.5h.01M1031.8 674.7h.01M947.4 689.5h.01M955.2 657.7h.01M1028.5 697.8h.01M1012.7 719.3h.01M949.7 741.8h.01M1006 688h.01M978.1 674.4h.01M995.4 682.4h.01M1029.6 679.9h.01M1013.8 735.8h.01M961 715.3h.01M1009.7 753.9h.01M985 647.6h.01M1020.6 748.7h.01M953.9 760.1h.01M1004.2 752.6h.01M999.9 758.1h.01M993 642.6h.01M943.1 734h.01M1044.9 672.3h.01M973.6 630.6h.01M996.1 622.4h.01M978.7 713.9h.01M1010.8 737.9h.01M1000.5 693.6h.01M1002.5 634.3h.01M961 677.7h.01M982.7 710h.01M1017.6 740.5h.01M949.4 739.4h.01M978.8 697.2h.01M1001.7 655.1h.01M991.4 664.7h.01M970.5 762.7h.01M962.3 699.6h.01M982 630.7h.01M988.8 668.1h.01M984.9 630.9h.01M978.3 706.4h.01M943.2 761.4h.01M1005.1 672.8h.01M1026.1 661.7h.01M943.9 711.2h.01M945.2 758.7h.01M953 654.2h.01M982.2 721.3h.01M998 700.4h.01M981.8 765.2h.01M935.6 741.3h.01M964.3 640h.01M993.1 646.4h.01M980.8 624.1h.01M1003.6 654.6h.01M1002.7 643.9h.01M1003 659.6h.01M1036.4 711.2h.01M976.4 684.9h.01M987.9 722.6h.01M1024.7 699.8h.01M1008 750.4h.01M990.5 666.9h.01M967.4 673.1h.01M1026.2 704.2h.01M979 752.1h.01M1029.5 702.4h.01M1008.5 726.9h.01M969.3 751.9h.01M939.6 713.7h.01M967.8 716.2h.01M971.9 628.2h.01M1008 738.4h.01M1029.6 662.9h.01M968.6 752.3h.01M1001.6 662.7h.01M1019.8 750.2h.01M951 765.7h.01M992 726.5h.01M980.4 637.9h.01M972 713.7h.01M939.3 767.6h.01M944.9 726.7h.01M952 713.3h.01M1003.9 725.9h.01M1004.8 700.6h.01M953.7 747.8h.01M1001.1 674.4h.01M985.9 629.9h.01M1033.2 704.5h.01M957.4 772.7h.01M961 730h.01M950.3 758.6h.01M961.1 647.3h.01M1046.6 661.5h.01M1038.8 684.7h.01M961.6 769.2h.01M938.7 768.7h.01M980.2 646.5h.01M1023.6 727.2h.01M1002.4 666h.01M957.4 658.4h.01M1030.4 715h.01M977.8 715.5h.01M985.5 771.6h.01M1011.2 656.9h.01M955.1 639h.01M1010.4 710.1h.01M938.8 758.5h.01M1015.2 650.5h.01M954.6 699.4h.01M1020 652.6h.01M1033 671.9h.01M977.2 752.9h.01M1002.3 753.1h.01M966 665.5h.01M984.9 728.1h.01M966 704.4h.01M957.4 766h.01M1024.7 705.9h.01M1044.9 669.8h.01M989.9 707.2h.01M971.4 737.7h.01M963.4 733.6h.01M986.5 685.8h.01M964.7 746.5h.01M1034.6 643.3h.01M1024 702.2h.01M1013.5 749h.01M979.2 693h.01M1014.4 703.9h.01M943.4 763.7h.01M999.4 629.7h.01M986.8 689h.01M949.3 761.2h.01M1040.3 652h.01M989.5 683.1h.01M1043.8 683.7h.01M1028.1 644.9h.01M980.3 645.4h.01M986.9 673.4h.01M942.6 766h.01M997.5 637.2h.01M1033 670h.01M1012.7 642.5h.01M1021.8 706.1h.01M980.5 725.7h.01M966.5 747.5h.01M1041.3 679.4h.01M997.9 655.1h.01M951.6 716.9h.01M1029.1 657.1h.01M963.6 764.6h.01M981.6 725.7h.01M1008 661.3h.01M1036.2 680.2h.01M992.3 716.1h.01M1008.1 732.4h.01M998.2 761.8h.01M1019.6 658.7h.01M978.1 770.2h.01M1021.2 633.8h.01M980.5 741.7h.01M975.9 702.8h.01M1008 692.5h.01M951.3 709.9h.01M1042.2 682.1h.01M972.4 732.2h.01M980.1 674.7h.01M1012.5 731.5h.01M937.8 752.8h.01M1019 753.5h.01M984.5 737.3h.01M1009.2 634.9h.01M1029.6 690.7h.01M970.4 738.7h.01M964.9 676.1h.01M964.7 721.8h.01M974.3 761.4h.01M1007.6 753.3h.01M973 633.4h.01M963.1 644.1h.01M981.2 651.4h.01M988.5 708.9h.01M998.5 634.5h.01M1024.4 661.3h.01M1003.2 731.1h.01M1022.6 739.9h.01M989.5 624.5h.01M1003.5 637.3h.01M1018.4 677.7h.01M993.9 663.8h.01M958.6 761.4h.01M1035.7 652.1h.01M948.5 723.5h.01M952.1 726.4h.01M1023.2 701.2h.01M974.6 694.1h.01M954.2 729.9h.01M955.8 671.8h.01M1013.6 665h.01M994.5 636.4h.01M959.5 763.1h.01M965.9 748.9h.01M965.6 638.9h.01M970.3 752.1h.01M1007.4 724.7h.01M1017.6 671.9h.01M1004.4 627.6h.01M961.5 721.8h.01M1003.7 624.1h.01M1045.4 673.6h.01M984.2 673h.01M990.4 731.5h.01M1010.2 707.2h.01M1034.8 707.1h.01M998.5 636.7h.01M973.7 753.2h.01M975.2 704.1h.01M999.9 754.3h.01M1007.1 721.1h.01M985.9 643.3h.01M950.9 748.5h.01M1015.7 708.8h.01M957.7 764.3h.01M1014.2 745.5h.01M1047.5 656.2h.01M1013.4 689.8h.01M934 761.3h.01M979.6 740.2h.01M1010.7 684.7h.01M971.3 733h.01M985.9 712.2h.01M1012.7 748.3h.01M1023.2 639.3h.01M962.9 745h.01M1043.7 663h.01M999.3 741.8h.01M968.7 727.7h.01M977.3 748.6h.01M1007.4 646.3h.01M964.5 723.7h.01M1024.6 649.4h.01M949.8 748.1h.01M1016.9 691.5h.01M982 773h.01M1017.8 747.5h.01M961.3 759.5h.01M1016 677.1h.01M955.4 749.5h.01M1038.1 721h.01M1039.3 659.3h.01M983.2 682.4h.01M1023.5 729.9h.01M977.6 646.9h.01M983 706.2h.01M993.3 622.4h.01M968.6 744.8h.01M992.7 729.2h.01M1029.2 673.4h.01M999.2 708.8h.01M957.6 711.3h.01M949.7 728.7h.01M1003.7 713.8h.01M1003.2 658.5h.01M994.4 638.1h.01M958.9 752.9h.01M965.9 660h.01M947.2 747h.01M961.7 654.8h.01M1012.3 697.8h.01M1030.7 713.4h.01M969.5 640.7h.01M971.6 699.2h.01M991.9 772h.01M982 743.2h.01M980.1 673.6h.01M937.6 726.2h.01M1028 692.2h.01M1023.8 632h.01M957.3 675.3h.01M998.6 657.2h.01M1002.1 708.6h.01M986.3 623.2h.01M1022.5 672.4h.01M1031.7 655.4h.01M982.3 648h.01M998.8 756.2h.01M1005 742.9h.01M954.3 703.6h.01M988.2 660.2h.01M998.9 694.4h.01M1019.7 675.5h.01M945.5 760.8h.01M979.2 630.7h.01M1047.1 686.7h.01M1027 738.4h.01M1024 726h.01M946.2 718.8h.01M948.8 738.7h.01M969.4 745.8h.01M954.2 729.1h.01M1022.6 631.9h.01M981.1 649.8h.01M1023.8 647.6h.01M1024.4 743.2h.01M1010 625h.01M967 692.4h.01M1004.1 685.2h.01M986.2 718.2h.01M967.2 640.1h.01M1002.6 715.7h.01M996.8 714.1h.01M943.7 698.1h.01M980.8 735h.01M1006.4 711.2h.01M964.6 735.8h.01M963.9 712.7h.01M961.5 763.6h.01M1004.4 719.9h.01M984.1 733.1h.01M1029.4 729.7h.01M995.1 775.3h.01M957.4 742.1h.01M965.1 757.2h.01M1040.1 695h.01M1040.1 650.1h.01M1003.4 695.6h.01M967.6 680.7h.01M978.6 709.4h.01M947.1 768.9h.01M962.7 691.5h.01M1030.6 678h.01M1034.9 679h.01M1022.9 666h.01M952.1 752h.01M998.6 675.6h.01M962.1 673.6h.01M996.1 681.2h.01M936.6 761.4h.01M993.2 699.1h.01M956.4 731.4h.01M1006.2 648.4h.01M981.2 646.5h.01M1014.5 759.9h.01M957.8 633.9h.01M966.1 743.5h.01M1046.2 685.1h.01M971.4 651.8h.01M1015.6 648h.01M997 645.7h.01M1033 692.5h.01M985.2 714h.01M1011.6 752.3h.01M972.9 728.5h.01M949.2 770.1h.01M1026.9 717.7h.01M987.7 733.8h.01M963.4 721.8h.01M961.6 666.4h.01M970.5 671.5h.01M960.5 658.6h.01M983.3 697.1h.01M1009.3 657.7h.01M985 667.7h.01M964.8 668.5h.01M983.8 687.4h.01M1010.6 691.2h.01M1026.1 701.6h.01M1020.5 668.9h.01M1010.2 651.9h.01M1001.1 725.6h.01M960.1 755.9h.01M987.9 641.8h.01M988 638.7h.01M972.6 666.9h.01M949 733h.01M1002 754.9h.01M964.1 756.8h.01M968.3 642.3h.01M1014.9 700.2h.01M998.3 628.4h.01M977.8 718.6h.01M1019.5 640.6h.01M1043.2 677.7h.01M1035.2 687.2h.01M970.1 695.4h.01M1029.1 688.4h.01M996.3 738h.01M1009.6 654h.01M966.1 642.8h.01M1004.8 757.6h.01M940.4 711.1h.01M984 651.5h.01M1028.3 707.7h.01M986.9 772.5h.01M1030.6 648.8h.01M1017.6 654.6h.01M1010.5 762.9h.01M1033.2 666.6h.01M976.1 653.7h.01M964.2 757.9h.01M1020.8 747.9h.01M1040.7 712.3h.01M1012.6 647h.01M972.6 687.5h.01M966.2 678.3h.01M975.6 644.6h.01M1016.2 678.1h.01M972.7 656.4h.01M968.5 639h.01M1050.3 690.2h.01M1005.8 631.9h.01M1003.1 716.5h.01M1021.4 674.7h.01M952.6 659.3h.01M1018.2 628.7h.01M1002.5 635.7h.01M1013.7 627.1h.01M1030.1 635.3h.01M1021.2 710.3h.01M997.8 642.4h.01M994.5 628h.01M1005.5 700h.01M988.3 688.6h.01M965.9 656.5h.01M1018.5 655h.01M1027.6 684.6h.01M1035.1 702.3h.01M1017.7 693.5h.01M1017.1 667.7h.01M979.5 689.7h.01M1039.1 659.5h.01M1044 654.5h.01M1015 653.3h.01M1039.6 684.4h.01M978.8 624.5h.01M1042.2 688.8h.01M1024.5 659h.01M1014.1 722.9h.01M983.4 626.7h.01M1032.4 670.5h.01M988.6 717.7h.01M1009.1 639.9h.01M1018 696.3h.01M1034.1 652.8h.01M1031.7 654.7h.01M990.5 705.5h.01M1013.3 636.9h.01M964.7 644.3h.01M972.3 662.4h.01M1021.7 719.5h.01M1015.9 651.5h.01M963.4 693.2h.01M1019.9 709.3h.01M1017.4 715.4h.01M989.6 664.9h.01M1040.9 704.4h.01M954.5 693.7h.01M970.2 627.7h.01M993.5 665h.01M999.4 628.9h.01M1012 688.6h.01M1042.4 700.5h.01M1010.1 629.9h.01M1027.5 649.9h.01M970.3 694.8h.01M1015.5 693.8h.01M959.4 676.3h.01M986.6 683h.01M1019.8 656.8h.01M1049.3 672.3h.01M1031.2 713.3h.01M988.1 690.3h.01M971 689.5h.01M1009.8 685.6h.01M981.6 687.5h.01M998.4 655.8h.01M982 625.5h.01M1014.6 689.6h.01M980.5 695.9h.01M1043.7 658.6h.01M963 645.4h.01M981.7 693h.01M1033.2 683.8h.01M1020.4 710.2h.01M974.6 683.5h.01M1026.8 706.6h.01M978.4 664.7h.01M1013.6 676.8h.01M1048.3 658h.01M954.3 650.7h.01M1007.5 674.7h.01M975.3 715.4h.01M1046.4 651.9h.01M1021.5 678.7h.01M957.8 640.3h.01M1009.1 699.7h.01M1016.5 710.6h.01M1027.3 654.3h.01M979.6 698.1h.01M964.2 700.8h.01M967.9 685.8h.01M1045.3 697h.01M1009 714.1h.01M1008.5 713.2h.01M1022 653.2h.01M979.2 719.8h.01M1033.9 718h.01M983.6 631.9h.01M978.9 678.6h.01M971.6 709.9h.01M956.1 711.3h.01M997.3 687.2h.01M1013.4 668.2h.01M1038.7 650.3h.01M971.1 657h.01M997.6 673.2h.01M1023.5 698.8h.01M996.4 724.3h.01M999.3 693.6h.01M962.7 662.4h.01M963.6 685.4h.01M955.3 659h.01M989.7 658.5h.01M982.9 698.4h.01M1034.5 639.9h.01M995.6 706.7h.01M1040 706.7h.01M995 663.2h.01M1027.5 685.9h.01M994.4 642.1h.01M980.9 648.7h.01M973 632.1h.01M965 680.9h.01M970.1 669.8h.01M1047.2 666h.01M1023.6 698h.01M1045.7 685h.01M955.4 684.8h.01M968.8 637.5h.01M955.8 672.3h.01M998.9 707.5h.01M1012.4 663.1h.01M1024.3 681h.01M1014.5 670.5h.01M1012.7 719.1h.01M990.5 683.9h.01M1004.3 626.1h.01M1021.7 660.2h.01M1034.2 707.6h.01M999.5 626.4h.01M957.7 700.6h.01M1008.2 719.6h.01M992.8 673.2h.01M1003.8 681.5h.01M956.1 712.3h.01M1017.3 671.8h.01M981.4 662.6h.01M1050 663.5h.01M985.8 677.6h.01M984.4 656.4h.01M962.8 711.3h.01M1019.2 697.2h.01M1016.3 718.4h.01M1023.9 639.3h.01M1012.2 697.4h.01M990.4 696.7h.01M1034.1 699.8h.01M1027.9 706.1h.01M1007.3 665.6h.01M1014.1 703.9h.01M1022.7 705.2h.01M995.7 648.4h.01M964.2 643h.01M978.5 648.7h.01M953.2 674.2h.01M1011.4 677.4h.01M1023.7 699.9h.01M1038.7 715.5h.01M1005.7 623.4h.01M1014.6 665.3h.01M957.7 635.2h.01M979.2 637.7h.01M990.6 728.5h.01M983.6 623.4h.01M1002.6 628.3h.01M967 634.1h.01M1047.8 655.4h.01M983.8 715.9h.01M956.7 691.9h.01M990.3 727.6h.01M985.5 630.4h.01M999.2 663.3h.01M1009.9 648h.01M983.5 727.3h.01M1036.2 666.3h.01M998.1 669.2h.01M961.2 714.2h.01M992.7 659.1h.01M973.9 693.3h.01M1000.9 725.5h.01M970.2 663.5h.01M1012 695.1h.01M973.8 701.8h.01M1013.6 665.4h.01M977.6 645h.01M979.3 644.3h.01M961.7 642.9h.01M971.2 666.9h.01M1002.2 621.4h.01M1024.7 643.1h.01M960.3 694.8h.01M962.3 650.7h.01M1010.9 701.7h.01M1041.6 678.1h.01M969.7 704.5h.01M1042.8 684.3h.01M976.9 690.2h.01M986.8 632.6h.01M1049.5 698.6h.01M995 679.7h.01M984.8 696h.01M958.5 717.5h.01M991.5 676.2h.01M1008 643.2h.01M995.8 667h.01M962.4 694.6h.01M1040.2 669.3h.01M988.8 725.9h.01M992.4 726.2h.01M1013.9 683.4h.01M1047.2 700.4h.01M1019.6 718.8h.01M988.4 634.9h.01M1021.4 703.6h.01M1032.6 663.6h.01M1014.4 708.8h.01M1005.2 710.5h.01M1031.6 667.9h.01M961.9 638.1h.01M969.8 712.2h.01M1004.8 648.9h.01M1028.7 670.9h.01M1019.7 707.1h.01M962.5 675.1h.01M974.5 642.2h.01M1020.5 671h.01M1014.1 686.1h.01M1004.5 722h.01M965.9 661.9h.01M1042.6 699.3h.01M990 669h.01M1039.9 652.3h.01M972 657.1h.01M1003.8 687.5h.01M962.3 683h.01M994.1 702h.01M961.7 652.6h.01M1042.6 686.6h.01M988.9 637.5h.01M1002.8 625.1h.01M982.8 725.2h.01M1007.8 647.7h.01M987.8 659.5h.01M996.2 665.3h.01M1022.3 632h.01M1026 671.3h.01M1049.5 681.7h.01M1037.8 661.1h.01M1031.1 692.5h.01M1051.5 673.6h.01M1039.9 686.5h.01M1012.7 638.8h.01M983.2 628.4h.01M1036 674h.01M981.4 660.9h.01M1022.3 692.3h.01M1015.5 688.8h.01M1030.1 686.5h.01M1013.5 672h.01M1020.7 705.8h.01M1010.9 648.5h.01M995.4 635h.01M981.1 632.9h.01M1023.8 666.6h.01M980.6 715.4h.01M1008.5 659h.01M969.7 710h.01M991.7 643h.01M1005.9 682.7h.01M999.9 724h.01M1031.3 689.6h.01M1002.5 630h.01M962.4 643.5h.01M994.3 694.6h.01M996.7 670.7h.01M997.1 640.8h.01M986.8 724.4h.01M1001.5 648.5h.01M1028 656.8h.01M1046 674.7h.01M1044.4 706.4h.01M993.5 718.5h.01M994.9 682.4h.01M994.3 715.8h.01M995.7 627.5h.01M985.3 654.2h.01M1008.8 665.8h.01M962.7 709.8h.01M1021.4 664.4h.01M1050.6 688.4h.01M1002.5 655.1h.01M1010.7 653.7h.01M1043.2 654.4h.01M997.9 718.9h.01M1000.6 654.5h.01M1033.7 692.5h.01M988 680.8h.01M988.8 697.1h.01M1039.8 682.1h.01M1005.3 636.1h.01M981.6 688.7h.01M991.4 710h.01M985.3 664.3h.01M1038 655h.01M958.5 686.8h.01M1017.3 638.9h.01M988.3 721.1h.01M978 661.4h.01M1042.1 670.8h.01M997.5 622.4h.01M973.3 662.6h.01M966.2 667.3h.01M956.9 663.6h.01M989.7 631.4h.01M1016.7 695.8h.01M998.5 641.3h.01M987.5 658.4h.01M977.1 658.1h.01M969.1 682.6h.01M989.6 661.7h.01M1045.2 663.7h.01M969.2 719.4h.01M1029.1 702.1h.01M978 654.1h.01M965.7 635.8h.01M993.8 720.6h.01M991.3 659.1h.01M1030.8 674h.01M1005.2 676.4h.01M1044.2 686.6h.01M985.1 659.6h.01M967.5 642.6h.01M1022.2 665.2h.01M1042.6 705.4h.01M993.2 648h.01M998.3 708.1h.01M954.7 715.6h.01M989.8 701.8h.01M986.7 639h.01M959.2 698h.01M1017.6 702.6h.01M979.9 648.5h.01M1008.9 692h.01M990.6 680.9h.01M993.6 646.6h.01M1010.4 708.4h.01M962.3 640.8h.01M1046.1 649.4h.01M988.4 709.8h.01M1010.4 651.2h.01M994.6 700h.01M996.3 618.8h.01M1036.5 686.9h.01M970.3 709h.01M1029.1 635.3h.01M1023.6 651.6h.01M1005.9 722.9h.01M1040.9 664.4h.01M1031.7 653.1h.01M988.9 702.7h.01M1033.4 698.7h.01M994.1 692.4h.01M1017.2 641.4h.01M963.6 697.9h.01M972.7 630.6h.01M995.9 723.7h.01M1012.6 643.2h.01M958.6 645h.01M1043.7 704h.01M1029.1 707.4h.01M975.5 628.4h.01M1019.2 684.6h.01M1030.3 670.9h.01M959.4 705.7h.01M966.4 645.8h.01M1017.2 682.8h.01M1008.1 655h.01M1021.2 645.6h.01M1006.4 649.1h.01M968.5 666.1h.01M989 673.2h.01M1009.4 652h.01M970.8 677.7h.01M982.7 639.4h.01M969 720.9h.01M1018.8 700.8h.01M1042.9 644.1h.01M1024.6 667.8h.01M1035.6 704.2h.01M993.4 642.6h.01M1012.9 666.1h.01M1016.7 643.2h.01M986.4 623.2h.01M1000.1 696.4h.01M1033 636.9h.01M1006 659.3h.01M1045 683.7h.01M1037.2 668.4h.01M973.3 723.6h.01M982.6 654.8h.01M1030.5 710h.01M1022.3 669.7h.01M978.2 663.6h.01M1039 693.9h.01M1003.4 707.8h.01M981.9 629.3h.01M997.8 639.6h.01M1027 656.5h.01M968.5 653.7h.01M978.2 698.1h.01M1007.2 639.6h.01M1004 703h.01M966.6 673.1h.01M1000.4 632.8h.01M1013.4 716.8h.01M1043.2 688.3h.01M1021.9 634.7h.01M980.2 686h.01M1028.2 698.7h.01M1024.5 646.5h.01M959.6 638h.01M1025.3 649.8h.01M971.1 704.5h.01M963.1 674.3h.01M1047.6 669.2h.01M989.2 654.9h.01M1020 650h.01M1040 688.4h.01M1032.9 711h.01M997.8 644.8h.01M1049.8 684.2h.01M1042.8 667.1h.01M1038.9 685.4h.01M1049.5 689.2h.01M971.4 638h.01M1046.9 682.4h.01M1048.2 702.8h.01M973.4 644h.01M1018.6 693h.01M975.1 707.4h.01M953.6 681h.01M966.6 711h.01M976.4 630.5h.01M1007.8 661.5h.01M1041.4 695.1h.01M1036.2 705.8h.01M986.3 687.4h.01M980.7 650.4h.01M979.1 657.8h.01M1001.2 624.6h.01M1004.9 665h.01M1022.6 679.4h.01M983.4 645.7h.01M1038.5 712.7h.01M1024.3 665.8h.01M1010.5 692.8h.01M966.7 657h.01M955.8 654.9h.01M1042.9 692.6h.01M999.7 635.5h.01M968.1 700.9h.01M1037.7 679.6h.01M1018.5 649.5h.01M1029.7 636.8h.01M954.5 690.6h.01M986 674.7h.01M962.8 668.5h.01M1024.4 665h.01M1037.1 643.8h.01M1040.4 713h.01M987.5 694.8h.01M992.1 655.5h.01M1046.9 694.9h.01M1011.7 712.1h.01M989.3 668.2h.01M1001.8 688.2h.01M1024.2 701.7h.01M984.2 685.6h.01M992.3 633.9h.01M1000.2 681.2h.01M975.4 632.7h.01M1018.5 660.8h.01M1006.5 665.5h.01M1000.2 629.6h.01M1040.9 700.2h.01M1006.6 703.2h.01M1031.4 639.3h.01M971.2 654.6h.01M957 671.1h.01M1009.6 680.8h.01M1006.1 700.8h.01M1034 715h.01M1038.8 707.3h.01M1025.4 645h.01M997.6 652.7h.01M987.4 684.4h.01M1000.5 664.9h.01M972.6 641.9h.01M965.4 633.9h.01M1004.8 629.8h.01M1037 658.5h.01M1029.9 676.6h.01M998.4 663.9h.01M965.9 704.3h.01M973.9 641.5h.01M1023.6 695.4h.01M1016.3 713.3h.01M971.3 687.6h.01M1023.9 711.5h.01M973 706.6h.01M1032.5 694.9h.01M991.5 638.6h.01M1033.6 664.3h.01M1019.5 691.9h.01M979.5 655.1h.01M1013 708.4h.01M960.5 684h.01M984.6 729.2h.01M1033.1 650.3h.01M992.4 645.4h.01M955.6 687.1h.01M1011.1 669.8h.01M1013.2 678.1h.01M960.1 664.7h.01M978 684.4h.01M1010.9 636.4h.01M977.6 649.8h.01M1035.1 650.8h.01M1016 636.7h.01M967.6 699.6h.01M981.6 682.8h.01M983.6 729.4h.01M984.5 622.2h.01M1021.6 638.8h.01M995.9 622.6h.01M987.9 701.8h.01M1005.1 702.1h.01M955.7 638h.01M984.2 637.9h.01M1019.3 670.7h.01M1038.1 671.3h.01M977.9 718.6h.01M964.5 645.6h.01M1024.7 642.1h.01M968.5 656.1h.01M1023.4 646.2h.01M1030.4 682.7h.01M1042.2 646.1h.01M1019.5 669.1h.01M955.9 708.4h.01M1044.7 689.5h.01M1026.8 721h.01M1003.2 665.5h.01M965.8 677.2h.01M1008.6 653.3h.01M1045.1 656.6h.01M985.1 636.8h.01M1026.9 696.2h.01M985.1 682.9h.01M988 654.8h.01M975.1 655.7h.01M954.6 663.8h.01M1010.6 638.8h.01M984.6 654.7h.01M1033 709.5h.01M960.4 687.8h.01M1013.6 699.7h.01M1018.1 663h.01M1035.5 682h.01M1000.5 667.3h.01M1021.4 676.9h.01M990.1 676.7h.01M990.3 699.9h.01M990.9 714.8h.01M1042.3 698.2h.01M962.9 684.4h.01M1002.1 691h.01M999.8 661.9h.01M1018.6 704.2h.01M998.7 654.2h.01M997.3 636.1h.01M987.4 725h.01M1016.9 707.6h.01M953.9 663.2h.01M1047.5 681.3h.01M1001.8 714.9h.01M998.7 630.1h.01M980.7 694.1h.01M984.8 715.3h.01M1051.2 655.3h.01M1001 714.4h.01M1030.1 691.3h.01M979.3 646.4h.01M986.8 635.1h.01M969.5 645.9h.01M976.6 644.8h.01M965.3 715.4h.01M970.1 650.6h.01M1039.4 675.8h.01M981.8 641.1h.01M1037.1 670.9h.01M989.4 643.9h.01M987.3 655.9h.01M971.4 626.5h.01M975.9 717.1h.01M977.5 653h.01M991.3 629.2h.01M1027.4 652.6h.01M1024.7 719.3h.01M1005.8 678.8h.01M990.8 721.8h.01M1020.2 634.3h.01M954.4 641.9h.01M992.2 691.2h.01M973.4 637.9h.01M1041.7 674.3h.01M971.5 665.3h.01M968.5 644.5h.01M1046.1 668.9h.01M983.3 639.9h.01M962.2 690.6h.01M977.6 679.3h.01M989.2 706h.01M1029.9 692.5h.01M985.6 723.2h.01M1022.8 720.8h.01M992.5 651.2h.01M1039.2 697.3h.01M968.8 664.1h.01M965.1 636.6h.01M1007 650.4h.01M1015.9 669.2h.01M971.2 721.2h.01M986.2 717.7h.01M976 626h.01M1033.8 668.9h.01M980.8 625.3h.01M980.6 627.5h.01M990.4 716.4h.01M1028.4 654.3h.01M991.1 666.6h.01M1034.1 682.1h.01M971.3 660.6h.01M1010.9 650.5h.01M1006.2 639.9h.01M1011.9 626.5h.01M1041.7 713h.01M996.2 641.4h.01M1048.2 668.1h.01M982.9 728.8h.01M1001.5 631.1h.01M994.7 696.4h.01M1032.9 707.3h.01M981.5 701.2h.01M1007.5 657.5h.01M986.5 656.2h.01M1006.1 676.5h.01M1001.6 638.9h.01M960.6 659.7h.01M1002.1 645.6h.01M1026.2 700.2h.01M1040.4 702h.01M961.5 695.1h.01M997.2 655.4h.01M1017.9 695.1h.01M960 711.1h.01M990.8 703.1h.01M930.6 710.5h.01M922.4 778.2h.01M925.8 733.1h.01M936.1 689.8h.01M932.1 697.2h.01M898.3 714.1h.01M944.6 653.9h.01M934.7 725.1h.01M928.6 739.7h.01M909.3 758h.01M916.7 762.1h.01M908.7 776.7h.01M925.8 779.8h.01M925.4 731h.01M919.5 743h.01M916.1 718.8h.01M915 727.9h.01M912.7 728.7h.01M931.9 733.8h.01M910.6 738.2h.01M932 676.8h.01M939.7 655.6h.01M932.9 772.5h.01M911.8 781h.01M937 719.7h.01M938.5 686h.01M935.2 707.9h.01M923.2 766.2h.01M927 720.2h.01M909.3 747.9h.01M911.1 725.5h.01M933.2 719.7h.01M921.3 728.6h.01M927.4 750.2h.01M929.6 773.4h.01M901.9 738.7h.01M936.4 653.1h.01M940.6 660h.01M900.8 708.8h.01M924.1 722.4h.01M917.2 765.8h.01M932.5 685.1h.01M900.6 717.1h.01M944.6 671.4h.01M928 760.4h.01M939.1 658.3h.01M906 708.5h.01M920.5 774.5h.01M920.3 738.3h.01M912.8 770.5h.01M909.2 764.7h.01M924.6 726h.01M912.6 749.8h.01M908.7 751.3h.01M922.3 703.8h.01M923.4 774.7h.01M931.2 693.5h.01M947.5 682h.01M932.3 780.9h.01M916.3 784.7h.01M938.3 663h.01M899.5 739h.01M914.4 751.4h.01M930.7 688.2h.01M909.1 773.7h.01M928.6 714h.01M942.4 672.2h.01M934.5 774.9h.01M925.8 754.2h.01M910.9 746.5h.01M922.1 709.2h.01M909.5 740.3h.01M923.5 752.5h.01M927.5 783.3h.01M902 776.8h.01M917.6 771.8h.01M936.9 656.9h.01M911.9 732.7h.01M906.7 750.1h.01M943.2 675.3h.01M936.9 670.2h.01M910.4 729.1h.01M947.3 657.5h.01M900.1 710.8h.01M911.3 711.9h.01M931.7 737.6h.01M921.5 696.1h.01M917.6 701.2h.01M939.3 720.8h.01M909.7 783.4h.01M940.9 649.4h.01M903.3 705.4h.01M935.1 718.3h.01M912.1 735.8h.01M922.1 735.4h.01M914.1 766.1h.01M938.7 651.7h.01M943.9 685.3h.01M910.1 714.7h.01M931.9 681.9h.01M934 692.8h.01M939.4 681h.01M942.5 669h.01M915.8 713.3h.01M906.5 727.8h.01M905.6 762h.01M919.1 704.9h.01M911.5 754.7h.01M927 745.9h.01M921.8 718.1h.01M933.1 687.1h.01M926.5 706.5h.01M920.6 764.5h.01M945.3 649.1h.01M945.2 661h.01M926.6 699.7h.01M913.5 774.9h.01M916.6 725h.01M920.5 707.9h.01M912.8 713.4h.01M892.4 704.8h.01M920.4 722.4h.01M915.6 755.3h.01M920.7 748.5h.01M908 735.1h.01M940.1 671.6h.01M926.8 685.6h.01M913.3 779.6h.01M910.3 718h.01M913.8 711.4h.01M931.3 741.5h.01M902.7 713.8h.01M937.4 666.2h.01M925.2 764.4h.01M905.3 732.1h.01M924.8 741.4h.01M932.4 701.6h.01M942.8 651.9h.01M927 717.2h.01M913.1 706.6h.01M931.4 757.6h.01M946.1 672.8h.01M930.1 745.1h.01M911 777.5h.01M938.2 716.8h.01M930.2 749.4h.01M935.8 672.8h.01M910.5 743.6h.01M917.9 710.3h.01M921.8 720.8h.01M903.5 774.6h.01M905.3 718.5h.01M932.9 709.5h.01M917.2 736.4h.01M933.5 730.1h.01M933.2 768.6h.01M933.8 715h.01M938.9 713.1h.01M936.9 709.6h.01M913.9 783.6h.01M937.1 683.5h.01M915.1 763.9h.01M920.9 759.6h.01M928.3 779.3h.01M916.5 778.2h.01M927.5 697.2h.01M930.9 751.7h.01M941.1 682.6h.01M931.8 722.7h.01M925.7 772.1h.01M931.8 717.8h.01M925.4 728.6h.01M939.1 677.5h.01M910 736h.01M907.6 709.7h.01M919.3 751.2h.01M935.6 781.3h.01M926.8 768.9h.01M936.3 698.5h.01M919.1 780.9h.01M923.9 780.9h.01M934.7 770.8h.01M925.2 702.6h.01M918.5 729.4h.01M906.6 705.9h.01M937.6 679.6h.01M935.7 727.5h.01M921.3 732h.01M924.9 714.6h.01M903.6 716h.01M936 681.4h.01M907.1 773.4h.01M934.3 695h.01M921.5 700h.01M918 763.9h.01M937 694.3h.01M937.2 659.7h.01M925.5 736h.01M929.4 727.4h.01M903.6 779.1h.01M941.1 685.6h.01M934.4 711.7h.01M928.4 723h.01M935.8 675.5h.01M924.2 783.8h.01M924.5 697.2h.01M929.7 763.3h.01M905.6 723.9h.01M924.8 744.9h.01M909.8 720.1h.01M915.7 716.5h.01M897.4 710.9h.01M942.2 662.8h.01M918 640.8h.01M898.7 690h.01M915.5 672h.01M886.7 715h.01M889.2 719.2h.01M891.2 723.3h.01M893.6 549.9h.01M896.6 548.3h.01M890.6 562.7h.01M889 565.4h.01M885.5 579.7h.01M909.5 536h.01M892.5 550.8h.01M893.7 553.1h.01M889.7 564.1h.01M904.3 540.1h.01M885.1 570.4h.01M886.4 571h.01M889.3 562.5h.01M891 557h.01M904 535h.01M887.8 565.2h.01M884.8 578h.01M899.1 539.8h.01M886.2 573.1h.01M896 542.8h.01M899.2 545.2h.01M892.3 556.9h.01M894.7 551.6h.01M885.4 567.8h.01M908.1 535.3h.01M887.5 561.9h.01M886.2 566.5h.01M898 549.5h.01M889 560.1h.01M897.3 543.4h.01M895.6 552.9h.01M896.1 551h.01M897 540.5h.01M896.2 546.3h.01M894.6 549.1h.01M890.3 558.9h.01M885.1 574.4h.01M905.8 533.6h.01M891.3 558.3h.01M884.9 576.3h.01M890.9 561.1h.01M895.3 547.1h.01M900.4 537h.01M901.6 538.7h.01M904.8 537h.01M883.9 574.5h.01M887.2 569.9h.01M894.2 555h.01M899.8 544h.01M898.9 546.8h.01M887 591h.01M890.5 597h.01M902.5 551h.01M903 559h.01M899 565h.01M902.5 567.5h.01M901 576h.01M902 585h.01M901 589h.01M903 555h.01M900 562h.01M869.1 370.8h.01M864.7 369.7h.01M880 376.2h.01M875 373.9h.01M861 375.4h.01M861.7 371h.01M859.7 368.9h.01M866.5 377.1h.01M854.2 366.5h.01M858.1 373.5h.01M873.2 373.3h.01M868.5 369.9h.01M863.8 372.3h.01M877.8 375.3h.01M867.7 371.5h.01M870.5 371h.01M870.3 373.9h.01M874.3 374.7h.01M864.7 368.5h.01M851.6 366.2h.01M876.4 375.6h.01M853.8 369h.01M879.2 375.7h.01M852.5 363.7h.01M857.4 367h.01M881.3 375h.01M850.6 366.2h.01M858 368h.01M850.7 367.9h.01M869.5 373.6h.01M865.5 370.9h.01M872.6 375.2h.01M874 376.3h.01M889.9 374.2h.01M886.3 371.5h.01M893 370.1h.01M890.3 372.4h.01M894.5 371.4h.01M893.8 372.1h.01M887.2 371.2h.01M884.5 367.2h.01M884 369.4h.01M888.7 369.8h.01M888.8 369h.01M913.9 365.8h.01M914.6 376.1h.01M914.8 377.7h.01M907.2 376.9h.01M902.8 369.2h.01M906.8 376.1h.01M906.8 367.6h.01M912.2 365.7h.01M920.8 374.5h.01M915.7 376.2h.01M920 375.7h.01M918.1 375.4h.01M912.9 375.5h.01M909.4 375.9h.01M911.9 377h.01M920.9 375.8h.01M908.2 376.7h.01M907.6 365.8h.01M905.5 367.2h.01M914.9 367.7h.01M910.4 376.2h.01M906.2 366.7h.01M903.6 368.5h.01M904.9 374.7h.01M909.3 377.5h.01M910.4 377.2h.01M920.5 373.7h.01M944.9 368.4h.01M946.1 362.3h.01M944.2 378.9h.01M927.9 367.5h.01M930.8 361.7h.01M925.2 359.8h.01M940.9 373.6h.01M929 363.9h.01M939.3 378.5h.01M920.2 352.8h.01M945 373.3h.01M935 368.6h.01M936.5 363.8h.01M926.7 363.8h.01M938.5 374.2h.01M928.8 358.2h.01M926.6 357.4h.01M931.7 376.4h.01M932.6 368.9h.01M915.2 350.5h.01M948.7 371.9h.01M921.9 372.5h.01M939.5 374.9h.01M939.2 371.2h.01M935.4 361.3h.01M933.6 369.4h.01M922.8 374h.01M926.8 365.5h.01M942.2 374.2h.01M941.1 368.3h.01M941.7 366.7h.01M933 362.6h.01M953.9 367.7h.01M932.6 363.9h.01M952.5 373h.01M922 359h.01M948.8 369.3h.01M923.5 370.9h.01M928.8 374h.01M949.6 374.6h.01M957.2 366.5h.01M921.5 364.3h.01M929.7 369.8h.01M933 361.3h.01M925.4 358.1h.01M931.1 359h.01M918.2 351.6h.01M946.8 368.5h.01M955 370.6h.01M930.2 365.1h.01M936 372.3h.01M943.6 374.4h.01M922.7 371.1h.01M934.2 365.6h.01M948.7 371h.01M922.9 369.8h.01M938.1 379.6h.01M945.8 361.5h.01M957.7 372.9h.01M926.8 369.1h.01M950.1 376.8h.01M954.9 368.6h.01M938.3 368.2h.01M922.9 359.5h.01M920.9 353.8h.01M947.6 364.7h.01M952.2 375.6h.01M954.4 369.3h.01M933.1 378.3h.01M947.9 366.2h.01M935.6 376.6h.01M953.9 365.4h.01M935.3 366.8h.01M935.1 369.6h.01M929.7 358.2h.01M922.6 361.5h.01M944.7 371.5h.01M934.6 374.7h.01M940.9 366.5h.01M931.2 372.9h.01M949.6 378.8h.01M931.5 363h.01M921.7 362.4h.01M944.3 364.3h.01M924 369.2h.01M936.7 380.1h.01M946 373h.01M949.1 365.3h.01M932 360.1h.01M952.7 374.5h.01M933.3 372.4h.01M927.2 362h.01M952.1 376.9h.01M953.1 371.1h.01M923.1 355.5h.01M941.6 379.8h.01M942.8 381h.01M943.8 363.2h.01M931.9 373.3h.01M944.9 363.4h.01M931.2 372.1h.01M943.7 370.9h.01M927.4 374.9h.01M947.4 374.4h.01M946.4 365.9h.01M938.7 373.2h.01M942.5 377h.01M926.7 375.9h.01M952.5 369.9h.01M936.9 377.4h.01M946.9 362.2h.01M927.5 356.8h.01M941.7 369.4h.01M933.3 359.5h.01M945.2 370.5h.01M930.5 368.6h.01M928.9 372.7h.01M944.7 361.2h.01M940.5 369.4h.01M923 353.7h.01M959.4 372.2h.01M944.8 374.3h.01M928.8 369.9h.01M925.8 363.3h.01M956.6 368.1h.01M933.6 377.4h.01M943.8 369.6h.01M950.9 377.9h.01M926.9 367.7h.01M942.7 365.1h.01M949.3 363.7h.01M928.9 371.7h.01M933.3 376.1h.01M946.2 371h.01M925.2 366h.01M928.5 361.7h.01M943.1 379.8h.01M956.3 372.3h.01M958.2 369.8h.01M939.5 372.9h.01M940.1 376.2h.01M938.2 378.2h.01M951.4 366.1h.01M942.6 372h.01M950.5 369.5h.01M923.9 365.7h.01M921.6 371.4h.01M958.9 368.2h.01M938.3 366.2h.01M929.3 376.8h.01M926.6 371.7h.01M917 354.7h.01M927.8 369h.01M937.3 367.6h.01M948 376.2h.01M921.7 354.9h.01M922.3 364.3h.01M933.7 380.5h.01M937.2 374.7h.01M938.6 375h.01M923 371.9h.01M955.6 373.7h.01M950.4 370.6h.01M953.5 369.3h.01M927.1 359.4h.01M948.3 367.3h.01M924.3 361.1h.01M929.5 363.2h.01M940.3 361.6h.01M925.1 372.8h.01M927.7 362.9h.01M949.5 366.6h.01M924.9 362.6h.01M952.9 368.5h.01M940.4 371.8h.01M953 376.5h.01M937.7 380.9h.01M921.3 356.5h.01M930 371.8h.01M948.6 375.7h.01M946.5 370h.01M933 370.6h.01M939.4 377.5h.01M940.7 381.8h.01M937.1 361.9h.01M945.4 365.2h.01M946.8 375h.01M941.6 372h.01M923.6 373.2h.01M923.2 356.5h.01M939.1 365.7h.01M947 378.8h.01M923.5 364.6h.01M933.9 363.8h.01M928.9 360.1h.01M950.4 374.5h.01M934.9 363.4h.01M930.1 375.3h.01M919.5 396.7h.01M917.8 397.3h.01M920.7 393.2h.01M914 399.1h.01M920.9 394.7h.01M928.4 390.5h.01M927.5 389.6h.01M923.1 393.6h.01M925.5 392.5h.01M916.3 398.4h.01M918 395.7h.01M926.2 391.1h.01M909.4 395.9h.01M889.6 430.4h.01M911.9 401.9h.01M928.8 389h.01M761.1 588.9h.01M749.5 594h.01M755.7 601.3h.01M736.7 601.9h.01M706.9 589.9h.01M698.7 580.7h.01M728.9 593.1h.01M745.8 602.7h.01M706.3 588.1h.01M706.8 586.2h.01M767.7 591.3h.01M772.3 589.4h.01M733.8 601.8h.01M742.5 605.7h.01M744 593.1h.01M700.2 581.3h.01M756.9 598.9h.01M771.7 586.9h.01M734.3 595.2h.01M758.9 599.2h.01M747.5 592.3h.01M757.5 595h.01M764 596.5h.01M773 585.6h.01M708.8 589.6h.01M752.5 597.3h.01M712.4 587.5h.01M756.9 602.1h.01M751.8 593.4h.01M763 590h.01M730.4 597.5h.01M769.7 592.1h.01M757.8 590.2h.01M761.1 595.5h.01M711.9 593h.01M697.5 579.6h.01M737.9 599.9h.01M721.1 599h.01M738.9 600.3h.01M728.1 593.8h.01M725.2 601.4h.01M719.5 595.2h.01M739.2 596.1h.01M732.2 594.1h.01M748.6 601.8h.01M699.8 578.3h.01M713.8 589.4h.01M755.4 595.3h.01M732.2 602.5h.01M749.1 602.7h.01M721.6 596.5h.01M765.2 592.9h.01M768.4 595.9h.01M707.5 587.4h.01M708.6 590.7h.01M709.7 588.5h.01M764.3 588.7h.01M715.8 595.4h.01M764 593.1h.01M762.5 597.3h.01M745.9 591.6h.01M736.3 598.3h.01M748.9 597.4h.01M725.7 598.3h.01M753.2 595.1h.01M767.7 594.9h.01M772.6 587.8h.01M711 589.8h.01M711.7 594.5h.01M742.3 595.1h.01M733.1 602.3h.01M703.8 583.1h.01M741.1 597.6h.01M725.3 595.7h.01M755.8 592.7h.01M715.4 591.5h.01M716.5 592.6h.01M767.1 593.8h.01M765.8 596.2h.01M764.2 595.1h.01M700.3 579.2h.01M763.7 590.7h.01M737.1 597.6h.01M767.5 592.3h.01M722.4 600.2h.01M720.1 595.9h.01M768.4 593.2h.01M745.1 604.8h.01M747.4 601.6h.01M709.9 593.3h.01M755.9 596h.01M748.7 599.5h.01M732.1 595.5h.01M760.8 584.4h.01M739.5 606.4h.01M748.7 604h.01M747.6 598.5h.01M751.7 600.9h.01M751.6 597.5h.01M756.6 594.8h.01M716.9 594.3h.01M735.3 602.3h.01M737.2 595.4h.01M759.5 587.2h.01M723 600.8h.01M739.5 598.9h.01M742.5 601.5h.01M761.9 595.3h.01M740.1 594.9h.01M739.2 602.7h.01M760.7 597h.01M711.8 596h.01M717.4 596.4h.01M756.2 599.6h.01M737 550.4h.01M744.1 552h.01M731.8 541.3h.01M736.8 546.2h.01M734.6 545.8h.01M740.6 549.6h.01M741.4 553.8h.01M737.4 547.7h.01M739.1 555.8h.01M734.5 544.6h.01M742.5 550.6h.01M740.2 553.5h.01M738.8 552h.01M744.9 553.9h.01M741.2 545.1h.01M735.8 548.2h.01M732.4 543.7h.01M740.6 551.3h.01M732.7 540.8h.01M743.1 551.8h.01M740 549h.01M738.9 550h.01M725 537.1h.01M723.8 540.4h.01M722.5 548.8h.01M726.7 547.1h.01M733.8 557.5h.01M743.3 562.1h.01M746.7 562.1h.01M747.1 566.7h.01M750 571.2h.01M752.9 569.2h.01M752.1 567.5h.01M714.6 567.3h.01M720.6 571.3h.01M740.8 575.2h.01M733.8 586.5h.01M746.8 589.6h.01M767.1 566.9h.01M771.2 570h.01M775 564.2h.01"/>
<circle cx="716.8" cy="183.3" r="2.85" fill="#8860F0"/><circle cx="717" cy="195.8" r="2.85" fill="#8860F0"/><circle cx="733.2" cy="275" r="2.85" fill="#8860F0"/><circle cx="570.3" cy="249" r="2.85" fill="#8860F0"/><circle cx="439.3" cy="408.3" r="2.85" fill="#8860F0"/><circle cx="198.8" cy="529.2" r="2.85" fill="#8860F0"/><circle cx="330" cy="771.3" r="2.85" fill="#8860F0"/><circle cx="444.2" cy="853.7" r="2.85" fill="#8860F0"/><circle cx="634.2" cy="674.2" r="2.85" fill="#8860F0"/><circle cx="650.5" cy="982" r="2.85" fill="#8860F0"/><circle cx="918.2" cy="672.8" r="2.85" fill="#8860F0"/><circle cx="987.8" cy="696.7" r="2.85" fill="#0000FF"/><circle cx="1049.2" cy="685" r="2.85" fill="#8860F0"/>
<path d="M95.5 51V1121M94 1119.5H1103.8" stroke="#000" stroke-width="3" fill="none"/>
<path d="M90.3 277.2H94M90.3 571.2H94M90.3 865.2H94M141.5 1121v3.6M305 1121v3.6M468.4 1121v3.6M631.7 1121v3.6M795 1121v3.6M958.4 1121v3.6" stroke="#000" stroke-width="2.7" fill="none"/>
<g class="t" text-anchor="end"><text transform="translate(88.5 288) scale(.946 1)">10</text><text transform="translate(88.5 582) scale(.946 1)">0</text><text transform="translate(88.5 876) scale(.946 1)">-10</text></g>
<g class="t" text-anchor="middle"><text transform="translate(140.8 1147.8) scale(.946 1)">-15</text><text transform="translate(305 1147.8) scale(.946 1)">-10</text><text transform="translate(468.4 1147.8) scale(.946 1)">-5</text><text transform="translate(631.7 1147.8) scale(.946 1)">0</text><text transform="translate(795 1147.8) scale(.946 1)">5</text><text transform="translate(958.4 1147.8) scale(.946 1)">10</text>
<text transform="translate(597 1180.8) scale(.963 1)">umapNC_1</text>
<text transform="translate(34.2 586) rotate(-90) scale(.975 1)">umapNC_2</text></g>
<rect x="1116.1" y="547.3" width="15.6" height="76.7" fill="url(#g)"/>
<path d="M1116.1 554.5h3.1m9.4 0h3.1M1116.1 571.8h3.1m9.4 0h3.1M1116.1 589.1h3.1m9.4 0h3.1M1116.1 606.4h3.1m9.4 0h3.1" stroke="#fff" stroke-width=".7" fill="none"/>
<g class="l"><text transform="translate(1138.8 563.7) scale(.944 1)">1.00</text><text transform="translate(1138.8 580.9) scale(.944 1)">0.75</text><text transform="translate(1138.8 598.2) scale(.944 1)">0.50</text><text transform="translate(1138.8 615.4) scale(.944 1)">0.25</text><text transform="translate(1138.8 632.8) scale(.944 1)">0.00</text></g>
</svg>
</body></html>
